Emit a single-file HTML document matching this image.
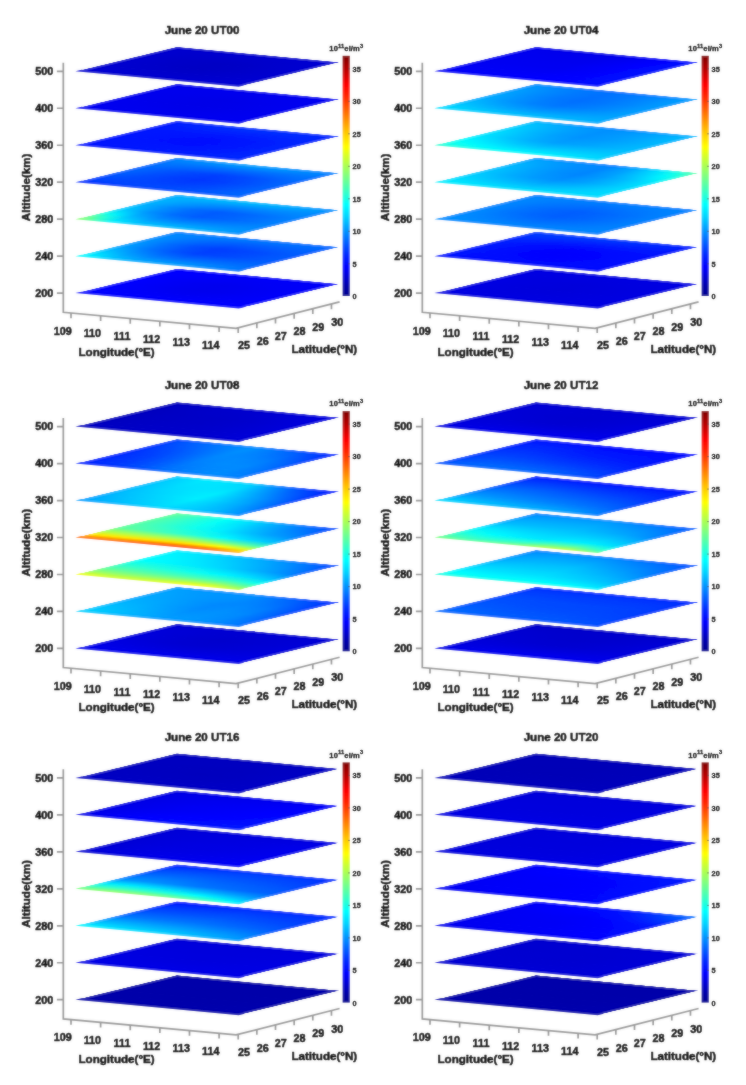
<!DOCTYPE html>
<html lang="en"><head><meta charset="utf-8"><title>June 20 electron density slices</title>
<style>html,body{margin:0;padding:0;background:#fff}body{width:746px;height:1085px;overflow:hidden}svg{display:block}text{stroke:#000;stroke-width:.5px;stroke-linejoin:round}text.s{stroke-width:.3px}#fig{width:746px;height:1085px}</style></head>
<body>
<div id="fig"><svg width="746" height="1085" viewBox="0 0 746 1085" font-family="'Liberation Sans', Arial, sans-serif" font-weight="bold"><defs><linearGradient id="mg1" x1="0" y1="0" x2="0" y2="1"><stop offset="0" stop-color="#000"/><stop offset="0.06" stop-color="#fff"/></linearGradient><mask id="m1" maskUnits="userSpaceOnUse" maskContentUnits="userSpaceOnUse" x="0" y="0" width="1" height="1"><rect width="1" height="1" fill="url(#mg1)"/></mask><linearGradient id="mg2" x1="0" y1="0" x2="0" y2="1"><stop offset="0.06" stop-color="#000"/><stop offset="0.14" stop-color="#fff"/></linearGradient><mask id="m2" maskUnits="userSpaceOnUse" maskContentUnits="userSpaceOnUse" x="0" y="0" width="1" height="1"><rect width="1" height="1" fill="url(#mg2)"/></mask><linearGradient id="mg3" x1="0" y1="0" x2="0" y2="1"><stop offset="0.14" stop-color="#000"/><stop offset="0.25" stop-color="#fff"/></linearGradient><mask id="m3" maskUnits="userSpaceOnUse" maskContentUnits="userSpaceOnUse" x="0" y="0" width="1" height="1"><rect width="1" height="1" fill="url(#mg3)"/></mask><linearGradient id="mg4" x1="0" y1="0" x2="0" y2="1"><stop offset="0.25" stop-color="#000"/><stop offset="0.4" stop-color="#fff"/></linearGradient><mask id="m4" maskUnits="userSpaceOnUse" maskContentUnits="userSpaceOnUse" x="0" y="0" width="1" height="1"><rect width="1" height="1" fill="url(#mg4)"/></mask><linearGradient id="mg5" x1="0" y1="0" x2="0" y2="1"><stop offset="0.4" stop-color="#000"/><stop offset="0.6" stop-color="#fff"/></linearGradient><mask id="m5" maskUnits="userSpaceOnUse" maskContentUnits="userSpaceOnUse" x="0" y="0" width="1" height="1"><rect width="1" height="1" fill="url(#mg5)"/></mask><linearGradient id="mg6" x1="0" y1="0" x2="0" y2="1"><stop offset="0.6" stop-color="#000"/><stop offset="0.8" stop-color="#fff"/></linearGradient><mask id="m6" maskUnits="userSpaceOnUse" maskContentUnits="userSpaceOnUse" x="0" y="0" width="1" height="1"><rect width="1" height="1" fill="url(#mg6)"/></mask><linearGradient id="mg7" x1="0" y1="0" x2="0" y2="1"><stop offset="0.8" stop-color="#000"/><stop offset="0.93" stop-color="#fff"/></linearGradient><mask id="m7" maskUnits="userSpaceOnUse" maskContentUnits="userSpaceOnUse" x="0" y="0" width="1" height="1"><rect width="1" height="1" fill="url(#mg7)"/></mask><linearGradient id="mg8" x1="0" y1="0" x2="0" y2="1"><stop offset="0.93" stop-color="#000"/><stop offset="1" stop-color="#fff"/></linearGradient><mask id="m8" maskUnits="userSpaceOnUse" maskContentUnits="userSpaceOnUse" x="0" y="0" width="1" height="1"><rect width="1" height="1" fill="url(#mg8)"/></mask><linearGradient id="cb" x1="0" y1="0" x2="0" y2="1"><stop offset="0" stop-color="#800000"/><stop offset="0.04" stop-color="#aa0000"/><stop offset="0.08" stop-color="#d50000"/><stop offset="0.12" stop-color="#ff0000"/><stop offset="0.17" stop-color="#ff2a00"/><stop offset="0.21" stop-color="#ff5500"/><stop offset="0.25" stop-color="#ff8000"/><stop offset="0.29" stop-color="#ffaa00"/><stop offset="0.33" stop-color="#ffd400"/><stop offset="0.38" stop-color="#ffff00"/><stop offset="0.42" stop-color="#d4ff2b"/><stop offset="0.46" stop-color="#aaff55"/><stop offset="0.5" stop-color="#80ff80"/><stop offset="0.54" stop-color="#55ffaa"/><stop offset="0.58" stop-color="#2affd5"/><stop offset="0.62" stop-color="#00ffff"/><stop offset="0.67" stop-color="#00d5ff"/><stop offset="0.71" stop-color="#00aaff"/><stop offset="0.75" stop-color="#0080ff"/><stop offset="0.79" stop-color="#0055ff"/><stop offset="0.83" stop-color="#002aff"/><stop offset="0.88" stop-color="#0000ff"/><stop offset="0.92" stop-color="#0000d5"/><stop offset="0.96" stop-color="#0000aa"/><stop offset="1" stop-color="#00008f"/></linearGradient><linearGradient id="g0_6_0"><stop offset="0" stop-color="#0002ff"/><stop offset="1" stop-color="#0002ff"/></linearGradient><linearGradient id="g0_6_1"><stop offset="0" stop-color="#0002ff"/><stop offset="0.04" stop-color="#0002ff"/><stop offset="0.1" stop-color="#0001ff"/><stop offset="0.2" stop-color="#0001ff"/><stop offset="0.35" stop-color="#0000ff"/><stop offset="0.5" stop-color="#0000fe"/><stop offset="0.65" stop-color="#0000fe"/><stop offset="0.8" stop-color="#0000ff"/><stop offset="0.9" stop-color="#0001ff"/><stop offset="1" stop-color="#0001ff"/></linearGradient><linearGradient id="g0_6_2"><stop offset="0" stop-color="#0002ff"/><stop offset="0.04" stop-color="#0001ff"/><stop offset="0.1" stop-color="#0000ff"/><stop offset="0.2" stop-color="#0000fd"/><stop offset="0.35" stop-color="#0000fb"/><stop offset="0.5" stop-color="#0000fa"/><stop offset="0.65" stop-color="#0000fb"/><stop offset="0.8" stop-color="#0000fc"/><stop offset="0.9" stop-color="#0000fe"/><stop offset="0.96" stop-color="#0000ff"/><stop offset="1" stop-color="#0000ff"/></linearGradient><linearGradient id="g0_6_3"><stop offset="0" stop-color="#0002ff"/><stop offset="0.04" stop-color="#0001ff"/><stop offset="0.1" stop-color="#0000fe"/><stop offset="0.2" stop-color="#0000fb"/><stop offset="0.35" stop-color="#0000f7"/><stop offset="0.5" stop-color="#0000f4"/><stop offset="0.65" stop-color="#0000f6"/><stop offset="0.8" stop-color="#0000f9"/><stop offset="0.9" stop-color="#0000fb"/><stop offset="0.96" stop-color="#0000fd"/><stop offset="1" stop-color="#0000fe"/></linearGradient><linearGradient id="g0_6_4"><stop offset="0" stop-color="#0002ff"/><stop offset="0.04" stop-color="#0000ff"/><stop offset="0.1" stop-color="#0000fc"/><stop offset="0.2" stop-color="#0000f8"/><stop offset="0.35" stop-color="#0000f2"/><stop offset="0.5" stop-color="#0000ef"/><stop offset="0.65" stop-color="#0000f1"/><stop offset="0.8" stop-color="#0000f6"/><stop offset="0.9" stop-color="#0000f9"/><stop offset="0.96" stop-color="#0000fb"/><stop offset="1" stop-color="#0000fd"/></linearGradient><linearGradient id="g0_6_5"><stop offset="0" stop-color="#0002ff"/><stop offset="0.04" stop-color="#0000ff"/><stop offset="0.1" stop-color="#0000fc"/><stop offset="0.2" stop-color="#0000f8"/><stop offset="0.35" stop-color="#0000f2"/><stop offset="0.5" stop-color="#0000ee"/><stop offset="0.65" stop-color="#0000f1"/><stop offset="0.8" stop-color="#0000f5"/><stop offset="0.9" stop-color="#0000f8"/><stop offset="0.96" stop-color="#0000fa"/><stop offset="1" stop-color="#0000fc"/></linearGradient><linearGradient id="g0_6_6"><stop offset="0" stop-color="#0002ff"/><stop offset="0.04" stop-color="#0001ff"/><stop offset="0.1" stop-color="#0000fe"/><stop offset="0.2" stop-color="#0000fb"/><stop offset="0.35" stop-color="#0000f7"/><stop offset="0.5" stop-color="#0000f4"/><stop offset="0.65" stop-color="#0000f5"/><stop offset="0.8" stop-color="#0000f7"/><stop offset="0.9" stop-color="#0000f8"/><stop offset="0.96" stop-color="#0000f9"/><stop offset="1" stop-color="#0000fa"/></linearGradient><linearGradient id="g0_6_7"><stop offset="0" stop-color="#0002ff"/><stop offset="0.04" stop-color="#0001ff"/><stop offset="0.1" stop-color="#0000ff"/><stop offset="0.2" stop-color="#0000fd"/><stop offset="0.35" stop-color="#0000fb"/><stop offset="0.5" stop-color="#0000f9"/><stop offset="0.8" stop-color="#0000f9"/><stop offset="0.9" stop-color="#0000f8"/><stop offset="1" stop-color="#0000f8"/></linearGradient><linearGradient id="g0_6_8"><stop offset="0" stop-color="#0002ff"/><stop offset="0.04" stop-color="#0002ff"/><stop offset="0.1" stop-color="#0001ff"/><stop offset="0.2" stop-color="#0000ff"/><stop offset="0.35" stop-color="#0000fd"/><stop offset="0.5" stop-color="#0000fc"/><stop offset="0.65" stop-color="#0000fb"/><stop offset="0.8" stop-color="#0000fa"/><stop offset="0.9" stop-color="#0000f8"/><stop offset="0.96" stop-color="#0000f8"/><stop offset="1" stop-color="#0000f7"/></linearGradient><linearGradient id="g0_5_0"><stop offset="0" stop-color="#03fffc"/><stop offset="0.04" stop-color="#00fdff"/><stop offset="0.1" stop-color="#00efff"/><stop offset="0.2" stop-color="#00d2ff"/><stop offset="0.35" stop-color="#00b7ff"/><stop offset="0.5" stop-color="#00b0ff"/><stop offset="0.65" stop-color="#00a6ff"/><stop offset="0.8" stop-color="#0095ff"/><stop offset="0.9" stop-color="#0087ff"/><stop offset="0.96" stop-color="#007fff"/><stop offset="1" stop-color="#0079ff"/></linearGradient><linearGradient id="g0_5_1"><stop offset="0" stop-color="#00faff"/><stop offset="0.04" stop-color="#00f3ff"/><stop offset="0.1" stop-color="#00e3ff"/><stop offset="0.2" stop-color="#00c3ff"/><stop offset="0.35" stop-color="#00a5ff"/><stop offset="0.5" stop-color="#009bff"/><stop offset="0.65" stop-color="#0094ff"/><stop offset="0.8" stop-color="#0088ff"/><stop offset="0.9" stop-color="#007fff"/><stop offset="0.96" stop-color="#0078ff"/><stop offset="1" stop-color="#0074ff"/></linearGradient><linearGradient id="g0_5_2"><stop offset="0" stop-color="#00e8ff"/><stop offset="0.04" stop-color="#00e0ff"/><stop offset="0.1" stop-color="#00cfff"/><stop offset="0.2" stop-color="#00aeff"/><stop offset="0.35" stop-color="#008eff"/><stop offset="0.5" stop-color="#0081ff"/><stop offset="0.65" stop-color="#007eff"/><stop offset="0.8" stop-color="#0078ff"/><stop offset="0.9" stop-color="#0074ff"/><stop offset="0.96" stop-color="#0071ff"/><stop offset="1" stop-color="#006fff"/></linearGradient><linearGradient id="g0_5_3"><stop offset="0" stop-color="#00cdff"/><stop offset="0.04" stop-color="#00c3ff"/><stop offset="0.1" stop-color="#00b1ff"/><stop offset="0.2" stop-color="#0093ff"/><stop offset="0.35" stop-color="#0072ff"/><stop offset="0.5" stop-color="#0063ff"/><stop offset="0.65" stop-color="#0064ff"/><stop offset="0.8" stop-color="#0066ff"/><stop offset="0.9" stop-color="#0067ff"/><stop offset="0.96" stop-color="#0068ff"/><stop offset="1" stop-color="#0069ff"/></linearGradient><linearGradient id="g0_5_4"><stop offset="0" stop-color="#00b0ff"/><stop offset="0.04" stop-color="#00a4ff"/><stop offset="0.1" stop-color="#0092ff"/><stop offset="0.2" stop-color="#0075ff"/><stop offset="0.35" stop-color="#0055ff"/><stop offset="0.5" stop-color="#0042ff"/><stop offset="0.65" stop-color="#0048ff"/><stop offset="0.8" stop-color="#0052ff"/><stop offset="0.9" stop-color="#0059ff"/><stop offset="0.96" stop-color="#005eff"/><stop offset="1" stop-color="#0062ff"/></linearGradient><linearGradient id="g0_5_5"><stop offset="0" stop-color="#00a0ff"/><stop offset="0.04" stop-color="#0095ff"/><stop offset="0.1" stop-color="#0085ff"/><stop offset="0.2" stop-color="#006dff"/><stop offset="0.35" stop-color="#0050ff"/><stop offset="0.5" stop-color="#003eff"/><stop offset="0.65" stop-color="#0044ff"/><stop offset="0.8" stop-color="#004fff"/><stop offset="0.9" stop-color="#0057ff"/><stop offset="0.96" stop-color="#005cff"/><stop offset="1" stop-color="#0060ff"/></linearGradient><linearGradient id="g0_5_6"><stop offset="0" stop-color="#0095ff"/><stop offset="0.04" stop-color="#008eff"/><stop offset="0.1" stop-color="#0085ff"/><stop offset="0.2" stop-color="#0077ff"/><stop offset="0.35" stop-color="#0067ff"/><stop offset="0.5" stop-color="#005dff"/><stop offset="0.65" stop-color="#005eff"/><stop offset="0.8" stop-color="#0061ff"/><stop offset="0.9" stop-color="#0063ff"/><stop offset="0.96" stop-color="#0064ff"/><stop offset="1" stop-color="#0065ff"/></linearGradient><linearGradient id="g0_5_7"><stop offset="0" stop-color="#008cff"/><stop offset="0.04" stop-color="#0089ff"/><stop offset="0.1" stop-color="#0086ff"/><stop offset="0.2" stop-color="#0081ff"/><stop offset="0.35" stop-color="#007aff"/><stop offset="0.5" stop-color="#0076ff"/><stop offset="0.65" stop-color="#0074ff"/><stop offset="0.8" stop-color="#0070ff"/><stop offset="0.9" stop-color="#006dff"/><stop offset="0.96" stop-color="#006bff"/><stop offset="1" stop-color="#0069ff"/></linearGradient><linearGradient id="g0_5_8"><stop offset="0" stop-color="#0086ff"/><stop offset="0.5" stop-color="#0086ff"/><stop offset="0.65" stop-color="#0081ff"/><stop offset="0.8" stop-color="#0079ff"/><stop offset="0.9" stop-color="#0073ff"/><stop offset="0.96" stop-color="#006fff"/><stop offset="1" stop-color="#006cff"/></linearGradient><linearGradient id="g0_4_0"><stop offset="0" stop-color="#8dff72"/><stop offset="0.04" stop-color="#80ff7f"/><stop offset="0.1" stop-color="#50ffaf"/><stop offset="0.2" stop-color="#00fbff"/><stop offset="0.35" stop-color="#00d2ff"/><stop offset="0.5" stop-color="#00cbff"/><stop offset="0.65" stop-color="#00c1ff"/><stop offset="0.8" stop-color="#00b0ff"/><stop offset="0.9" stop-color="#00a3ff"/><stop offset="0.96" stop-color="#009aff"/><stop offset="1" stop-color="#0094ff"/></linearGradient><linearGradient id="g0_4_1"><stop offset="0" stop-color="#80ff7f"/><stop offset="0.04" stop-color="#72ff8d"/><stop offset="0.1" stop-color="#41ffbe"/><stop offset="0.2" stop-color="#00ecff"/><stop offset="0.35" stop-color="#00c0ff"/><stop offset="0.5" stop-color="#00b7ff"/><stop offset="0.65" stop-color="#00b0ff"/><stop offset="0.8" stop-color="#00a5ff"/><stop offset="0.9" stop-color="#009cff"/><stop offset="0.96" stop-color="#0096ff"/><stop offset="1" stop-color="#0092ff"/></linearGradient><linearGradient id="g0_4_2"><stop offset="0" stop-color="#5effa1"/><stop offset="0.04" stop-color="#4fffb0"/><stop offset="0.1" stop-color="#23ffdc"/><stop offset="0.2" stop-color="#00d5ff"/><stop offset="0.35" stop-color="#00a9ff"/><stop offset="0.5" stop-color="#009dff"/><stop offset="0.65" stop-color="#009aff"/><stop offset="0.8" stop-color="#0096ff"/><stop offset="0.9" stop-color="#0093ff"/><stop offset="0.96" stop-color="#0091ff"/><stop offset="1" stop-color="#008fff"/></linearGradient><linearGradient id="g0_4_3"><stop offset="0" stop-color="#21ffde"/><stop offset="0.04" stop-color="#13ffec"/><stop offset="0.1" stop-color="#00efff"/><stop offset="0.2" stop-color="#00b5ff"/><stop offset="0.35" stop-color="#008cff"/><stop offset="0.5" stop-color="#007dff"/><stop offset="0.65" stop-color="#007fff"/><stop offset="0.8" stop-color="#0084ff"/><stop offset="0.9" stop-color="#0088ff"/><stop offset="0.96" stop-color="#008aff"/><stop offset="1" stop-color="#008cff"/></linearGradient><linearGradient id="g0_4_4"><stop offset="0" stop-color="#00deff"/><stop offset="0.04" stop-color="#00d1ff"/><stop offset="0.1" stop-color="#00b9ff"/><stop offset="0.2" stop-color="#0093ff"/><stop offset="0.35" stop-color="#006eff"/><stop offset="0.5" stop-color="#005cff"/><stop offset="0.65" stop-color="#0064ff"/><stop offset="0.8" stop-color="#0071ff"/><stop offset="0.9" stop-color="#007bff"/><stop offset="0.96" stop-color="#0083ff"/><stop offset="1" stop-color="#0088ff"/></linearGradient><linearGradient id="g0_4_5"><stop offset="0" stop-color="#00bfff"/><stop offset="0.04" stop-color="#00b4ff"/><stop offset="0.1" stop-color="#00a4ff"/><stop offset="0.2" stop-color="#008bff"/><stop offset="0.35" stop-color="#006dff"/><stop offset="0.5" stop-color="#005cff"/><stop offset="0.65" stop-color="#0064ff"/><stop offset="0.8" stop-color="#0071ff"/><stop offset="0.9" stop-color="#007bff"/><stop offset="0.96" stop-color="#0083ff"/><stop offset="1" stop-color="#0088ff"/></linearGradient><linearGradient id="g0_4_6"><stop offset="0" stop-color="#00b7ff"/><stop offset="0.04" stop-color="#00b2ff"/><stop offset="0.1" stop-color="#00abff"/><stop offset="0.2" stop-color="#00a0ff"/><stop offset="0.35" stop-color="#0093ff"/><stop offset="0.5" stop-color="#008bff"/><stop offset="0.65" stop-color="#008bff"/><stop offset="0.8" stop-color="#008cff"/><stop offset="0.9" stop-color="#008cff"/><stop offset="0.96" stop-color="#008dff"/><stop offset="1" stop-color="#008dff"/></linearGradient><linearGradient id="g0_4_7"><stop offset="0" stop-color="#00b2ff"/><stop offset="0.04" stop-color="#00b2ff"/><stop offset="0.1" stop-color="#00b3ff"/><stop offset="0.5" stop-color="#00b3ff"/><stop offset="0.65" stop-color="#00adff"/><stop offset="0.8" stop-color="#00a3ff"/><stop offset="0.9" stop-color="#009bff"/><stop offset="0.96" stop-color="#0095ff"/><stop offset="1" stop-color="#0092ff"/></linearGradient><linearGradient id="g0_4_8"><stop offset="0" stop-color="#00b0ff"/><stop offset="0.04" stop-color="#00b3ff"/><stop offset="0.1" stop-color="#00b7ff"/><stop offset="0.2" stop-color="#00beff"/><stop offset="0.35" stop-color="#00c6ff"/><stop offset="0.5" stop-color="#00cbff"/><stop offset="0.65" stop-color="#00c1ff"/><stop offset="0.8" stop-color="#00b0ff"/><stop offset="0.9" stop-color="#00a3ff"/><stop offset="0.96" stop-color="#009aff"/><stop offset="1" stop-color="#0094ff"/></linearGradient><linearGradient id="g0_3_0"><stop offset="0" stop-color="#002bff"/><stop offset="0.04" stop-color="#0030ff"/><stop offset="0.1" stop-color="#0036ff"/><stop offset="0.2" stop-color="#003fff"/><stop offset="0.35" stop-color="#004bff"/><stop offset="0.5" stop-color="#0052ff"/><stop offset="0.65" stop-color="#0057ff"/><stop offset="0.8" stop-color="#005fff"/><stop offset="0.9" stop-color="#0065ff"/><stop offset="0.96" stop-color="#0069ff"/><stop offset="1" stop-color="#006cff"/></linearGradient><linearGradient id="g0_3_1"><stop offset="0" stop-color="#0036ff"/><stop offset="0.04" stop-color="#0038ff"/><stop offset="0.1" stop-color="#003cff"/><stop offset="0.2" stop-color="#0042ff"/><stop offset="0.35" stop-color="#0049ff"/><stop offset="0.5" stop-color="#004dff"/><stop offset="0.65" stop-color="#0053ff"/><stop offset="0.8" stop-color="#005cff"/><stop offset="0.9" stop-color="#0063ff"/><stop offset="0.96" stop-color="#0068ff"/><stop offset="1" stop-color="#006cff"/></linearGradient><linearGradient id="g0_3_2"><stop offset="0" stop-color="#0043ff"/><stop offset="0.04" stop-color="#0044ff"/><stop offset="0.1" stop-color="#0044ff"/><stop offset="0.2" stop-color="#0045ff"/><stop offset="0.35" stop-color="#0046ff"/><stop offset="0.5" stop-color="#0047ff"/><stop offset="0.65" stop-color="#004eff"/><stop offset="0.8" stop-color="#0059ff"/><stop offset="0.9" stop-color="#0062ff"/><stop offset="0.96" stop-color="#0068ff"/><stop offset="1" stop-color="#006cff"/></linearGradient><linearGradient id="g0_3_3"><stop offset="0" stop-color="#0053ff"/><stop offset="0.04" stop-color="#0051ff"/><stop offset="0.1" stop-color="#004eff"/><stop offset="0.2" stop-color="#0049ff"/><stop offset="0.35" stop-color="#0043ff"/><stop offset="0.5" stop-color="#003fff"/><stop offset="0.65" stop-color="#0047ff"/><stop offset="0.8" stop-color="#0055ff"/><stop offset="0.9" stop-color="#0060ff"/><stop offset="0.96" stop-color="#0067ff"/><stop offset="1" stop-color="#006cff"/></linearGradient><linearGradient id="g0_3_4"><stop offset="0" stop-color="#0065ff"/><stop offset="0.04" stop-color="#0060ff"/><stop offset="0.1" stop-color="#0058ff"/><stop offset="0.2" stop-color="#004dff"/><stop offset="0.35" stop-color="#003fff"/><stop offset="0.5" stop-color="#0036ff"/><stop offset="0.65" stop-color="#0040ff"/><stop offset="0.8" stop-color="#0050ff"/><stop offset="0.9" stop-color="#005dff"/><stop offset="0.96" stop-color="#0066ff"/><stop offset="1" stop-color="#006cff"/></linearGradient><linearGradient id="g0_3_5"><stop offset="0" stop-color="#006eff"/><stop offset="0.04" stop-color="#0069ff"/><stop offset="0.1" stop-color="#0062ff"/><stop offset="0.2" stop-color="#0057ff"/><stop offset="0.35" stop-color="#0048ff"/><stop offset="0.5" stop-color="#0040ff"/><stop offset="0.65" stop-color="#0048ff"/><stop offset="0.8" stop-color="#0057ff"/><stop offset="0.9" stop-color="#0062ff"/><stop offset="0.96" stop-color="#0069ff"/><stop offset="1" stop-color="#006eff"/></linearGradient><linearGradient id="g0_3_6"><stop offset="0" stop-color="#0078ff"/><stop offset="0.04" stop-color="#0077ff"/><stop offset="0.1" stop-color="#0076ff"/><stop offset="0.2" stop-color="#0073ff"/><stop offset="0.35" stop-color="#0070ff"/><stop offset="0.5" stop-color="#006eff"/><stop offset="0.65" stop-color="#0070ff"/><stop offset="0.8" stop-color="#0073ff"/><stop offset="0.9" stop-color="#0076ff"/><stop offset="0.96" stop-color="#0077ff"/><stop offset="1" stop-color="#0078ff"/></linearGradient><linearGradient id="g0_3_7"><stop offset="0" stop-color="#0081ff"/><stop offset="0.04" stop-color="#0084ff"/><stop offset="0.1" stop-color="#0087ff"/><stop offset="0.2" stop-color="#008cff"/><stop offset="0.35" stop-color="#0093ff"/><stop offset="0.5" stop-color="#0097ff"/><stop offset="0.65" stop-color="#0093ff"/><stop offset="0.8" stop-color="#008cff"/><stop offset="0.9" stop-color="#0087ff"/><stop offset="0.96" stop-color="#0084ff"/><stop offset="1" stop-color="#0081ff"/></linearGradient><linearGradient id="g0_3_8"><stop offset="0" stop-color="#0086ff"/><stop offset="0.04" stop-color="#008bff"/><stop offset="0.1" stop-color="#0091ff"/><stop offset="0.2" stop-color="#009cff"/><stop offset="0.35" stop-color="#00a8ff"/><stop offset="0.5" stop-color="#00b0ff"/><stop offset="0.65" stop-color="#00a8ff"/><stop offset="0.8" stop-color="#009cff"/><stop offset="0.9" stop-color="#0091ff"/><stop offset="0.96" stop-color="#008bff"/><stop offset="1" stop-color="#0086ff"/></linearGradient><linearGradient id="g0_2_0"><stop offset="0" stop-color="#0012ff"/><stop offset="0.04" stop-color="#0013ff"/><stop offset="0.1" stop-color="#0015ff"/><stop offset="0.2" stop-color="#0018ff"/><stop offset="0.35" stop-color="#001cff"/><stop offset="0.5" stop-color="#001fff"/><stop offset="0.65" stop-color="#0021ff"/><stop offset="0.8" stop-color="#0025ff"/><stop offset="0.9" stop-color="#0028ff"/><stop offset="0.96" stop-color="#002aff"/><stop offset="1" stop-color="#002bff"/></linearGradient><linearGradient id="g0_2_1"><stop offset="0" stop-color="#0013ff"/><stop offset="0.04" stop-color="#0014ff"/><stop offset="0.1" stop-color="#0015ff"/><stop offset="0.2" stop-color="#0017ff"/><stop offset="0.35" stop-color="#001aff"/><stop offset="0.5" stop-color="#001cff"/><stop offset="0.65" stop-color="#001eff"/><stop offset="0.8" stop-color="#0023ff"/><stop offset="0.9" stop-color="#0027ff"/><stop offset="0.96" stop-color="#0029ff"/><stop offset="1" stop-color="#002bff"/></linearGradient><linearGradient id="g0_2_2"><stop offset="0" stop-color="#0014ff"/><stop offset="0.04" stop-color="#0014ff"/><stop offset="0.1" stop-color="#0015ff"/><stop offset="0.2" stop-color="#0016ff"/><stop offset="0.35" stop-color="#0017ff"/><stop offset="0.5" stop-color="#0018ff"/><stop offset="0.65" stop-color="#001bff"/><stop offset="0.8" stop-color="#0021ff"/><stop offset="0.9" stop-color="#0025ff"/><stop offset="0.96" stop-color="#0028ff"/><stop offset="1" stop-color="#002aff"/></linearGradient><linearGradient id="g0_2_3"><stop offset="0" stop-color="#0016ff"/><stop offset="0.04" stop-color="#0015ff"/><stop offset="0.2" stop-color="#0015ff"/><stop offset="0.35" stop-color="#0014ff"/><stop offset="0.5" stop-color="#0013ff"/><stop offset="0.65" stop-color="#0018ff"/><stop offset="0.8" stop-color="#001eff"/><stop offset="0.9" stop-color="#0024ff"/><stop offset="0.96" stop-color="#0027ff"/><stop offset="1" stop-color="#002aff"/></linearGradient><linearGradient id="g0_2_4"><stop offset="0" stop-color="#0017ff"/><stop offset="0.04" stop-color="#0016ff"/><stop offset="0.1" stop-color="#0015ff"/><stop offset="0.2" stop-color="#0013ff"/><stop offset="0.35" stop-color="#0010ff"/><stop offset="0.5" stop-color="#000eff"/><stop offset="0.65" stop-color="#0013ff"/><stop offset="0.8" stop-color="#001bff"/><stop offset="0.9" stop-color="#0022ff"/><stop offset="0.96" stop-color="#0026ff"/><stop offset="1" stop-color="#0029ff"/></linearGradient><linearGradient id="g0_2_5"><stop offset="0" stop-color="#0019ff"/><stop offset="0.04" stop-color="#0018ff"/><stop offset="0.1" stop-color="#0017ff"/><stop offset="0.2" stop-color="#0015ff"/><stop offset="0.35" stop-color="#0013ff"/><stop offset="0.5" stop-color="#0011ff"/><stop offset="0.65" stop-color="#0016ff"/><stop offset="0.8" stop-color="#001dff"/><stop offset="0.9" stop-color="#0022ff"/><stop offset="0.96" stop-color="#0026ff"/><stop offset="1" stop-color="#0029ff"/></linearGradient><linearGradient id="g0_2_6"><stop offset="0" stop-color="#001bff"/><stop offset="0.04" stop-color="#001cff"/><stop offset="0.1" stop-color="#001dff"/><stop offset="0.2" stop-color="#001fff"/><stop offset="0.35" stop-color="#0022ff"/><stop offset="0.5" stop-color="#0023ff"/><stop offset="0.65" stop-color="#0024ff"/><stop offset="0.8" stop-color="#0025ff"/><stop offset="0.9" stop-color="#0026ff"/><stop offset="0.96" stop-color="#0027ff"/><stop offset="1" stop-color="#0028ff"/></linearGradient><linearGradient id="g0_2_7"><stop offset="0" stop-color="#001dff"/><stop offset="0.04" stop-color="#0020ff"/><stop offset="0.1" stop-color="#0023ff"/><stop offset="0.2" stop-color="#0028ff"/><stop offset="0.35" stop-color="#002eff"/><stop offset="0.5" stop-color="#0032ff"/><stop offset="0.65" stop-color="#0030ff"/><stop offset="0.8" stop-color="#002dff"/><stop offset="0.9" stop-color="#002aff"/><stop offset="0.96" stop-color="#0028ff"/><stop offset="1" stop-color="#0027ff"/></linearGradient><linearGradient id="g0_2_8"><stop offset="0" stop-color="#001fff"/><stop offset="0.04" stop-color="#0022ff"/><stop offset="0.1" stop-color="#0026ff"/><stop offset="0.2" stop-color="#002dff"/><stop offset="0.35" stop-color="#0036ff"/><stop offset="0.5" stop-color="#003bff"/><stop offset="0.65" stop-color="#0037ff"/><stop offset="0.8" stop-color="#0031ff"/><stop offset="0.9" stop-color="#002cff"/><stop offset="0.96" stop-color="#0029ff"/><stop offset="1" stop-color="#0026ff"/></linearGradient><linearGradient id="g0_1_0"><stop offset="0" stop-color="#0000f2"/><stop offset="1" stop-color="#0000f2"/></linearGradient><linearGradient id="g0_1_1"><stop offset="0" stop-color="#0000f1"/><stop offset="0.2" stop-color="#0000f1"/><stop offset="0.35" stop-color="#0000f0"/><stop offset="0.65" stop-color="#0000f0"/><stop offset="0.8" stop-color="#0000f1"/><stop offset="0.9" stop-color="#0000f1"/><stop offset="0.96" stop-color="#0000f2"/><stop offset="1" stop-color="#0000f2"/></linearGradient><linearGradient id="g0_1_2"><stop offset="0" stop-color="#0000f1"/><stop offset="0.04" stop-color="#0000f1"/><stop offset="0.1" stop-color="#0000f0"/><stop offset="0.2" stop-color="#0000ef"/><stop offset="0.35" stop-color="#0000ef"/><stop offset="0.5" stop-color="#0000ee"/><stop offset="0.65" stop-color="#0000ef"/><stop offset="0.8" stop-color="#0000f0"/><stop offset="0.9" stop-color="#0000f1"/><stop offset="0.96" stop-color="#0000f1"/><stop offset="1" stop-color="#0000f2"/></linearGradient><linearGradient id="g0_1_3"><stop offset="0" stop-color="#0000f0"/><stop offset="0.04" stop-color="#0000f0"/><stop offset="0.1" stop-color="#0000ef"/><stop offset="0.2" stop-color="#0000ee"/><stop offset="0.35" stop-color="#0000ec"/><stop offset="0.5" stop-color="#0000eb"/><stop offset="0.65" stop-color="#0000ed"/><stop offset="0.8" stop-color="#0000ef"/><stop offset="0.9" stop-color="#0000f0"/><stop offset="0.96" stop-color="#0000f1"/><stop offset="1" stop-color="#0000f2"/></linearGradient><linearGradient id="g0_1_4"><stop offset="0" stop-color="#0000f0"/><stop offset="0.04" stop-color="#0000ef"/><stop offset="0.1" stop-color="#0000ee"/><stop offset="0.2" stop-color="#0000ec"/><stop offset="0.35" stop-color="#0000ea"/><stop offset="0.5" stop-color="#0000e9"/><stop offset="0.65" stop-color="#0000ea"/><stop offset="0.8" stop-color="#0000ed"/><stop offset="0.9" stop-color="#0000ef"/><stop offset="0.96" stop-color="#0000f1"/><stop offset="1" stop-color="#0000f2"/></linearGradient><linearGradient id="g0_1_5"><stop offset="0" stop-color="#0000ef"/><stop offset="0.04" stop-color="#0000ee"/><stop offset="0.1" stop-color="#0000ed"/><stop offset="0.2" stop-color="#0000ec"/><stop offset="0.35" stop-color="#0000ea"/><stop offset="0.5" stop-color="#0000e8"/><stop offset="0.65" stop-color="#0000ea"/><stop offset="0.8" stop-color="#0000ed"/><stop offset="0.9" stop-color="#0000ef"/><stop offset="0.96" stop-color="#0000f1"/><stop offset="1" stop-color="#0000f2"/></linearGradient><linearGradient id="g0_1_6"><stop offset="0" stop-color="#0000ee"/><stop offset="0.04" stop-color="#0000ee"/><stop offset="0.1" stop-color="#0000ed"/><stop offset="0.2" stop-color="#0000ed"/><stop offset="0.35" stop-color="#0000ec"/><stop offset="0.5" stop-color="#0000eb"/><stop offset="0.65" stop-color="#0000ed"/><stop offset="0.8" stop-color="#0000ee"/><stop offset="0.9" stop-color="#0000f0"/><stop offset="0.96" stop-color="#0000f1"/><stop offset="1" stop-color="#0000f2"/></linearGradient><linearGradient id="g0_1_7"><stop offset="0" stop-color="#0000ed"/><stop offset="0.2" stop-color="#0000ed"/><stop offset="0.35" stop-color="#0000ee"/><stop offset="0.5" stop-color="#0000ee"/><stop offset="0.65" stop-color="#0000ef"/><stop offset="0.8" stop-color="#0000f0"/><stop offset="0.9" stop-color="#0000f1"/><stop offset="0.96" stop-color="#0000f1"/><stop offset="1" stop-color="#0000f2"/></linearGradient><linearGradient id="g0_1_8"><stop offset="0" stop-color="#0000ed"/><stop offset="0.1" stop-color="#0000ed"/><stop offset="0.2" stop-color="#0000ee"/><stop offset="0.35" stop-color="#0000ef"/><stop offset="0.5" stop-color="#0000ef"/><stop offset="0.65" stop-color="#0000f0"/><stop offset="0.8" stop-color="#0000f0"/><stop offset="0.9" stop-color="#0000f1"/><stop offset="0.96" stop-color="#0000f2"/><stop offset="1" stop-color="#0000f2"/></linearGradient><linearGradient id="g0_0_0"><stop offset="0" stop-color="#0000d3"/><stop offset="1" stop-color="#0000d3"/></linearGradient><linearGradient id="g0_0_1"><stop offset="0" stop-color="#0000d3"/><stop offset="0.04" stop-color="#0000d2"/><stop offset="0.1" stop-color="#0000d2"/><stop offset="0.2" stop-color="#0000d1"/><stop offset="0.35" stop-color="#0000d1"/><stop offset="0.5" stop-color="#0000d0"/><stop offset="0.65" stop-color="#0000d1"/><stop offset="0.8" stop-color="#0000d2"/><stop offset="0.9" stop-color="#0000d2"/><stop offset="0.96" stop-color="#0000d3"/><stop offset="1" stop-color="#0000d3"/></linearGradient><linearGradient id="g0_0_2"><stop offset="0" stop-color="#0000d2"/><stop offset="0.04" stop-color="#0000d1"/><stop offset="0.1" stop-color="#0000d1"/><stop offset="0.2" stop-color="#0000d0"/><stop offset="0.35" stop-color="#0000ce"/><stop offset="0.5" stop-color="#0000cd"/><stop offset="0.65" stop-color="#0000ce"/><stop offset="0.8" stop-color="#0000d0"/><stop offset="0.9" stop-color="#0000d1"/><stop offset="0.96" stop-color="#0000d2"/><stop offset="1" stop-color="#0000d3"/></linearGradient><linearGradient id="g0_0_3"><stop offset="0" stop-color="#0000d1"/><stop offset="0.04" stop-color="#0000d0"/><stop offset="0.1" stop-color="#0000cf"/><stop offset="0.2" stop-color="#0000cd"/><stop offset="0.35" stop-color="#0000cb"/><stop offset="0.5" stop-color="#0000c9"/><stop offset="0.65" stop-color="#0000cb"/><stop offset="0.8" stop-color="#0000ce"/><stop offset="0.9" stop-color="#0000d0"/><stop offset="0.96" stop-color="#0000d2"/><stop offset="1" stop-color="#0000d3"/></linearGradient><linearGradient id="g0_0_4"><stop offset="0" stop-color="#0000d1"/><stop offset="0.04" stop-color="#0000cf"/><stop offset="0.1" stop-color="#0000ce"/><stop offset="0.2" stop-color="#0000cb"/><stop offset="0.35" stop-color="#0000c7"/><stop offset="0.5" stop-color="#0000c5"/><stop offset="0.65" stop-color="#0000c8"/><stop offset="0.8" stop-color="#0000cc"/><stop offset="0.9" stop-color="#0000cf"/><stop offset="0.96" stop-color="#0000d1"/><stop offset="1" stop-color="#0000d3"/></linearGradient><linearGradient id="g0_0_5"><stop offset="0" stop-color="#0000d0"/><stop offset="0.04" stop-color="#0000cf"/><stop offset="0.1" stop-color="#0000cd"/><stop offset="0.2" stop-color="#0000ca"/><stop offset="0.35" stop-color="#0000c7"/><stop offset="0.5" stop-color="#0000c5"/><stop offset="0.65" stop-color="#0000c7"/><stop offset="0.8" stop-color="#0000cc"/><stop offset="0.9" stop-color="#0000cf"/><stop offset="0.96" stop-color="#0000d1"/><stop offset="1" stop-color="#0000d3"/></linearGradient><linearGradient id="g0_0_6"><stop offset="0" stop-color="#0000cf"/><stop offset="0.04" stop-color="#0000cf"/><stop offset="0.1" stop-color="#0000ce"/><stop offset="0.2" stop-color="#0000cc"/><stop offset="0.35" stop-color="#0000cb"/><stop offset="0.5" stop-color="#0000ca"/><stop offset="0.65" stop-color="#0000cb"/><stop offset="0.8" stop-color="#0000ce"/><stop offset="0.9" stop-color="#0000d0"/><stop offset="0.96" stop-color="#0000d2"/><stop offset="1" stop-color="#0000d3"/></linearGradient><linearGradient id="g0_0_7"><stop offset="0" stop-color="#0000ce"/><stop offset="0.5" stop-color="#0000ce"/><stop offset="0.65" stop-color="#0000cf"/><stop offset="0.8" stop-color="#0000d0"/><stop offset="0.9" stop-color="#0000d2"/><stop offset="0.96" stop-color="#0000d2"/><stop offset="1" stop-color="#0000d3"/></linearGradient><linearGradient id="g0_0_8"><stop offset="0" stop-color="#0000ce"/><stop offset="0.1" stop-color="#0000ce"/><stop offset="0.2" stop-color="#0000cf"/><stop offset="0.35" stop-color="#0000d0"/><stop offset="0.5" stop-color="#0000d0"/><stop offset="0.65" stop-color="#0000d1"/><stop offset="0.8" stop-color="#0000d2"/><stop offset="0.9" stop-color="#0000d2"/><stop offset="0.96" stop-color="#0000d3"/><stop offset="1" stop-color="#0000d3"/></linearGradient><linearGradient id="g1_6_0"><stop offset="0" stop-color="#0000e2"/><stop offset="1" stop-color="#0000e2"/></linearGradient><linearGradient id="g1_6_1"><stop offset="0" stop-color="#0000e2"/><stop offset="0.2" stop-color="#0000e2"/><stop offset="0.35" stop-color="#0000e1"/><stop offset="0.65" stop-color="#0000e1"/><stop offset="0.8" stop-color="#0000e2"/><stop offset="1" stop-color="#0000e2"/></linearGradient><linearGradient id="g1_6_2"><stop offset="0" stop-color="#0000e2"/><stop offset="0.1" stop-color="#0000e2"/><stop offset="0.2" stop-color="#0000e1"/><stop offset="0.35" stop-color="#0000e0"/><stop offset="0.65" stop-color="#0000e0"/><stop offset="0.8" stop-color="#0000e1"/><stop offset="0.9" stop-color="#0000e2"/><stop offset="1" stop-color="#0000e2"/></linearGradient><linearGradient id="g1_6_3"><stop offset="0" stop-color="#0000e2"/><stop offset="0.04" stop-color="#0000e2"/><stop offset="0.1" stop-color="#0000e1"/><stop offset="0.2" stop-color="#0000e0"/><stop offset="0.35" stop-color="#0000de"/><stop offset="0.65" stop-color="#0000de"/><stop offset="0.8" stop-color="#0000e0"/><stop offset="0.9" stop-color="#0000e1"/><stop offset="0.96" stop-color="#0000e2"/><stop offset="1" stop-color="#0000e2"/></linearGradient><linearGradient id="g1_6_4"><stop offset="0" stop-color="#0000e2"/><stop offset="0.04" stop-color="#0000e2"/><stop offset="0.1" stop-color="#0000e1"/><stop offset="0.2" stop-color="#0000df"/><stop offset="0.35" stop-color="#0000dd"/><stop offset="0.5" stop-color="#0000db"/><stop offset="0.65" stop-color="#0000dd"/><stop offset="0.8" stop-color="#0000df"/><stop offset="0.9" stop-color="#0000e1"/><stop offset="0.96" stop-color="#0000e2"/><stop offset="1" stop-color="#0000e2"/></linearGradient><linearGradient id="g1_6_5"><stop offset="0" stop-color="#0000e2"/><stop offset="0.04" stop-color="#0000e2"/><stop offset="0.1" stop-color="#0000e1"/><stop offset="0.2" stop-color="#0000df"/><stop offset="0.35" stop-color="#0000dd"/><stop offset="0.5" stop-color="#0000db"/><stop offset="0.65" stop-color="#0000dd"/><stop offset="0.8" stop-color="#0000df"/><stop offset="0.9" stop-color="#0000e1"/><stop offset="0.96" stop-color="#0000e2"/><stop offset="1" stop-color="#0000e2"/></linearGradient><linearGradient id="g1_6_6"><stop offset="0" stop-color="#0000e2"/><stop offset="0.04" stop-color="#0000e2"/><stop offset="0.1" stop-color="#0000e1"/><stop offset="0.2" stop-color="#0000e0"/><stop offset="0.35" stop-color="#0000df"/><stop offset="0.5" stop-color="#0000de"/><stop offset="0.65" stop-color="#0000df"/><stop offset="0.8" stop-color="#0000e0"/><stop offset="0.9" stop-color="#0000e1"/><stop offset="0.96" stop-color="#0000e2"/><stop offset="1" stop-color="#0000e2"/></linearGradient><linearGradient id="g1_6_7"><stop offset="0" stop-color="#0000e2"/><stop offset="0.2" stop-color="#0000e2"/><stop offset="0.35" stop-color="#0000e1"/><stop offset="0.65" stop-color="#0000e1"/><stop offset="0.8" stop-color="#0000e2"/><stop offset="1" stop-color="#0000e2"/></linearGradient><linearGradient id="g1_6_8"><stop offset="0" stop-color="#0000e2"/><stop offset="1" stop-color="#0000e2"/></linearGradient><linearGradient id="g1_5_0"><stop offset="0" stop-color="#0012ff"/><stop offset="0.04" stop-color="#0011ff"/><stop offset="0.1" stop-color="#0010ff"/><stop offset="0.2" stop-color="#000fff"/><stop offset="0.35" stop-color="#000dff"/><stop offset="0.5" stop-color="#000dff"/><stop offset="0.65" stop-color="#000cff"/><stop offset="0.8" stop-color="#000aff"/><stop offset="0.9" stop-color="#0009ff"/><stop offset="0.96" stop-color="#0008ff"/><stop offset="1" stop-color="#0007ff"/></linearGradient><linearGradient id="g1_5_1"><stop offset="0" stop-color="#0014ff"/><stop offset="0.04" stop-color="#0013ff"/><stop offset="0.1" stop-color="#0011ff"/><stop offset="0.2" stop-color="#000fff"/><stop offset="0.35" stop-color="#000cff"/><stop offset="0.5" stop-color="#000aff"/><stop offset="0.8" stop-color="#000aff"/><stop offset="0.9" stop-color="#0009ff"/><stop offset="1" stop-color="#0009ff"/></linearGradient><linearGradient id="g1_5_2"><stop offset="0" stop-color="#0016ff"/><stop offset="0.04" stop-color="#0015ff"/><stop offset="0.1" stop-color="#0012ff"/><stop offset="0.2" stop-color="#000eff"/><stop offset="0.35" stop-color="#000aff"/><stop offset="0.5" stop-color="#0007ff"/><stop offset="0.65" stop-color="#0008ff"/><stop offset="0.8" stop-color="#0009ff"/><stop offset="0.9" stop-color="#000aff"/><stop offset="0.96" stop-color="#000bff"/><stop offset="1" stop-color="#000cff"/></linearGradient><linearGradient id="g1_5_3"><stop offset="0" stop-color="#001aff"/><stop offset="0.04" stop-color="#0017ff"/><stop offset="0.1" stop-color="#0014ff"/><stop offset="0.2" stop-color="#000eff"/><stop offset="0.35" stop-color="#0007ff"/><stop offset="0.5" stop-color="#0003ff"/><stop offset="0.65" stop-color="#0005ff"/><stop offset="0.8" stop-color="#0009ff"/><stop offset="0.9" stop-color="#000bff"/><stop offset="0.96" stop-color="#000dff"/><stop offset="1" stop-color="#000fff"/></linearGradient><linearGradient id="g1_5_4"><stop offset="0" stop-color="#001dff"/><stop offset="0.04" stop-color="#001aff"/><stop offset="0.1" stop-color="#0015ff"/><stop offset="0.2" stop-color="#000eff"/><stop offset="0.35" stop-color="#0004ff"/><stop offset="0.5" stop-color="#0000fe"/><stop offset="0.65" stop-color="#0002ff"/><stop offset="0.8" stop-color="#0008ff"/><stop offset="0.9" stop-color="#000dff"/><stop offset="0.96" stop-color="#0010ff"/><stop offset="1" stop-color="#0012ff"/></linearGradient><linearGradient id="g1_5_5"><stop offset="0" stop-color="#0023ff"/><stop offset="0.04" stop-color="#001fff"/><stop offset="0.1" stop-color="#001bff"/><stop offset="0.2" stop-color="#0013ff"/><stop offset="0.35" stop-color="#000aff"/><stop offset="0.5" stop-color="#0005ff"/><stop offset="0.65" stop-color="#0008ff"/><stop offset="0.8" stop-color="#000cff"/><stop offset="0.9" stop-color="#0010ff"/><stop offset="0.96" stop-color="#0012ff"/><stop offset="1" stop-color="#0014ff"/></linearGradient><linearGradient id="g1_5_6"><stop offset="0" stop-color="#0031ff"/><stop offset="0.04" stop-color="#0030ff"/><stop offset="0.1" stop-color="#002dff"/><stop offset="0.2" stop-color="#0029ff"/><stop offset="0.35" stop-color="#0024ff"/><stop offset="0.5" stop-color="#0020ff"/><stop offset="0.65" stop-color="#001fff"/><stop offset="0.8" stop-color="#001dff"/><stop offset="0.9" stop-color="#001bff"/><stop offset="0.96" stop-color="#0019ff"/><stop offset="1" stop-color="#0019ff"/></linearGradient><linearGradient id="g1_5_7"><stop offset="0" stop-color="#003eff"/><stop offset="0.04" stop-color="#003dff"/><stop offset="0.1" stop-color="#003cff"/><stop offset="0.2" stop-color="#003bff"/><stop offset="0.35" stop-color="#0039ff"/><stop offset="0.5" stop-color="#0037ff"/><stop offset="0.65" stop-color="#0032ff"/><stop offset="0.8" stop-color="#002aff"/><stop offset="0.9" stop-color="#0024ff"/><stop offset="0.96" stop-color="#001fff"/><stop offset="1" stop-color="#001cff"/></linearGradient><linearGradient id="g1_5_8"><stop offset="0" stop-color="#0045ff"/><stop offset="0.5" stop-color="#0045ff"/><stop offset="0.65" stop-color="#003eff"/><stop offset="0.8" stop-color="#0032ff"/><stop offset="0.9" stop-color="#0029ff"/><stop offset="0.96" stop-color="#0023ff"/><stop offset="1" stop-color="#001fff"/></linearGradient><linearGradient id="g1_4_0"><stop offset="0" stop-color="#0094ff"/><stop offset="0.04" stop-color="#0093ff"/><stop offset="0.1" stop-color="#0092ff"/><stop offset="0.2" stop-color="#0091ff"/><stop offset="0.35" stop-color="#008fff"/><stop offset="0.5" stop-color="#008dff"/><stop offset="0.65" stop-color="#008cff"/><stop offset="0.8" stop-color="#008aff"/><stop offset="0.9" stop-color="#0088ff"/><stop offset="0.96" stop-color="#0087ff"/><stop offset="1" stop-color="#0086ff"/></linearGradient><linearGradient id="g1_4_1"><stop offset="0" stop-color="#0093ff"/><stop offset="0.04" stop-color="#0091ff"/><stop offset="0.1" stop-color="#008fff"/><stop offset="0.2" stop-color="#008cff"/><stop offset="0.35" stop-color="#0087ff"/><stop offset="0.5" stop-color="#0084ff"/><stop offset="0.65" stop-color="#0085ff"/><stop offset="0.8" stop-color="#0085ff"/><stop offset="0.9" stop-color="#0086ff"/><stop offset="1" stop-color="#0086ff"/></linearGradient><linearGradient id="g1_4_2"><stop offset="0" stop-color="#0092ff"/><stop offset="0.04" stop-color="#008fff"/><stop offset="0.1" stop-color="#008bff"/><stop offset="0.2" stop-color="#0085ff"/><stop offset="0.35" stop-color="#007eff"/><stop offset="0.5" stop-color="#0079ff"/><stop offset="0.65" stop-color="#007cff"/><stop offset="0.8" stop-color="#0080ff"/><stop offset="0.9" stop-color="#0083ff"/><stop offset="0.96" stop-color="#0085ff"/><stop offset="1" stop-color="#0086ff"/></linearGradient><linearGradient id="g1_4_3"><stop offset="0" stop-color="#0090ff"/><stop offset="0.04" stop-color="#008cff"/><stop offset="0.1" stop-color="#0086ff"/><stop offset="0.2" stop-color="#007eff"/><stop offset="0.35" stop-color="#0073ff"/><stop offset="0.5" stop-color="#006dff"/><stop offset="0.65" stop-color="#0071ff"/><stop offset="0.8" stop-color="#0079ff"/><stop offset="0.9" stop-color="#007fff"/><stop offset="0.96" stop-color="#0083ff"/><stop offset="1" stop-color="#0086ff"/></linearGradient><linearGradient id="g1_4_4"><stop offset="0" stop-color="#008eff"/><stop offset="0.04" stop-color="#0089ff"/><stop offset="0.1" stop-color="#0081ff"/><stop offset="0.2" stop-color="#0075ff"/><stop offset="0.35" stop-color="#0067ff"/><stop offset="0.5" stop-color="#005fff"/><stop offset="0.65" stop-color="#0066ff"/><stop offset="0.8" stop-color="#0072ff"/><stop offset="0.9" stop-color="#007bff"/><stop offset="0.96" stop-color="#0082ff"/><stop offset="1" stop-color="#0086ff"/></linearGradient><linearGradient id="g1_4_5"><stop offset="0" stop-color="#008dff"/><stop offset="0.04" stop-color="#0087ff"/><stop offset="0.1" stop-color="#0080ff"/><stop offset="0.2" stop-color="#0074ff"/><stop offset="0.35" stop-color="#0067ff"/><stop offset="0.5" stop-color="#005eff"/><stop offset="0.65" stop-color="#0066ff"/><stop offset="0.8" stop-color="#0071ff"/><stop offset="0.9" stop-color="#007bff"/><stop offset="0.96" stop-color="#0082ff"/><stop offset="1" stop-color="#0086ff"/></linearGradient><linearGradient id="g1_4_6"><stop offset="0" stop-color="#008aff"/><stop offset="0.04" stop-color="#0087ff"/><stop offset="0.1" stop-color="#0083ff"/><stop offset="0.2" stop-color="#007cff"/><stop offset="0.35" stop-color="#0074ff"/><stop offset="0.5" stop-color="#006fff"/><stop offset="0.65" stop-color="#0073ff"/><stop offset="0.8" stop-color="#007aff"/><stop offset="0.9" stop-color="#0080ff"/><stop offset="0.96" stop-color="#0084ff"/><stop offset="1" stop-color="#0086ff"/></linearGradient><linearGradient id="g1_4_7"><stop offset="0" stop-color="#0088ff"/><stop offset="0.04" stop-color="#0087ff"/><stop offset="0.1" stop-color="#0085ff"/><stop offset="0.2" stop-color="#0082ff"/><stop offset="0.35" stop-color="#007fff"/><stop offset="0.5" stop-color="#007dff"/><stop offset="0.65" stop-color="#007fff"/><stop offset="0.8" stop-color="#0082ff"/><stop offset="0.9" stop-color="#0084ff"/><stop offset="0.96" stop-color="#0085ff"/><stop offset="1" stop-color="#0086ff"/></linearGradient><linearGradient id="g1_4_8"><stop offset="0" stop-color="#0086ff"/><stop offset="1" stop-color="#0086ff"/></linearGradient><linearGradient id="g1_3_0"><stop offset="0" stop-color="#00f5ff"/><stop offset="0.04" stop-color="#00f3ff"/><stop offset="0.1" stop-color="#00f1ff"/><stop offset="0.2" stop-color="#00eeff"/><stop offset="0.35" stop-color="#00e9ff"/><stop offset="0.5" stop-color="#00e7ff"/><stop offset="0.65" stop-color="#00e4ff"/><stop offset="0.8" stop-color="#00e0ff"/><stop offset="0.9" stop-color="#00ddff"/><stop offset="0.96" stop-color="#00dbff"/><stop offset="1" stop-color="#00d9ff"/></linearGradient><linearGradient id="g1_3_1"><stop offset="0" stop-color="#00eeff"/><stop offset="0.04" stop-color="#00ebff"/><stop offset="0.1" stop-color="#00e8ff"/><stop offset="0.2" stop-color="#00e2ff"/><stop offset="0.35" stop-color="#00dbff"/><stop offset="0.5" stop-color="#00d7ff"/><stop offset="0.65" stop-color="#00d8ff"/><stop offset="0.8" stop-color="#00d9ff"/><stop offset="0.9" stop-color="#00daff"/><stop offset="0.96" stop-color="#00dbff"/><stop offset="1" stop-color="#00dbff"/></linearGradient><linearGradient id="g1_3_2"><stop offset="0" stop-color="#00e5ff"/><stop offset="0.04" stop-color="#00e2ff"/><stop offset="0.1" stop-color="#00dcff"/><stop offset="0.2" stop-color="#00d4ff"/><stop offset="0.35" stop-color="#00caff"/><stop offset="0.5" stop-color="#00c3ff"/><stop offset="0.65" stop-color="#00c8ff"/><stop offset="0.8" stop-color="#00d0ff"/><stop offset="0.9" stop-color="#00d7ff"/><stop offset="0.96" stop-color="#00dbff"/><stop offset="1" stop-color="#00deff"/></linearGradient><linearGradient id="g1_3_3"><stop offset="0" stop-color="#00dbff"/><stop offset="0.04" stop-color="#00d6ff"/><stop offset="0.1" stop-color="#00ceff"/><stop offset="0.2" stop-color="#00c2ff"/><stop offset="0.35" stop-color="#00b4ff"/><stop offset="0.5" stop-color="#00abff"/><stop offset="0.65" stop-color="#00b5ff"/><stop offset="0.8" stop-color="#00c6ff"/><stop offset="0.9" stop-color="#00d3ff"/><stop offset="0.96" stop-color="#00dcff"/><stop offset="1" stop-color="#00e2ff"/></linearGradient><linearGradient id="g1_3_4"><stop offset="0" stop-color="#00d0ff"/><stop offset="0.04" stop-color="#00c9ff"/><stop offset="0.1" stop-color="#00bfff"/><stop offset="0.2" stop-color="#00afff"/><stop offset="0.35" stop-color="#009cff"/><stop offset="0.5" stop-color="#0091ff"/><stop offset="0.65" stop-color="#00a0ff"/><stop offset="0.8" stop-color="#00baff"/><stop offset="0.9" stop-color="#00cfff"/><stop offset="0.96" stop-color="#00dcff"/><stop offset="1" stop-color="#00e5ff"/></linearGradient><linearGradient id="g1_3_5"><stop offset="0" stop-color="#00c7ff"/><stop offset="0.04" stop-color="#00c0ff"/><stop offset="0.1" stop-color="#00b6ff"/><stop offset="0.2" stop-color="#00a6ff"/><stop offset="0.35" stop-color="#0092ff"/><stop offset="0.5" stop-color="#0086ff"/><stop offset="0.65" stop-color="#009bff"/><stop offset="0.8" stop-color="#00bcff"/><stop offset="0.9" stop-color="#00d7ff"/><stop offset="0.96" stop-color="#00e8ff"/><stop offset="1" stop-color="#00f4ff"/></linearGradient><linearGradient id="g1_3_6"><stop offset="0" stop-color="#00b7ff"/><stop offset="0.04" stop-color="#00b2ff"/><stop offset="0.1" stop-color="#00aaff"/><stop offset="0.2" stop-color="#009eff"/><stop offset="0.35" stop-color="#008fff"/><stop offset="0.5" stop-color="#0086ff"/><stop offset="0.65" stop-color="#00a4ff"/><stop offset="0.8" stop-color="#00d3ff"/><stop offset="0.9" stop-color="#00f9ff"/><stop offset="0.96" stop-color="#13ffec"/><stop offset="1" stop-color="#25ffda"/></linearGradient><linearGradient id="g1_3_7"><stop offset="0" stop-color="#00aaff"/><stop offset="0.04" stop-color="#00a6ff"/><stop offset="0.1" stop-color="#00a0ff"/><stop offset="0.2" stop-color="#0098ff"/><stop offset="0.35" stop-color="#008dff"/><stop offset="0.5" stop-color="#0086ff"/><stop offset="0.65" stop-color="#00abff"/><stop offset="0.8" stop-color="#00e7ff"/><stop offset="0.9" stop-color="#17ffe8"/><stop offset="0.96" stop-color="#37ffc8"/><stop offset="1" stop-color="#4cffb3"/></linearGradient><linearGradient id="g1_3_8"><stop offset="0" stop-color="#00a2ff"/><stop offset="0.04" stop-color="#009fff"/><stop offset="0.1" stop-color="#009bff"/><stop offset="0.2" stop-color="#0094ff"/><stop offset="0.35" stop-color="#008cff"/><stop offset="0.5" stop-color="#0086ff"/><stop offset="0.65" stop-color="#00afff"/><stop offset="0.8" stop-color="#00f2ff"/><stop offset="0.9" stop-color="#29ffd6"/><stop offset="0.96" stop-color="#4cffb3"/><stop offset="1" stop-color="#64ff9b"/></linearGradient><linearGradient id="g1_2_0"><stop offset="0" stop-color="#2dffd2"/><stop offset="0.04" stop-color="#28ffd7"/><stop offset="0.1" stop-color="#22ffdd"/><stop offset="0.2" stop-color="#18ffe7"/><stop offset="0.35" stop-color="#0bfff4"/><stop offset="0.5" stop-color="#03fffc"/><stop offset="0.65" stop-color="#00fbff"/><stop offset="0.8" stop-color="#00eeff"/><stop offset="0.9" stop-color="#00e4ff"/><stop offset="0.96" stop-color="#00deff"/><stop offset="1" stop-color="#00d9ff"/></linearGradient><linearGradient id="g1_2_1"><stop offset="0" stop-color="#22ffdd"/><stop offset="0.04" stop-color="#1cffe3"/><stop offset="0.1" stop-color="#15ffea"/><stop offset="0.2" stop-color="#09fff6"/><stop offset="0.35" stop-color="#00f9ff"/><stop offset="0.5" stop-color="#00f0ff"/><stop offset="0.65" stop-color="#00ebff"/><stop offset="0.8" stop-color="#00e3ff"/><stop offset="0.9" stop-color="#00dcff"/><stop offset="0.96" stop-color="#00d8ff"/><stop offset="1" stop-color="#00d5ff"/></linearGradient><linearGradient id="g1_2_2"><stop offset="0" stop-color="#13ffec"/><stop offset="0.04" stop-color="#0dfff2"/><stop offset="0.1" stop-color="#04fffb"/><stop offset="0.2" stop-color="#00f5ff"/><stop offset="0.35" stop-color="#00e4ff"/><stop offset="0.5" stop-color="#00daff"/><stop offset="0.65" stop-color="#00d8ff"/><stop offset="0.8" stop-color="#00d4ff"/><stop offset="0.9" stop-color="#00d2ff"/><stop offset="0.96" stop-color="#00d0ff"/><stop offset="1" stop-color="#00cfff"/></linearGradient><linearGradient id="g1_2_3"><stop offset="0" stop-color="#02fffd"/><stop offset="0.04" stop-color="#00faff"/><stop offset="0.1" stop-color="#00efff"/><stop offset="0.2" stop-color="#00dfff"/><stop offset="0.35" stop-color="#00caff"/><stop offset="0.5" stop-color="#00beff"/><stop offset="0.65" stop-color="#00c0ff"/><stop offset="0.8" stop-color="#00c3ff"/><stop offset="0.9" stop-color="#00c5ff"/><stop offset="0.96" stop-color="#00c7ff"/><stop offset="1" stop-color="#00c8ff"/></linearGradient><linearGradient id="g1_2_4"><stop offset="0" stop-color="#00eeff"/><stop offset="0.04" stop-color="#00e5ff"/><stop offset="0.1" stop-color="#00d9ff"/><stop offset="0.2" stop-color="#00c6ff"/><stop offset="0.35" stop-color="#00aeff"/><stop offset="0.5" stop-color="#00a0ff"/><stop offset="0.65" stop-color="#00a6ff"/><stop offset="0.8" stop-color="#00b0ff"/><stop offset="0.9" stop-color="#00b8ff"/><stop offset="0.96" stop-color="#00bdff"/><stop offset="1" stop-color="#00c0ff"/></linearGradient><linearGradient id="g1_2_5"><stop offset="0" stop-color="#00e3ff"/><stop offset="0.04" stop-color="#00daff"/><stop offset="0.1" stop-color="#00cdff"/><stop offset="0.2" stop-color="#00baff"/><stop offset="0.35" stop-color="#00a2ff"/><stop offset="0.5" stop-color="#0094ff"/><stop offset="0.65" stop-color="#009bff"/><stop offset="0.8" stop-color="#00a8ff"/><stop offset="0.9" stop-color="#00b2ff"/><stop offset="0.96" stop-color="#00b9ff"/><stop offset="1" stop-color="#00beff"/></linearGradient><linearGradient id="g1_2_6"><stop offset="0" stop-color="#00d3ff"/><stop offset="0.04" stop-color="#00cbff"/><stop offset="0.1" stop-color="#00c1ff"/><stop offset="0.2" stop-color="#00b1ff"/><stop offset="0.35" stop-color="#009eff"/><stop offset="0.5" stop-color="#0091ff"/><stop offset="0.65" stop-color="#009aff"/><stop offset="0.8" stop-color="#00a7ff"/><stop offset="0.9" stop-color="#00b2ff"/><stop offset="0.96" stop-color="#00b9ff"/><stop offset="1" stop-color="#00beff"/></linearGradient><linearGradient id="g1_2_7"><stop offset="0" stop-color="#00c5ff"/><stop offset="0.04" stop-color="#00bfff"/><stop offset="0.1" stop-color="#00b7ff"/><stop offset="0.2" stop-color="#00aaff"/><stop offset="0.35" stop-color="#009aff"/><stop offset="0.5" stop-color="#0090ff"/><stop offset="0.65" stop-color="#0098ff"/><stop offset="0.8" stop-color="#00a6ff"/><stop offset="0.9" stop-color="#00b1ff"/><stop offset="0.96" stop-color="#00b8ff"/><stop offset="1" stop-color="#00beff"/></linearGradient><linearGradient id="g1_2_8"><stop offset="0" stop-color="#00beff"/><stop offset="0.04" stop-color="#00b8ff"/><stop offset="0.1" stop-color="#00b1ff"/><stop offset="0.2" stop-color="#00a6ff"/><stop offset="0.35" stop-color="#0097ff"/><stop offset="0.5" stop-color="#008fff"/><stop offset="0.65" stop-color="#0097ff"/><stop offset="0.8" stop-color="#00a6ff"/><stop offset="0.9" stop-color="#00b1ff"/><stop offset="0.96" stop-color="#00b8ff"/><stop offset="1" stop-color="#00beff"/></linearGradient><linearGradient id="g1_1_0"><stop offset="0" stop-color="#00e7ff"/><stop offset="0.04" stop-color="#00e4ff"/><stop offset="0.1" stop-color="#00dfff"/><stop offset="0.2" stop-color="#00d9ff"/><stop offset="0.35" stop-color="#00d0ff"/><stop offset="0.5" stop-color="#00cbff"/><stop offset="0.65" stop-color="#00c6ff"/><stop offset="0.8" stop-color="#00beff"/><stop offset="0.9" stop-color="#00b7ff"/><stop offset="0.96" stop-color="#00b3ff"/><stop offset="1" stop-color="#00b0ff"/></linearGradient><linearGradient id="g1_1_1"><stop offset="0" stop-color="#00deff"/><stop offset="0.04" stop-color="#00daff"/><stop offset="0.1" stop-color="#00d5ff"/><stop offset="0.2" stop-color="#00cdff"/><stop offset="0.35" stop-color="#00c2ff"/><stop offset="0.5" stop-color="#00bcff"/><stop offset="0.65" stop-color="#00b9ff"/><stop offset="0.8" stop-color="#00b5ff"/><stop offset="0.9" stop-color="#00b1ff"/><stop offset="0.96" stop-color="#00afff"/><stop offset="1" stop-color="#00adff"/></linearGradient><linearGradient id="g1_1_2"><stop offset="0" stop-color="#00d3ff"/><stop offset="0.04" stop-color="#00ceff"/><stop offset="0.1" stop-color="#00c7ff"/><stop offset="0.2" stop-color="#00bdff"/><stop offset="0.35" stop-color="#00b1ff"/><stop offset="0.5" stop-color="#00a9ff"/><stop offset="0.65" stop-color="#00a9ff"/><stop offset="0.8" stop-color="#00aaff"/><stop offset="0.96" stop-color="#00aaff"/><stop offset="1" stop-color="#00abff"/></linearGradient><linearGradient id="g1_1_3"><stop offset="0" stop-color="#00c5ff"/><stop offset="0.04" stop-color="#00bfff"/><stop offset="0.1" stop-color="#00b7ff"/><stop offset="0.2" stop-color="#00aaff"/><stop offset="0.35" stop-color="#009bff"/><stop offset="0.5" stop-color="#0091ff"/><stop offset="0.65" stop-color="#0095ff"/><stop offset="0.8" stop-color="#009cff"/><stop offset="0.9" stop-color="#00a1ff"/><stop offset="0.96" stop-color="#00a5ff"/><stop offset="1" stop-color="#00a7ff"/></linearGradient><linearGradient id="g1_1_4"><stop offset="0" stop-color="#00b6ff"/><stop offset="0.04" stop-color="#00afff"/><stop offset="0.1" stop-color="#00a5ff"/><stop offset="0.2" stop-color="#0096ff"/><stop offset="0.35" stop-color="#0083ff"/><stop offset="0.5" stop-color="#0078ff"/><stop offset="0.65" stop-color="#0080ff"/><stop offset="0.8" stop-color="#008dff"/><stop offset="0.9" stop-color="#0098ff"/><stop offset="0.96" stop-color="#009fff"/><stop offset="1" stop-color="#00a3ff"/></linearGradient><linearGradient id="g1_1_5"><stop offset="0" stop-color="#00adff"/><stop offset="0.04" stop-color="#00a6ff"/><stop offset="0.1" stop-color="#009cff"/><stop offset="0.2" stop-color="#008dff"/><stop offset="0.35" stop-color="#007aff"/><stop offset="0.5" stop-color="#006fff"/><stop offset="0.65" stop-color="#0078ff"/><stop offset="0.8" stop-color="#0087ff"/><stop offset="0.9" stop-color="#0094ff"/><stop offset="0.96" stop-color="#009cff"/><stop offset="1" stop-color="#00a2ff"/></linearGradient><linearGradient id="g1_1_6"><stop offset="0" stop-color="#00a2ff"/><stop offset="0.04" stop-color="#009dff"/><stop offset="0.1" stop-color="#0095ff"/><stop offset="0.2" stop-color="#0089ff"/><stop offset="0.35" stop-color="#007aff"/><stop offset="0.5" stop-color="#0071ff"/><stop offset="0.65" stop-color="#0079ff"/><stop offset="0.8" stop-color="#0089ff"/><stop offset="0.9" stop-color="#0095ff"/><stop offset="0.96" stop-color="#009cff"/><stop offset="1" stop-color="#00a2ff"/></linearGradient><linearGradient id="g1_1_7"><stop offset="0" stop-color="#0099ff"/><stop offset="0.04" stop-color="#0095ff"/><stop offset="0.1" stop-color="#008fff"/><stop offset="0.2" stop-color="#0085ff"/><stop offset="0.35" stop-color="#0079ff"/><stop offset="0.5" stop-color="#0072ff"/><stop offset="0.65" stop-color="#007bff"/><stop offset="0.8" stop-color="#0089ff"/><stop offset="0.9" stop-color="#0095ff"/><stop offset="0.96" stop-color="#009dff"/><stop offset="1" stop-color="#00a2ff"/></linearGradient><linearGradient id="g1_1_8"><stop offset="0" stop-color="#0094ff"/><stop offset="0.04" stop-color="#0091ff"/><stop offset="0.1" stop-color="#008bff"/><stop offset="0.2" stop-color="#0083ff"/><stop offset="0.35" stop-color="#0079ff"/><stop offset="0.5" stop-color="#0073ff"/><stop offset="0.65" stop-color="#007cff"/><stop offset="0.8" stop-color="#008aff"/><stop offset="0.9" stop-color="#0095ff"/><stop offset="0.96" stop-color="#009dff"/><stop offset="1" stop-color="#00a2ff"/></linearGradient><linearGradient id="g1_0_0"><stop offset="0" stop-color="#0000f7"/><stop offset="0.04" stop-color="#0000f8"/><stop offset="0.1" stop-color="#0000fa"/><stop offset="0.2" stop-color="#0000fc"/><stop offset="0.35" stop-color="#0000ff"/><stop offset="0.5" stop-color="#0002ff"/><stop offset="0.65" stop-color="#0004ff"/><stop offset="0.8" stop-color="#0007ff"/><stop offset="0.9" stop-color="#000aff"/><stop offset="0.96" stop-color="#000bff"/><stop offset="1" stop-color="#000dff"/></linearGradient><linearGradient id="g1_0_1"><stop offset="0" stop-color="#0000f6"/><stop offset="0.04" stop-color="#0000f7"/><stop offset="0.1" stop-color="#0000f8"/><stop offset="0.2" stop-color="#0000fb"/><stop offset="0.35" stop-color="#0000fd"/><stop offset="0.5" stop-color="#0000ff"/><stop offset="0.65" stop-color="#0002ff"/><stop offset="0.8" stop-color="#0007ff"/><stop offset="0.9" stop-color="#000aff"/><stop offset="0.96" stop-color="#000dff"/><stop offset="1" stop-color="#000eff"/></linearGradient><linearGradient id="g1_0_2"><stop offset="0" stop-color="#0000f5"/><stop offset="0.04" stop-color="#0000f6"/><stop offset="0.1" stop-color="#0000f7"/><stop offset="0.2" stop-color="#0000f8"/><stop offset="0.35" stop-color="#0000fa"/><stop offset="0.5" stop-color="#0000fc"/><stop offset="0.65" stop-color="#0000ff"/><stop offset="0.8" stop-color="#0006ff"/><stop offset="0.9" stop-color="#000bff"/><stop offset="0.96" stop-color="#000eff"/><stop offset="1" stop-color="#0010ff"/></linearGradient><linearGradient id="g1_0_3"><stop offset="0" stop-color="#0000f4"/><stop offset="0.04" stop-color="#0000f4"/><stop offset="0.1" stop-color="#0000f5"/><stop offset="0.2" stop-color="#0000f6"/><stop offset="0.35" stop-color="#0000f7"/><stop offset="0.5" stop-color="#0000f8"/><stop offset="0.65" stop-color="#0000fd"/><stop offset="0.8" stop-color="#0006ff"/><stop offset="0.9" stop-color="#000cff"/><stop offset="0.96" stop-color="#0010ff"/><stop offset="1" stop-color="#0013ff"/></linearGradient><linearGradient id="g1_0_4"><stop offset="0" stop-color="#0000f2"/><stop offset="0.04" stop-color="#0000f2"/><stop offset="0.1" stop-color="#0000f3"/><stop offset="0.5" stop-color="#0000f3"/><stop offset="0.65" stop-color="#0000fa"/><stop offset="0.8" stop-color="#0005ff"/><stop offset="0.9" stop-color="#000dff"/><stop offset="0.96" stop-color="#0012ff"/><stop offset="1" stop-color="#0016ff"/></linearGradient><linearGradient id="g1_0_5"><stop offset="0" stop-color="#0000f1"/><stop offset="0.5" stop-color="#0000f1"/><stop offset="0.65" stop-color="#0000f8"/><stop offset="0.8" stop-color="#0004ff"/><stop offset="0.9" stop-color="#000cff"/><stop offset="0.96" stop-color="#0012ff"/><stop offset="1" stop-color="#0016ff"/></linearGradient><linearGradient id="g1_0_6"><stop offset="0" stop-color="#0000ef"/><stop offset="0.1" stop-color="#0000ef"/><stop offset="0.2" stop-color="#0000ee"/><stop offset="0.35" stop-color="#0000ed"/><stop offset="0.5" stop-color="#0000ed"/><stop offset="0.65" stop-color="#0000f4"/><stop offset="0.8" stop-color="#0001ff"/><stop offset="0.9" stop-color="#000aff"/><stop offset="0.96" stop-color="#0010ff"/><stop offset="1" stop-color="#0014ff"/></linearGradient><linearGradient id="g1_0_7"><stop offset="0" stop-color="#0000ee"/><stop offset="0.04" stop-color="#0000ed"/><stop offset="0.1" stop-color="#0000ed"/><stop offset="0.2" stop-color="#0000ec"/><stop offset="0.35" stop-color="#0000ea"/><stop offset="0.5" stop-color="#0000e9"/><stop offset="0.65" stop-color="#0000f1"/><stop offset="0.8" stop-color="#0000fd"/><stop offset="0.9" stop-color="#0008ff"/><stop offset="0.96" stop-color="#000eff"/><stop offset="1" stop-color="#0013ff"/></linearGradient><linearGradient id="g1_0_8"><stop offset="0" stop-color="#0000ed"/><stop offset="0.04" stop-color="#0000ec"/><stop offset="0.1" stop-color="#0000eb"/><stop offset="0.2" stop-color="#0000ea"/><stop offset="0.35" stop-color="#0000e8"/><stop offset="0.5" stop-color="#0000e8"/><stop offset="0.65" stop-color="#0000ef"/><stop offset="0.8" stop-color="#0000fc"/><stop offset="0.9" stop-color="#0007ff"/><stop offset="0.96" stop-color="#000dff"/><stop offset="1" stop-color="#0012ff"/></linearGradient><linearGradient id="g2_6_0"><stop offset="0" stop-color="#0000ed"/><stop offset="0.04" stop-color="#0000ed"/><stop offset="0.1" stop-color="#0000ee"/><stop offset="0.2" stop-color="#0000ef"/><stop offset="0.35" stop-color="#0000f1"/><stop offset="0.5" stop-color="#0000f2"/><stop offset="0.65" stop-color="#0000f0"/><stop offset="0.8" stop-color="#0000ed"/><stop offset="0.9" stop-color="#0000ea"/><stop offset="0.96" stop-color="#0000e9"/><stop offset="1" stop-color="#0000e8"/></linearGradient><linearGradient id="g2_6_1"><stop offset="0" stop-color="#0000eb"/><stop offset="0.2" stop-color="#0000eb"/><stop offset="0.35" stop-color="#0000ec"/><stop offset="0.5" stop-color="#0000ec"/><stop offset="0.65" stop-color="#0000eb"/><stop offset="0.8" stop-color="#0000e9"/><stop offset="0.9" stop-color="#0000e7"/><stop offset="0.96" stop-color="#0000e7"/><stop offset="1" stop-color="#0000e6"/></linearGradient><linearGradient id="g2_6_2"><stop offset="0" stop-color="#0000e8"/><stop offset="0.04" stop-color="#0000e8"/><stop offset="0.1" stop-color="#0000e7"/><stop offset="0.2" stop-color="#0000e6"/><stop offset="0.35" stop-color="#0000e5"/><stop offset="0.5" stop-color="#0000e5"/><stop offset="0.65" stop-color="#0000e4"/><stop offset="1" stop-color="#0000e4"/></linearGradient><linearGradient id="g2_6_3"><stop offset="0" stop-color="#0000e5"/><stop offset="0.04" stop-color="#0000e4"/><stop offset="0.1" stop-color="#0000e2"/><stop offset="0.2" stop-color="#0000e0"/><stop offset="0.35" stop-color="#0000dd"/><stop offset="0.5" stop-color="#0000db"/><stop offset="0.65" stop-color="#0000dc"/><stop offset="0.8" stop-color="#0000de"/><stop offset="0.9" stop-color="#0000e0"/><stop offset="0.96" stop-color="#0000e1"/><stop offset="1" stop-color="#0000e1"/></linearGradient><linearGradient id="g2_6_4"><stop offset="0" stop-color="#0000e1"/><stop offset="0.04" stop-color="#0000df"/><stop offset="0.1" stop-color="#0000dd"/><stop offset="0.2" stop-color="#0000d9"/><stop offset="0.35" stop-color="#0000d4"/><stop offset="0.5" stop-color="#0000d2"/><stop offset="0.65" stop-color="#0000d4"/><stop offset="0.8" stop-color="#0000d8"/><stop offset="0.9" stop-color="#0000db"/><stop offset="0.96" stop-color="#0000dd"/><stop offset="1" stop-color="#0000de"/></linearGradient><linearGradient id="g2_6_5"><stop offset="0" stop-color="#0000de"/><stop offset="0.04" stop-color="#0000dd"/><stop offset="0.1" stop-color="#0000da"/><stop offset="0.2" stop-color="#0000d6"/><stop offset="0.35" stop-color="#0000d1"/><stop offset="0.5" stop-color="#0000ce"/><stop offset="0.65" stop-color="#0000d1"/><stop offset="0.8" stop-color="#0000d5"/><stop offset="0.9" stop-color="#0000d8"/><stop offset="0.96" stop-color="#0000db"/><stop offset="1" stop-color="#0000dc"/></linearGradient><linearGradient id="g2_6_6"><stop offset="0" stop-color="#0000da"/><stop offset="0.04" stop-color="#0000d8"/><stop offset="0.1" stop-color="#0000d7"/><stop offset="0.2" stop-color="#0000d5"/><stop offset="0.35" stop-color="#0000d2"/><stop offset="0.5" stop-color="#0000d0"/><stop offset="0.65" stop-color="#0000d2"/><stop offset="0.8" stop-color="#0000d4"/><stop offset="0.9" stop-color="#0000d6"/><stop offset="0.96" stop-color="#0000d7"/><stop offset="1" stop-color="#0000d8"/></linearGradient><linearGradient id="g2_6_7"><stop offset="0" stop-color="#0000d5"/><stop offset="0.04" stop-color="#0000d5"/><stop offset="0.1" stop-color="#0000d4"/><stop offset="0.2" stop-color="#0000d4"/><stop offset="0.35" stop-color="#0000d3"/><stop offset="0.5" stop-color="#0000d2"/><stop offset="0.65" stop-color="#0000d3"/><stop offset="0.8" stop-color="#0000d3"/><stop offset="0.9" stop-color="#0000d4"/><stop offset="0.96" stop-color="#0000d5"/><stop offset="1" stop-color="#0000d5"/></linearGradient><linearGradient id="g2_6_8"><stop offset="0" stop-color="#0000d3"/><stop offset="1" stop-color="#0000d3"/></linearGradient><linearGradient id="g2_5_0"><stop offset="0" stop-color="#00d9ff"/><stop offset="0.04" stop-color="#00d5ff"/><stop offset="0.1" stop-color="#00ceff"/><stop offset="0.2" stop-color="#00c3ff"/><stop offset="0.35" stop-color="#00b2ff"/><stop offset="0.5" stop-color="#00a2ff"/><stop offset="0.65" stop-color="#009aff"/><stop offset="0.8" stop-color="#008fff"/><stop offset="0.9" stop-color="#0084ff"/><stop offset="0.96" stop-color="#007dff"/><stop offset="1" stop-color="#0079ff"/></linearGradient><linearGradient id="g2_5_1"><stop offset="0" stop-color="#00d4ff"/><stop offset="0.04" stop-color="#00d0ff"/><stop offset="0.1" stop-color="#00caff"/><stop offset="0.2" stop-color="#00bfff"/><stop offset="0.35" stop-color="#00afff"/><stop offset="0.5" stop-color="#009fff"/><stop offset="0.65" stop-color="#0098ff"/><stop offset="0.8" stop-color="#008eff"/><stop offset="0.9" stop-color="#0081ff"/><stop offset="0.96" stop-color="#0079ff"/><stop offset="1" stop-color="#0074ff"/></linearGradient><linearGradient id="g2_5_2"><stop offset="0" stop-color="#00ceff"/><stop offset="0.04" stop-color="#00caff"/><stop offset="0.1" stop-color="#00c4ff"/><stop offset="0.2" stop-color="#00bbff"/><stop offset="0.35" stop-color="#00abff"/><stop offset="0.5" stop-color="#009aff"/><stop offset="0.65" stop-color="#0097ff"/><stop offset="0.8" stop-color="#008cff"/><stop offset="0.9" stop-color="#007dff"/><stop offset="0.96" stop-color="#0074ff"/><stop offset="1" stop-color="#006eff"/></linearGradient><linearGradient id="g2_5_3"><stop offset="0" stop-color="#00c4ff"/><stop offset="0.04" stop-color="#00c1ff"/><stop offset="0.1" stop-color="#00bcff"/><stop offset="0.2" stop-color="#00b4ff"/><stop offset="0.35" stop-color="#00a5ff"/><stop offset="0.5" stop-color="#0094ff"/><stop offset="0.65" stop-color="#0094ff"/><stop offset="0.8" stop-color="#008bff"/><stop offset="0.9" stop-color="#0077ff"/><stop offset="0.96" stop-color="#006dff"/><stop offset="1" stop-color="#0065ff"/></linearGradient><linearGradient id="g2_5_4"><stop offset="0" stop-color="#00b8ff"/><stop offset="0.04" stop-color="#00b5ff"/><stop offset="0.1" stop-color="#00b1ff"/><stop offset="0.2" stop-color="#00abff"/><stop offset="0.35" stop-color="#009cff"/><stop offset="0.5" stop-color="#008cff"/><stop offset="0.65" stop-color="#0091ff"/><stop offset="0.8" stop-color="#0088ff"/><stop offset="0.9" stop-color="#0070ff"/><stop offset="0.96" stop-color="#0063ff"/><stop offset="1" stop-color="#005aff"/></linearGradient><linearGradient id="g2_5_5"><stop offset="0" stop-color="#00adff"/><stop offset="0.04" stop-color="#00abff"/><stop offset="0.1" stop-color="#00a7ff"/><stop offset="0.2" stop-color="#00a2ff"/><stop offset="0.35" stop-color="#0096ff"/><stop offset="0.5" stop-color="#0089ff"/><stop offset="0.65" stop-color="#0089ff"/><stop offset="0.8" stop-color="#007cff"/><stop offset="0.9" stop-color="#0063ff"/><stop offset="0.96" stop-color="#0054ff"/><stop offset="1" stop-color="#004aff"/></linearGradient><linearGradient id="g2_5_6"><stop offset="0" stop-color="#00a7ff"/><stop offset="0.04" stop-color="#00a5ff"/><stop offset="0.1" stop-color="#00a2ff"/><stop offset="0.2" stop-color="#009cff"/><stop offset="0.35" stop-color="#0095ff"/><stop offset="0.5" stop-color="#008fff"/><stop offset="0.65" stop-color="#007eff"/><stop offset="0.8" stop-color="#0068ff"/><stop offset="0.9" stop-color="#0051ff"/><stop offset="0.96" stop-color="#0044ff"/><stop offset="1" stop-color="#003bff"/></linearGradient><linearGradient id="g2_5_7"><stop offset="0" stop-color="#00a4ff"/><stop offset="0.04" stop-color="#00a2ff"/><stop offset="0.1" stop-color="#009eff"/><stop offset="0.2" stop-color="#0099ff"/><stop offset="0.35" stop-color="#0095ff"/><stop offset="0.5" stop-color="#0092ff"/><stop offset="0.65" stop-color="#0077ff"/><stop offset="0.8" stop-color="#005bff"/><stop offset="0.9" stop-color="#0046ff"/><stop offset="0.96" stop-color="#0039ff"/><stop offset="1" stop-color="#0031ff"/></linearGradient><linearGradient id="g2_5_8"><stop offset="0" stop-color="#00a2ff"/><stop offset="0.04" stop-color="#00a0ff"/><stop offset="0.1" stop-color="#009cff"/><stop offset="0.2" stop-color="#0097ff"/><stop offset="0.35" stop-color="#0094ff"/><stop offset="0.5" stop-color="#0094ff"/><stop offset="0.65" stop-color="#0073ff"/><stop offset="0.8" stop-color="#0055ff"/><stop offset="0.9" stop-color="#0040ff"/><stop offset="0.96" stop-color="#0034ff"/><stop offset="1" stop-color="#002bff"/></linearGradient><linearGradient id="g2_4_0"><stop offset="0" stop-color="#fcff03"/><stop offset="0.04" stop-color="#f5ff0a"/><stop offset="0.1" stop-color="#ebff14"/><stop offset="0.2" stop-color="#daff25"/><stop offset="0.35" stop-color="#d8ff27"/><stop offset="0.5" stop-color="#e0ff1f"/><stop offset="0.65" stop-color="#f9ff06"/><stop offset="0.8" stop-color="#f9ff06"/><stop offset="0.9" stop-color="#d8ff27"/><stop offset="0.96" stop-color="#c4ff3b"/><stop offset="1" stop-color="#b7ff48"/></linearGradient><linearGradient id="g2_4_1"><stop offset="0" stop-color="#d2ff2d"/><stop offset="0.04" stop-color="#ceff31"/><stop offset="0.1" stop-color="#c7ff38"/><stop offset="0.2" stop-color="#bcff43"/><stop offset="0.35" stop-color="#bcff43"/><stop offset="0.5" stop-color="#c4ff3b"/><stop offset="0.65" stop-color="#d5ff2a"/><stop offset="0.8" stop-color="#cfff30"/><stop offset="0.9" stop-color="#aeff51"/><stop offset="0.96" stop-color="#9bff64"/><stop offset="1" stop-color="#8dff72"/></linearGradient><linearGradient id="g2_4_2"><stop offset="0" stop-color="#9bff64"/><stop offset="0.04" stop-color="#98ff67"/><stop offset="0.1" stop-color="#94ff6b"/><stop offset="0.2" stop-color="#8eff71"/><stop offset="0.35" stop-color="#8cff73"/><stop offset="0.5" stop-color="#8dff72"/><stop offset="0.65" stop-color="#91ff6e"/><stop offset="0.8" stop-color="#84ff7b"/><stop offset="0.9" stop-color="#68ff97"/><stop offset="0.96" stop-color="#57ffa8"/><stop offset="1" stop-color="#4bffb4"/></linearGradient><linearGradient id="g2_4_3"><stop offset="0" stop-color="#67ff98"/><stop offset="0.04" stop-color="#64ff9b"/><stop offset="0.1" stop-color="#61ff9e"/><stop offset="0.2" stop-color="#5bffa4"/><stop offset="0.35" stop-color="#53ffac"/><stop offset="0.5" stop-color="#49ffb6"/><stop offset="0.65" stop-color="#40ffbf"/><stop offset="0.8" stop-color="#2fffd0"/><stop offset="0.9" stop-color="#1affe5"/><stop offset="0.96" stop-color="#0dfff2"/><stop offset="1" stop-color="#04fffb"/></linearGradient><linearGradient id="g2_4_4"><stop offset="0" stop-color="#35ffca"/><stop offset="0.04" stop-color="#32ffcd"/><stop offset="0.1" stop-color="#2fffd0"/><stop offset="0.2" stop-color="#2affd5"/><stop offset="0.35" stop-color="#1cffe3"/><stop offset="0.5" stop-color="#0bfff4"/><stop offset="0.65" stop-color="#00f7ff"/><stop offset="0.8" stop-color="#00e2ff"/><stop offset="0.9" stop-color="#00d0ff"/><stop offset="0.96" stop-color="#00c5ff"/><stop offset="1" stop-color="#00beff"/></linearGradient><linearGradient id="g2_4_5"><stop offset="0" stop-color="#03fffc"/><stop offset="0.04" stop-color="#01fffe"/><stop offset="0.1" stop-color="#00fdff"/><stop offset="0.2" stop-color="#00f7ff"/><stop offset="0.35" stop-color="#00eaff"/><stop offset="0.5" stop-color="#00d9ff"/><stop offset="0.65" stop-color="#00c0ff"/><stop offset="0.8" stop-color="#00a5ff"/><stop offset="0.9" stop-color="#008fff"/><stop offset="0.96" stop-color="#0081ff"/><stop offset="1" stop-color="#0079ff"/></linearGradient><linearGradient id="g2_4_6"><stop offset="0" stop-color="#00fcff"/><stop offset="0.04" stop-color="#00f8ff"/><stop offset="0.1" stop-color="#00f3ff"/><stop offset="0.2" stop-color="#00ebff"/><stop offset="0.35" stop-color="#00d9ff"/><stop offset="0.5" stop-color="#00c4ff"/><stop offset="0.65" stop-color="#00acff"/><stop offset="0.8" stop-color="#008fff"/><stop offset="0.9" stop-color="#0076ff"/><stop offset="0.96" stop-color="#0068ff"/><stop offset="1" stop-color="#005fff"/></linearGradient><linearGradient id="g2_4_7"><stop offset="0" stop-color="#00f7ff"/><stop offset="0.04" stop-color="#00f3ff"/><stop offset="0.1" stop-color="#00edff"/><stop offset="0.2" stop-color="#00e3ff"/><stop offset="0.35" stop-color="#00ceff"/><stop offset="0.5" stop-color="#00b7ff"/><stop offset="0.65" stop-color="#009eff"/><stop offset="0.8" stop-color="#0080ff"/><stop offset="0.9" stop-color="#0067ff"/><stop offset="0.96" stop-color="#0058ff"/><stop offset="1" stop-color="#004eff"/></linearGradient><linearGradient id="g2_4_8"><stop offset="0" stop-color="#00f5ff"/><stop offset="0.04" stop-color="#00f0ff"/><stop offset="0.1" stop-color="#00eaff"/><stop offset="0.2" stop-color="#00dfff"/><stop offset="0.35" stop-color="#00c9ff"/><stop offset="0.5" stop-color="#00b0ff"/><stop offset="0.65" stop-color="#0097ff"/><stop offset="0.8" stop-color="#0079ff"/><stop offset="0.9" stop-color="#005fff"/><stop offset="0.96" stop-color="#004fff"/><stop offset="1" stop-color="#0045ff"/></linearGradient><linearGradient id="g2_3_0"><stop offset="0" stop-color="#ff6b00"/><stop offset="0.2" stop-color="#ff6b00"/><stop offset="0.35" stop-color="#ff6000"/><stop offset="0.5" stop-color="#ff4f00"/><stop offset="0.65" stop-color="#ff4700"/><stop offset="0.8" stop-color="#ff5a00"/><stop offset="0.9" stop-color="#ff8c00"/><stop offset="0.96" stop-color="#ffaa00"/><stop offset="1" stop-color="#ffbe00"/></linearGradient><linearGradient id="g2_3_1"><stop offset="0" stop-color="#ff9200"/><stop offset="0.2" stop-color="#ff9200"/><stop offset="0.35" stop-color="#ff8800"/><stop offset="0.5" stop-color="#ff7900"/><stop offset="0.65" stop-color="#ff7a00"/><stop offset="0.8" stop-color="#ff8f00"/><stop offset="0.9" stop-color="#ffb900"/><stop offset="0.96" stop-color="#ffd200"/><stop offset="1" stop-color="#ffe300"/></linearGradient><linearGradient id="g2_3_2"><stop offset="0" stop-color="#ffec00"/><stop offset="0.2" stop-color="#ffec00"/><stop offset="0.35" stop-color="#ffe800"/><stop offset="0.5" stop-color="#ffe100"/><stop offset="0.65" stop-color="#ffed00"/><stop offset="0.8" stop-color="#fcff03"/><stop offset="0.9" stop-color="#e0ff1f"/><stop offset="0.96" stop-color="#cfff30"/><stop offset="1" stop-color="#c4ff3b"/></linearGradient><linearGradient id="g2_3_3"><stop offset="0" stop-color="#b4ff4b"/><stop offset="0.04" stop-color="#b4ff4b"/><stop offset="0.1" stop-color="#b3ff4c"/><stop offset="0.2" stop-color="#b1ff4e"/><stop offset="0.35" stop-color="#adff52"/><stop offset="0.5" stop-color="#a9ff56"/><stop offset="0.65" stop-color="#8fff70"/><stop offset="0.8" stop-color="#70ff8f"/><stop offset="0.9" stop-color="#57ffa8"/><stop offset="0.96" stop-color="#47ffb8"/><stop offset="1" stop-color="#3dffc2"/></linearGradient><linearGradient id="g2_3_4"><stop offset="0" stop-color="#64ff9b"/><stop offset="0.04" stop-color="#60ff9f"/><stop offset="0.1" stop-color="#59ffa6"/><stop offset="0.2" stop-color="#4effb1"/><stop offset="0.35" stop-color="#38ffc7"/><stop offset="0.5" stop-color="#1fffe0"/><stop offset="0.65" stop-color="#00fdff"/><stop offset="0.8" stop-color="#00dfff"/><stop offset="0.9" stop-color="#00ceff"/><stop offset="0.96" stop-color="#00c4ff"/><stop offset="1" stop-color="#00beff"/></linearGradient><linearGradient id="g2_3_5"><stop offset="0" stop-color="#59ffa6"/><stop offset="0.04" stop-color="#51ffae"/><stop offset="0.1" stop-color="#45ffba"/><stop offset="0.2" stop-color="#31ffce"/><stop offset="0.35" stop-color="#12ffed"/><stop offset="0.5" stop-color="#00f2ff"/><stop offset="0.65" stop-color="#00caff"/><stop offset="0.8" stop-color="#00a7ff"/><stop offset="0.9" stop-color="#0097ff"/><stop offset="0.96" stop-color="#008dff"/><stop offset="1" stop-color="#0086ff"/></linearGradient><linearGradient id="g2_3_6"><stop offset="0" stop-color="#5cffa3"/><stop offset="0.04" stop-color="#52ffad"/><stop offset="0.1" stop-color="#44ffbb"/><stop offset="0.2" stop-color="#2bffd4"/><stop offset="0.35" stop-color="#07fff8"/><stop offset="0.5" stop-color="#00e1ff"/><stop offset="0.65" stop-color="#00b4ff"/><stop offset="0.8" stop-color="#008cff"/><stop offset="0.9" stop-color="#0076ff"/><stop offset="0.96" stop-color="#006aff"/><stop offset="1" stop-color="#0063ff"/></linearGradient><linearGradient id="g2_3_7"><stop offset="0" stop-color="#61ff9e"/><stop offset="0.04" stop-color="#57ffa8"/><stop offset="0.1" stop-color="#47ffb8"/><stop offset="0.2" stop-color="#2cffd3"/><stop offset="0.35" stop-color="#05fffa"/><stop offset="0.5" stop-color="#00dcff"/><stop offset="0.65" stop-color="#00acff"/><stop offset="0.8" stop-color="#007fff"/><stop offset="0.9" stop-color="#0067ff"/><stop offset="0.96" stop-color="#0059ff"/><stop offset="1" stop-color="#004fff"/></linearGradient><linearGradient id="g2_3_8"><stop offset="0" stop-color="#64ff9b"/><stop offset="0.04" stop-color="#59ffa6"/><stop offset="0.1" stop-color="#48ffb7"/><stop offset="0.2" stop-color="#2dffd2"/><stop offset="0.35" stop-color="#03fffc"/><stop offset="0.5" stop-color="#00d9ff"/><stop offset="0.65" stop-color="#00a7ff"/><stop offset="0.8" stop-color="#0079ff"/><stop offset="0.9" stop-color="#005fff"/><stop offset="0.96" stop-color="#004fff"/><stop offset="1" stop-color="#0045ff"/></linearGradient><linearGradient id="g2_2_0"><stop offset="0" stop-color="#00a2ff"/><stop offset="0.04" stop-color="#00a6ff"/><stop offset="0.1" stop-color="#00adff"/><stop offset="0.2" stop-color="#00b8ff"/><stop offset="0.35" stop-color="#00c9ff"/><stop offset="0.5" stop-color="#00d9ff"/><stop offset="0.65" stop-color="#00d1ff"/><stop offset="0.8" stop-color="#00c0ff"/><stop offset="0.9" stop-color="#00aaff"/><stop offset="0.96" stop-color="#009dff"/><stop offset="1" stop-color="#0094ff"/></linearGradient><linearGradient id="g2_2_1"><stop offset="0" stop-color="#00a5ff"/><stop offset="0.04" stop-color="#00aaff"/><stop offset="0.1" stop-color="#00b0ff"/><stop offset="0.2" stop-color="#00bbff"/><stop offset="0.35" stop-color="#00ccff"/><stop offset="0.5" stop-color="#00dcff"/><stop offset="0.65" stop-color="#00d0ff"/><stop offset="0.8" stop-color="#00bcff"/><stop offset="0.9" stop-color="#00a4ff"/><stop offset="0.96" stop-color="#0096ff"/><stop offset="1" stop-color="#008cff"/></linearGradient><linearGradient id="g2_2_2"><stop offset="0" stop-color="#00aaff"/><stop offset="0.04" stop-color="#00aeff"/><stop offset="0.1" stop-color="#00b5ff"/><stop offset="0.2" stop-color="#00c0ff"/><stop offset="0.35" stop-color="#00d0ff"/><stop offset="0.5" stop-color="#00e1ff"/><stop offset="0.65" stop-color="#00cfff"/><stop offset="0.8" stop-color="#00b6ff"/><stop offset="0.9" stop-color="#009cff"/><stop offset="0.96" stop-color="#008cff"/><stop offset="1" stop-color="#0081ff"/></linearGradient><linearGradient id="g2_2_3"><stop offset="0" stop-color="#00b0ff"/><stop offset="0.04" stop-color="#00b4ff"/><stop offset="0.1" stop-color="#00bbff"/><stop offset="0.2" stop-color="#00c6ff"/><stop offset="0.35" stop-color="#00d6ff"/><stop offset="0.5" stop-color="#00e7ff"/><stop offset="0.65" stop-color="#00ceff"/><stop offset="0.8" stop-color="#00aeff"/><stop offset="0.9" stop-color="#0090ff"/><stop offset="0.96" stop-color="#007eff"/><stop offset="1" stop-color="#0072ff"/></linearGradient><linearGradient id="g2_2_4"><stop offset="0" stop-color="#00b8ff"/><stop offset="0.04" stop-color="#00bcff"/><stop offset="0.1" stop-color="#00c3ff"/><stop offset="0.2" stop-color="#00ceff"/><stop offset="0.35" stop-color="#00dfff"/><stop offset="0.5" stop-color="#00efff"/><stop offset="0.65" stop-color="#00ccff"/><stop offset="0.8" stop-color="#00a4ff"/><stop offset="0.9" stop-color="#0080ff"/><stop offset="0.96" stop-color="#006cff"/><stop offset="1" stop-color="#005fff"/></linearGradient><linearGradient id="g2_2_5"><stop offset="0" stop-color="#00c0ff"/><stop offset="0.04" stop-color="#00c5ff"/><stop offset="0.1" stop-color="#00ccff"/><stop offset="0.2" stop-color="#00d9ff"/><stop offset="0.35" stop-color="#00e4ff"/><stop offset="0.5" stop-color="#00ecff"/><stop offset="0.65" stop-color="#00bcff"/><stop offset="0.8" stop-color="#008aff"/><stop offset="0.9" stop-color="#0067ff"/><stop offset="0.96" stop-color="#0053ff"/><stop offset="1" stop-color="#0045ff"/></linearGradient><linearGradient id="g2_2_6"><stop offset="0" stop-color="#00c6ff"/><stop offset="0.04" stop-color="#00ccff"/><stop offset="0.1" stop-color="#00d4ff"/><stop offset="0.2" stop-color="#00e2ff"/><stop offset="0.35" stop-color="#00e4ff"/><stop offset="0.5" stop-color="#00dcff"/><stop offset="0.65" stop-color="#009fff"/><stop offset="0.8" stop-color="#0067ff"/><stop offset="0.9" stop-color="#0049ff"/><stop offset="0.96" stop-color="#0037ff"/><stop offset="1" stop-color="#002bff"/></linearGradient><linearGradient id="g2_2_7"><stop offset="0" stop-color="#00c9ff"/><stop offset="0.04" stop-color="#00d0ff"/><stop offset="0.1" stop-color="#00d9ff"/><stop offset="0.2" stop-color="#00e9ff"/><stop offset="0.35" stop-color="#00e4ff"/><stop offset="0.5" stop-color="#00d1ff"/><stop offset="0.65" stop-color="#008bff"/><stop offset="0.8" stop-color="#0051ff"/><stop offset="0.9" stop-color="#0036ff"/><stop offset="0.96" stop-color="#0026ff"/><stop offset="1" stop-color="#001bff"/></linearGradient><linearGradient id="g2_2_8"><stop offset="0" stop-color="#00cbff"/><stop offset="0.04" stop-color="#00d2ff"/><stop offset="0.1" stop-color="#00dcff"/><stop offset="0.2" stop-color="#00ecff"/><stop offset="0.35" stop-color="#00e4ff"/><stop offset="0.5" stop-color="#00cbff"/><stop offset="0.65" stop-color="#0081ff"/><stop offset="0.8" stop-color="#0045ff"/><stop offset="0.9" stop-color="#002bff"/><stop offset="0.96" stop-color="#001cff"/><stop offset="1" stop-color="#0012ff"/></linearGradient><linearGradient id="g2_1_0"><stop offset="0" stop-color="#0021ff"/><stop offset="0.04" stop-color="#0025ff"/><stop offset="0.1" stop-color="#002bff"/><stop offset="0.2" stop-color="#0036ff"/><stop offset="0.35" stop-color="#004eff"/><stop offset="0.5" stop-color="#006cff"/><stop offset="0.65" stop-color="#0080ff"/><stop offset="0.8" stop-color="#008dff"/><stop offset="0.9" stop-color="#008aff"/><stop offset="0.96" stop-color="#0088ff"/><stop offset="1" stop-color="#0086ff"/></linearGradient><linearGradient id="g2_1_1"><stop offset="0" stop-color="#0022ff"/><stop offset="0.04" stop-color="#0027ff"/><stop offset="0.1" stop-color="#002dff"/><stop offset="0.2" stop-color="#0037ff"/><stop offset="0.35" stop-color="#0051ff"/><stop offset="0.5" stop-color="#006fff"/><stop offset="0.65" stop-color="#0082ff"/><stop offset="0.8" stop-color="#008dff"/><stop offset="0.9" stop-color="#0087ff"/><stop offset="0.96" stop-color="#0084ff"/><stop offset="1" stop-color="#0081ff"/></linearGradient><linearGradient id="g2_1_2"><stop offset="0" stop-color="#0024ff"/><stop offset="0.04" stop-color="#0028ff"/><stop offset="0.1" stop-color="#002fff"/><stop offset="0.2" stop-color="#003aff"/><stop offset="0.35" stop-color="#0054ff"/><stop offset="0.5" stop-color="#0073ff"/><stop offset="0.65" stop-color="#0084ff"/><stop offset="0.8" stop-color="#008cff"/><stop offset="0.9" stop-color="#0083ff"/><stop offset="0.96" stop-color="#007eff"/><stop offset="1" stop-color="#007bff"/></linearGradient><linearGradient id="g2_1_3"><stop offset="0" stop-color="#0026ff"/><stop offset="0.04" stop-color="#002bff"/><stop offset="0.1" stop-color="#0032ff"/><stop offset="0.2" stop-color="#003dff"/><stop offset="0.35" stop-color="#0058ff"/><stop offset="0.5" stop-color="#0079ff"/><stop offset="0.65" stop-color="#0087ff"/><stop offset="0.8" stop-color="#008bff"/><stop offset="0.9" stop-color="#007eff"/><stop offset="0.96" stop-color="#0077ff"/><stop offset="1" stop-color="#0072ff"/></linearGradient><linearGradient id="g2_1_4"><stop offset="0" stop-color="#0029ff"/><stop offset="0.04" stop-color="#002eff"/><stop offset="0.1" stop-color="#0035ff"/><stop offset="0.2" stop-color="#0041ff"/><stop offset="0.35" stop-color="#005eff"/><stop offset="0.5" stop-color="#0081ff"/><stop offset="0.65" stop-color="#008cff"/><stop offset="0.8" stop-color="#008aff"/><stop offset="0.9" stop-color="#0078ff"/><stop offset="0.96" stop-color="#006dff"/><stop offset="1" stop-color="#0067ff"/></linearGradient><linearGradient id="g2_1_5"><stop offset="0" stop-color="#0032ff"/><stop offset="0.04" stop-color="#0037ff"/><stop offset="0.1" stop-color="#003fff"/><stop offset="0.2" stop-color="#004dff"/><stop offset="0.35" stop-color="#0069ff"/><stop offset="0.5" stop-color="#0089ff"/><stop offset="0.65" stop-color="#0089ff"/><stop offset="0.8" stop-color="#007eff"/><stop offset="0.9" stop-color="#0068ff"/><stop offset="0.96" stop-color="#005bff"/><stop offset="1" stop-color="#0052ff"/></linearGradient><linearGradient id="g2_1_6"><stop offset="0" stop-color="#003eff"/><stop offset="0.04" stop-color="#0044ff"/><stop offset="0.1" stop-color="#004eff"/><stop offset="0.2" stop-color="#005eff"/><stop offset="0.35" stop-color="#0076ff"/><stop offset="0.5" stop-color="#008fff"/><stop offset="0.65" stop-color="#007eff"/><stop offset="0.8" stop-color="#0068ff"/><stop offset="0.9" stop-color="#0050ff"/><stop offset="0.96" stop-color="#0042ff"/><stop offset="1" stop-color="#0038ff"/></linearGradient><linearGradient id="g2_1_7"><stop offset="0" stop-color="#0046ff"/><stop offset="0.04" stop-color="#004dff"/><stop offset="0.1" stop-color="#0058ff"/><stop offset="0.2" stop-color="#0069ff"/><stop offset="0.35" stop-color="#007fff"/><stop offset="0.5" stop-color="#0092ff"/><stop offset="0.65" stop-color="#0077ff"/><stop offset="0.8" stop-color="#005aff"/><stop offset="0.9" stop-color="#0041ff"/><stop offset="0.96" stop-color="#0032ff"/><stop offset="1" stop-color="#0028ff"/></linearGradient><linearGradient id="g2_1_8"><stop offset="0" stop-color="#004aff"/><stop offset="0.04" stop-color="#0052ff"/><stop offset="0.1" stop-color="#005dff"/><stop offset="0.2" stop-color="#006fff"/><stop offset="0.35" stop-color="#0084ff"/><stop offset="0.5" stop-color="#0094ff"/><stop offset="0.65" stop-color="#0073ff"/><stop offset="0.8" stop-color="#0052ff"/><stop offset="0.9" stop-color="#0038ff"/><stop offset="0.96" stop-color="#0029ff"/><stop offset="1" stop-color="#001fff"/></linearGradient><linearGradient id="g2_0_0"><stop offset="0" stop-color="#0000be"/><stop offset="0.04" stop-color="#0000c0"/><stop offset="0.1" stop-color="#0000c2"/><stop offset="0.2" stop-color="#0000c5"/><stop offset="0.35" stop-color="#0000c9"/><stop offset="0.5" stop-color="#0000cb"/><stop offset="0.65" stop-color="#0000ce"/><stop offset="0.8" stop-color="#0000d2"/><stop offset="0.9" stop-color="#0000d5"/><stop offset="0.96" stop-color="#0000d7"/><stop offset="1" stop-color="#0000d8"/></linearGradient><linearGradient id="g2_0_1"><stop offset="0" stop-color="#0000be"/><stop offset="0.04" stop-color="#0000c0"/><stop offset="0.1" stop-color="#0000c2"/><stop offset="0.2" stop-color="#0000c5"/><stop offset="0.35" stop-color="#0000c8"/><stop offset="0.5" stop-color="#0000cb"/><stop offset="0.65" stop-color="#0000cd"/><stop offset="0.8" stop-color="#0000d2"/><stop offset="0.9" stop-color="#0000d5"/><stop offset="0.96" stop-color="#0000d7"/><stop offset="1" stop-color="#0000d9"/></linearGradient><linearGradient id="g2_0_2"><stop offset="0" stop-color="#0000be"/><stop offset="0.04" stop-color="#0000c0"/><stop offset="0.1" stop-color="#0000c2"/><stop offset="0.2" stop-color="#0000c4"/><stop offset="0.35" stop-color="#0000c8"/><stop offset="0.5" stop-color="#0000ca"/><stop offset="0.65" stop-color="#0000cd"/><stop offset="0.8" stop-color="#0000d2"/><stop offset="0.9" stop-color="#0000d6"/><stop offset="0.96" stop-color="#0000d8"/><stop offset="1" stop-color="#0000da"/></linearGradient><linearGradient id="g2_0_3"><stop offset="0" stop-color="#0000be"/><stop offset="0.04" stop-color="#0000c0"/><stop offset="0.1" stop-color="#0000c1"/><stop offset="0.2" stop-color="#0000c4"/><stop offset="0.35" stop-color="#0000c8"/><stop offset="0.5" stop-color="#0000ca"/><stop offset="0.65" stop-color="#0000cd"/><stop offset="0.8" stop-color="#0000d2"/><stop offset="0.9" stop-color="#0000d7"/><stop offset="0.96" stop-color="#0000d9"/><stop offset="1" stop-color="#0000db"/></linearGradient><linearGradient id="g2_0_4"><stop offset="0" stop-color="#0000be"/><stop offset="0.04" stop-color="#0000c0"/><stop offset="0.1" stop-color="#0000c1"/><stop offset="0.2" stop-color="#0000c4"/><stop offset="0.35" stop-color="#0000c7"/><stop offset="0.5" stop-color="#0000c9"/><stop offset="0.65" stop-color="#0000cd"/><stop offset="0.8" stop-color="#0000d3"/><stop offset="0.9" stop-color="#0000d7"/><stop offset="0.96" stop-color="#0000db"/><stop offset="1" stop-color="#0000dd"/></linearGradient><linearGradient id="g2_0_5"><stop offset="0" stop-color="#0000be"/><stop offset="0.04" stop-color="#0000c0"/><stop offset="0.1" stop-color="#0000c1"/><stop offset="0.2" stop-color="#0000c4"/><stop offset="0.35" stop-color="#0000c7"/><stop offset="0.5" stop-color="#0000c9"/><stop offset="0.65" stop-color="#0000cd"/><stop offset="0.8" stop-color="#0000d3"/><stop offset="0.9" stop-color="#0000d8"/><stop offset="0.96" stop-color="#0000dc"/><stop offset="1" stop-color="#0000de"/></linearGradient><linearGradient id="g2_0_6"><stop offset="0" stop-color="#0000be"/><stop offset="0.04" stop-color="#0000c0"/><stop offset="0.1" stop-color="#0000c2"/><stop offset="0.2" stop-color="#0000c6"/><stop offset="0.35" stop-color="#0000ca"/><stop offset="0.5" stop-color="#0000cc"/><stop offset="0.65" stop-color="#0000d0"/><stop offset="0.8" stop-color="#0000d6"/><stop offset="0.9" stop-color="#0000db"/><stop offset="0.96" stop-color="#0000de"/><stop offset="1" stop-color="#0000e0"/></linearGradient><linearGradient id="g2_0_7"><stop offset="0" stop-color="#0000be"/><stop offset="0.04" stop-color="#0000c0"/><stop offset="0.1" stop-color="#0000c3"/><stop offset="0.2" stop-color="#0000c7"/><stop offset="0.35" stop-color="#0000cc"/><stop offset="0.5" stop-color="#0000cf"/><stop offset="0.65" stop-color="#0000d2"/><stop offset="0.8" stop-color="#0000d8"/><stop offset="0.9" stop-color="#0000dc"/><stop offset="0.96" stop-color="#0000df"/><stop offset="1" stop-color="#0000e1"/></linearGradient><linearGradient id="g2_0_8"><stop offset="0" stop-color="#0000be"/><stop offset="0.04" stop-color="#0000c0"/><stop offset="0.1" stop-color="#0000c3"/><stop offset="0.2" stop-color="#0000c8"/><stop offset="0.35" stop-color="#0000cd"/><stop offset="0.5" stop-color="#0000d0"/><stop offset="0.65" stop-color="#0000d4"/><stop offset="0.8" stop-color="#0000d9"/><stop offset="0.9" stop-color="#0000de"/><stop offset="0.96" stop-color="#0000e0"/><stop offset="1" stop-color="#0000e2"/></linearGradient><linearGradient id="g3_6_0"><stop offset="0" stop-color="#0000e8"/><stop offset="0.04" stop-color="#0000e9"/><stop offset="0.1" stop-color="#0000ec"/><stop offset="0.2" stop-color="#0000ef"/><stop offset="0.35" stop-color="#0000f4"/><stop offset="0.5" stop-color="#0000f7"/><stop offset="0.65" stop-color="#0000f5"/><stop offset="0.8" stop-color="#0000f2"/><stop offset="0.9" stop-color="#0000ef"/><stop offset="0.96" stop-color="#0000ee"/><stop offset="1" stop-color="#0000ed"/></linearGradient><linearGradient id="g3_6_1"><stop offset="0" stop-color="#0000e5"/><stop offset="0.04" stop-color="#0000e6"/><stop offset="0.1" stop-color="#0000e8"/><stop offset="0.2" stop-color="#0000eb"/><stop offset="0.35" stop-color="#0000ee"/><stop offset="0.5" stop-color="#0000f0"/><stop offset="0.65" stop-color="#0000ef"/><stop offset="0.8" stop-color="#0000ed"/><stop offset="0.9" stop-color="#0000ec"/><stop offset="0.96" stop-color="#0000eb"/><stop offset="1" stop-color="#0000ea"/></linearGradient><linearGradient id="g3_6_2"><stop offset="0" stop-color="#0000e2"/><stop offset="0.04" stop-color="#0000e2"/><stop offset="0.1" stop-color="#0000e3"/><stop offset="0.2" stop-color="#0000e5"/><stop offset="0.35" stop-color="#0000e7"/><stop offset="0.5" stop-color="#0000e8"/><stop offset="0.65" stop-color="#0000e8"/><stop offset="0.8" stop-color="#0000e7"/><stop offset="1" stop-color="#0000e7"/></linearGradient><linearGradient id="g3_6_3"><stop offset="0" stop-color="#0000de"/><stop offset="0.2" stop-color="#0000de"/><stop offset="0.35" stop-color="#0000dd"/><stop offset="0.5" stop-color="#0000dd"/><stop offset="0.65" stop-color="#0000de"/><stop offset="0.8" stop-color="#0000e0"/><stop offset="0.9" stop-color="#0000e2"/><stop offset="0.96" stop-color="#0000e2"/><stop offset="1" stop-color="#0000e3"/></linearGradient><linearGradient id="g3_6_4"><stop offset="0" stop-color="#0000da"/><stop offset="0.04" stop-color="#0000d9"/><stop offset="0.1" stop-color="#0000d8"/><stop offset="0.2" stop-color="#0000d6"/><stop offset="0.35" stop-color="#0000d4"/><stop offset="0.5" stop-color="#0000d2"/><stop offset="0.65" stop-color="#0000d4"/><stop offset="0.8" stop-color="#0000d8"/><stop offset="0.9" stop-color="#0000db"/><stop offset="0.96" stop-color="#0000dd"/><stop offset="1" stop-color="#0000df"/></linearGradient><linearGradient id="g3_6_5"><stop offset="0" stop-color="#0000d6"/><stop offset="0.04" stop-color="#0000d5"/><stop offset="0.1" stop-color="#0000d4"/><stop offset="0.2" stop-color="#0000d2"/><stop offset="0.35" stop-color="#0000cf"/><stop offset="0.5" stop-color="#0000ce"/><stop offset="0.65" stop-color="#0000d0"/><stop offset="0.8" stop-color="#0000d4"/><stop offset="0.9" stop-color="#0000d8"/><stop offset="0.96" stop-color="#0000da"/><stop offset="1" stop-color="#0000dc"/></linearGradient><linearGradient id="g3_6_6"><stop offset="0" stop-color="#0000d1"/><stop offset="0.04" stop-color="#0000d0"/><stop offset="0.1" stop-color="#0000cf"/><stop offset="0.2" stop-color="#0000ce"/><stop offset="0.35" stop-color="#0000cd"/><stop offset="0.5" stop-color="#0000cd"/><stop offset="0.65" stop-color="#0000ce"/><stop offset="0.8" stop-color="#0000d1"/><stop offset="0.9" stop-color="#0000d3"/><stop offset="0.96" stop-color="#0000d5"/><stop offset="1" stop-color="#0000d6"/></linearGradient><linearGradient id="g3_6_7"><stop offset="0" stop-color="#0000cc"/><stop offset="0.5" stop-color="#0000cc"/><stop offset="0.65" stop-color="#0000cd"/><stop offset="0.8" stop-color="#0000ce"/><stop offset="0.9" stop-color="#0000cf"/><stop offset="0.96" stop-color="#0000d0"/><stop offset="1" stop-color="#0000d1"/></linearGradient><linearGradient id="g3_6_8"><stop offset="0" stop-color="#0000c9"/><stop offset="0.1" stop-color="#0000c9"/><stop offset="0.2" stop-color="#0000ca"/><stop offset="0.35" stop-color="#0000cb"/><stop offset="0.5" stop-color="#0000cb"/><stop offset="0.65" stop-color="#0000cc"/><stop offset="0.8" stop-color="#0000cc"/><stop offset="0.9" stop-color="#0000cd"/><stop offset="0.96" stop-color="#0000ce"/><stop offset="1" stop-color="#0000ce"/></linearGradient><linearGradient id="g3_5_0"><stop offset="0" stop-color="#0073ff"/><stop offset="0.04" stop-color="#0071ff"/><stop offset="0.1" stop-color="#006eff"/><stop offset="0.2" stop-color="#0069ff"/><stop offset="0.35" stop-color="#0063ff"/><stop offset="0.5" stop-color="#005fff"/><stop offset="0.65" stop-color="#005cff"/><stop offset="0.8" stop-color="#0057ff"/><stop offset="0.9" stop-color="#0054ff"/><stop offset="0.96" stop-color="#0051ff"/><stop offset="1" stop-color="#004fff"/></linearGradient><linearGradient id="g3_5_1"><stop offset="0" stop-color="#006eff"/><stop offset="0.04" stop-color="#006cff"/><stop offset="0.1" stop-color="#0069ff"/><stop offset="0.2" stop-color="#0065ff"/><stop offset="0.35" stop-color="#005fff"/><stop offset="0.5" stop-color="#005cff"/><stop offset="0.65" stop-color="#0059ff"/><stop offset="0.8" stop-color="#0054ff"/><stop offset="0.9" stop-color="#0051ff"/><stop offset="0.96" stop-color="#004eff"/><stop offset="1" stop-color="#004cff"/></linearGradient><linearGradient id="g3_5_2"><stop offset="0" stop-color="#0067ff"/><stop offset="0.04" stop-color="#0065ff"/><stop offset="0.1" stop-color="#0063ff"/><stop offset="0.2" stop-color="#005fff"/><stop offset="0.35" stop-color="#005aff"/><stop offset="0.5" stop-color="#0057ff"/><stop offset="0.65" stop-color="#0055ff"/><stop offset="0.8" stop-color="#0050ff"/><stop offset="0.9" stop-color="#004dff"/><stop offset="0.96" stop-color="#004aff"/><stop offset="1" stop-color="#0049ff"/></linearGradient><linearGradient id="g3_5_3"><stop offset="0" stop-color="#005fff"/><stop offset="0.04" stop-color="#005dff"/><stop offset="0.1" stop-color="#005bff"/><stop offset="0.2" stop-color="#0058ff"/><stop offset="0.35" stop-color="#0054ff"/><stop offset="0.5" stop-color="#0052ff"/><stop offset="0.65" stop-color="#0050ff"/><stop offset="0.8" stop-color="#004bff"/><stop offset="0.9" stop-color="#0048ff"/><stop offset="0.96" stop-color="#0046ff"/><stop offset="1" stop-color="#0044ff"/></linearGradient><linearGradient id="g3_5_4"><stop offset="0" stop-color="#0056ff"/><stop offset="0.04" stop-color="#0055ff"/><stop offset="0.1" stop-color="#0053ff"/><stop offset="0.2" stop-color="#0051ff"/><stop offset="0.35" stop-color="#004eff"/><stop offset="0.5" stop-color="#004cff"/><stop offset="0.65" stop-color="#004aff"/><stop offset="0.8" stop-color="#0046ff"/><stop offset="0.9" stop-color="#0043ff"/><stop offset="0.96" stop-color="#0041ff"/><stop offset="1" stop-color="#003fff"/></linearGradient><linearGradient id="g3_5_5"><stop offset="0" stop-color="#004eff"/><stop offset="0.04" stop-color="#004eff"/><stop offset="0.1" stop-color="#004dff"/><stop offset="0.2" stop-color="#004bff"/><stop offset="0.35" stop-color="#0049ff"/><stop offset="0.5" stop-color="#0047ff"/><stop offset="0.65" stop-color="#0045ff"/><stop offset="0.8" stop-color="#0042ff"/><stop offset="0.9" stop-color="#003fff"/><stop offset="0.96" stop-color="#003dff"/><stop offset="1" stop-color="#003cff"/></linearGradient><linearGradient id="g3_5_6"><stop offset="0" stop-color="#0042ff"/><stop offset="0.04" stop-color="#0041ff"/><stop offset="0.1" stop-color="#0040ff"/><stop offset="0.2" stop-color="#003fff"/><stop offset="0.35" stop-color="#003dff"/><stop offset="0.5" stop-color="#003cff"/><stop offset="0.65" stop-color="#003bff"/><stop offset="0.8" stop-color="#0039ff"/><stop offset="0.9" stop-color="#0037ff"/><stop offset="0.96" stop-color="#0035ff"/><stop offset="1" stop-color="#0035ff"/></linearGradient><linearGradient id="g3_5_7"><stop offset="0" stop-color="#0037ff"/><stop offset="0.04" stop-color="#0037ff"/><stop offset="0.1" stop-color="#0036ff"/><stop offset="0.2" stop-color="#0035ff"/><stop offset="0.35" stop-color="#0034ff"/><stop offset="0.5" stop-color="#0033ff"/><stop offset="0.65" stop-color="#0033ff"/><stop offset="0.8" stop-color="#0031ff"/><stop offset="0.9" stop-color="#0030ff"/><stop offset="0.96" stop-color="#002fff"/><stop offset="1" stop-color="#002fff"/></linearGradient><linearGradient id="g3_5_8"><stop offset="0" stop-color="#0031ff"/><stop offset="0.04" stop-color="#0030ff"/><stop offset="0.1" stop-color="#0030ff"/><stop offset="0.2" stop-color="#002fff"/><stop offset="0.35" stop-color="#002eff"/><stop offset="0.65" stop-color="#002eff"/><stop offset="0.8" stop-color="#002dff"/><stop offset="0.9" stop-color="#002cff"/><stop offset="0.96" stop-color="#002cff"/><stop offset="1" stop-color="#002bff"/></linearGradient><linearGradient id="g3_4_0"><stop offset="0" stop-color="#1fffe0"/><stop offset="0.04" stop-color="#1dffe2"/><stop offset="0.1" stop-color="#1affe5"/><stop offset="0.2" stop-color="#14ffeb"/><stop offset="0.35" stop-color="#11ffee"/><stop offset="0.65" stop-color="#11ffee"/><stop offset="0.8" stop-color="#0cfff3"/><stop offset="0.9" stop-color="#01fffe"/><stop offset="0.96" stop-color="#00f9ff"/><stop offset="1" stop-color="#00f5ff"/></linearGradient><linearGradient id="g3_4_1"><stop offset="0" stop-color="#13ffec"/><stop offset="0.04" stop-color="#10ffef"/><stop offset="0.1" stop-color="#0dfff2"/><stop offset="0.2" stop-color="#08fff7"/><stop offset="0.35" stop-color="#05fffa"/><stop offset="0.5" stop-color="#05fffa"/><stop offset="0.65" stop-color="#02fffd"/><stop offset="0.8" stop-color="#00faff"/><stop offset="0.9" stop-color="#00efff"/><stop offset="0.96" stop-color="#00e9ff"/><stop offset="1" stop-color="#00e4ff"/></linearGradient><linearGradient id="g3_4_2"><stop offset="0" stop-color="#02fffd"/><stop offset="0.04" stop-color="#00ffff"/><stop offset="0.1" stop-color="#00fcff"/><stop offset="0.2" stop-color="#00f6ff"/><stop offset="0.35" stop-color="#00f3ff"/><stop offset="0.5" stop-color="#00f3ff"/><stop offset="0.65" stop-color="#00edff"/><stop offset="0.8" stop-color="#00e4ff"/><stop offset="0.9" stop-color="#00d9ff"/><stop offset="0.96" stop-color="#00d2ff"/><stop offset="1" stop-color="#00ceff"/></linearGradient><linearGradient id="g3_4_3"><stop offset="0" stop-color="#00ecff"/><stop offset="0.04" stop-color="#00eaff"/><stop offset="0.1" stop-color="#00e8ff"/><stop offset="0.2" stop-color="#00e4ff"/><stop offset="0.35" stop-color="#00e2ff"/><stop offset="0.5" stop-color="#00e2ff"/><stop offset="0.65" stop-color="#00d8ff"/><stop offset="0.8" stop-color="#00ccff"/><stop offset="0.9" stop-color="#00c1ff"/><stop offset="0.96" stop-color="#00baff"/><stop offset="1" stop-color="#00b5ff"/></linearGradient><linearGradient id="g3_4_4"><stop offset="0" stop-color="#00d2ff"/><stop offset="0.5" stop-color="#00d2ff"/><stop offset="0.65" stop-color="#00c6ff"/><stop offset="0.8" stop-color="#00b7ff"/><stop offset="0.9" stop-color="#00a9ff"/><stop offset="0.96" stop-color="#00a1ff"/><stop offset="1" stop-color="#009bff"/></linearGradient><linearGradient id="g3_4_5"><stop offset="0" stop-color="#00b0ff"/><stop offset="0.04" stop-color="#00b2ff"/><stop offset="0.1" stop-color="#00b5ff"/><stop offset="0.2" stop-color="#00bbff"/><stop offset="0.35" stop-color="#00beff"/><stop offset="0.5" stop-color="#00beff"/><stop offset="0.65" stop-color="#00adff"/><stop offset="0.8" stop-color="#009aff"/><stop offset="0.9" stop-color="#0089ff"/><stop offset="0.96" stop-color="#007fff"/><stop offset="1" stop-color="#0079ff"/></linearGradient><linearGradient id="g3_4_6"><stop offset="0" stop-color="#009bff"/><stop offset="0.04" stop-color="#009dff"/><stop offset="0.1" stop-color="#00a1ff"/><stop offset="0.2" stop-color="#00a6ff"/><stop offset="0.35" stop-color="#00a6ff"/><stop offset="0.5" stop-color="#00a2ff"/><stop offset="0.65" stop-color="#0091ff"/><stop offset="0.8" stop-color="#0080ff"/><stop offset="0.9" stop-color="#0072ff"/><stop offset="0.96" stop-color="#006aff"/><stop offset="1" stop-color="#0065ff"/></linearGradient><linearGradient id="g3_4_7"><stop offset="0" stop-color="#008eff"/><stop offset="0.04" stop-color="#0090ff"/><stop offset="0.1" stop-color="#0093ff"/><stop offset="0.2" stop-color="#0099ff"/><stop offset="0.35" stop-color="#0097ff"/><stop offset="0.5" stop-color="#0090ff"/><stop offset="0.65" stop-color="#0080ff"/><stop offset="0.8" stop-color="#006fff"/><stop offset="0.9" stop-color="#0064ff"/><stop offset="0.96" stop-color="#005dff"/><stop offset="1" stop-color="#0059ff"/></linearGradient><linearGradient id="g3_4_8"><stop offset="0" stop-color="#0086ff"/><stop offset="0.04" stop-color="#0089ff"/><stop offset="0.1" stop-color="#008cff"/><stop offset="0.2" stop-color="#0091ff"/><stop offset="0.35" stop-color="#008fff"/><stop offset="0.5" stop-color="#0086ff"/><stop offset="0.65" stop-color="#0076ff"/><stop offset="0.8" stop-color="#0067ff"/><stop offset="0.9" stop-color="#005cff"/><stop offset="0.96" stop-color="#0056ff"/><stop offset="1" stop-color="#0052ff"/></linearGradient><linearGradient id="g3_3_0"><stop offset="0" stop-color="#80ff80"/><stop offset="0.04" stop-color="#79ff86"/><stop offset="0.1" stop-color="#6fff90"/><stop offset="0.2" stop-color="#5effa1"/><stop offset="0.35" stop-color="#67ff98"/><stop offset="0.5" stop-color="#80ff80"/><stop offset="0.65" stop-color="#b9ff46"/><stop offset="0.8" stop-color="#c7ff38"/><stop offset="0.9" stop-color="#96ff69"/><stop offset="0.96" stop-color="#78ff87"/><stop offset="1" stop-color="#64ff9b"/></linearGradient><linearGradient id="g3_3_1"><stop offset="0" stop-color="#60ff9f"/><stop offset="0.04" stop-color="#5affa5"/><stop offset="0.1" stop-color="#50ffaf"/><stop offset="0.2" stop-color="#3fffc0"/><stop offset="0.35" stop-color="#44ffbb"/><stop offset="0.5" stop-color="#56ffa9"/><stop offset="0.65" stop-color="#84ff7b"/><stop offset="0.8" stop-color="#8dff72"/><stop offset="0.9" stop-color="#64ff9b"/><stop offset="0.96" stop-color="#4bffb4"/><stop offset="1" stop-color="#3bffc4"/></linearGradient><linearGradient id="g3_3_2"><stop offset="0" stop-color="#43ffbc"/><stop offset="0.04" stop-color="#3cffc3"/><stop offset="0.1" stop-color="#32ffcd"/><stop offset="0.2" stop-color="#22ffdd"/><stop offset="0.35" stop-color="#1fffe0"/><stop offset="0.5" stop-color="#26ffd9"/><stop offset="0.65" stop-color="#44ffbb"/><stop offset="0.8" stop-color="#49ffb6"/><stop offset="0.9" stop-color="#2cffd3"/><stop offset="0.96" stop-color="#1bffe4"/><stop offset="1" stop-color="#10ffef"/></linearGradient><linearGradient id="g3_3_3"><stop offset="0" stop-color="#1fffe0"/><stop offset="0.04" stop-color="#18ffe7"/><stop offset="0.1" stop-color="#0efff1"/><stop offset="0.2" stop-color="#00fdff"/><stop offset="0.35" stop-color="#00efff"/><stop offset="0.5" stop-color="#00e7ff"/><stop offset="0.65" stop-color="#00efff"/><stop offset="0.8" stop-color="#00efff"/><stop offset="0.9" stop-color="#00e4ff"/><stop offset="0.96" stop-color="#00deff"/><stop offset="1" stop-color="#00d9ff"/></linearGradient><linearGradient id="g3_3_4"><stop offset="0" stop-color="#00f5ff"/><stop offset="0.04" stop-color="#00f1ff"/><stop offset="0.1" stop-color="#00ebff"/><stop offset="0.2" stop-color="#00e2ff"/><stop offset="0.35" stop-color="#00daff"/><stop offset="0.5" stop-color="#00d5ff"/><stop offset="0.65" stop-color="#00d6ff"/><stop offset="0.8" stop-color="#00d0ff"/><stop offset="0.9" stop-color="#00c3ff"/><stop offset="0.96" stop-color="#00bbff"/><stop offset="1" stop-color="#00b6ff"/></linearGradient><linearGradient id="g3_3_5"><stop offset="0" stop-color="#00beff"/><stop offset="0.5" stop-color="#00beff"/><stop offset="0.65" stop-color="#00b5ff"/><stop offset="0.8" stop-color="#00a7ff"/><stop offset="0.9" stop-color="#0097ff"/><stop offset="0.96" stop-color="#008dff"/><stop offset="1" stop-color="#0086ff"/></linearGradient><linearGradient id="g3_3_6"><stop offset="0" stop-color="#00a2ff"/><stop offset="0.04" stop-color="#00a3ff"/><stop offset="0.1" stop-color="#00a5ff"/><stop offset="0.2" stop-color="#00a7ff"/><stop offset="0.35" stop-color="#00a9ff"/><stop offset="0.5" stop-color="#00a9ff"/><stop offset="0.65" stop-color="#009cff"/><stop offset="0.8" stop-color="#008dff"/><stop offset="0.9" stop-color="#0080ff"/><stop offset="0.96" stop-color="#0077ff"/><stop offset="1" stop-color="#0072ff"/></linearGradient><linearGradient id="g3_3_7"><stop offset="0" stop-color="#0090ff"/><stop offset="0.04" stop-color="#0092ff"/><stop offset="0.1" stop-color="#0095ff"/><stop offset="0.2" stop-color="#0099ff"/><stop offset="0.35" stop-color="#009bff"/><stop offset="0.5" stop-color="#009bff"/><stop offset="0.65" stop-color="#008cff"/><stop offset="0.8" stop-color="#007cff"/><stop offset="0.9" stop-color="#0071ff"/><stop offset="0.96" stop-color="#006aff"/><stop offset="1" stop-color="#0066ff"/></linearGradient><linearGradient id="g3_3_8"><stop offset="0" stop-color="#0086ff"/><stop offset="0.04" stop-color="#0089ff"/><stop offset="0.1" stop-color="#008cff"/><stop offset="0.2" stop-color="#0091ff"/><stop offset="0.35" stop-color="#0094ff"/><stop offset="0.5" stop-color="#0094ff"/><stop offset="0.65" stop-color="#0084ff"/><stop offset="0.8" stop-color="#0073ff"/><stop offset="0.9" stop-color="#0069ff"/><stop offset="0.96" stop-color="#0063ff"/><stop offset="1" stop-color="#005fff"/></linearGradient><linearGradient id="g3_2_0"><stop offset="0" stop-color="#00e7ff"/><stop offset="0.04" stop-color="#00e2ff"/><stop offset="0.1" stop-color="#00dcff"/><stop offset="0.2" stop-color="#00d1ff"/><stop offset="0.35" stop-color="#00c6ff"/><stop offset="0.5" stop-color="#00beff"/><stop offset="0.65" stop-color="#00b5ff"/><stop offset="0.8" stop-color="#00a7ff"/><stop offset="0.9" stop-color="#0097ff"/><stop offset="0.96" stop-color="#008dff"/><stop offset="1" stop-color="#0086ff"/></linearGradient><linearGradient id="g3_2_1"><stop offset="0" stop-color="#00d6ff"/><stop offset="0.04" stop-color="#00d2ff"/><stop offset="0.1" stop-color="#00cdff"/><stop offset="0.2" stop-color="#00c3ff"/><stop offset="0.35" stop-color="#00b9ff"/><stop offset="0.5" stop-color="#00b0ff"/><stop offset="0.65" stop-color="#00a8ff"/><stop offset="0.8" stop-color="#009bff"/><stop offset="0.9" stop-color="#008cff"/><stop offset="0.96" stop-color="#0083ff"/><stop offset="1" stop-color="#007cff"/></linearGradient><linearGradient id="g3_2_2"><stop offset="0" stop-color="#00c0ff"/><stop offset="0.04" stop-color="#00bdff"/><stop offset="0.1" stop-color="#00b8ff"/><stop offset="0.2" stop-color="#00b0ff"/><stop offset="0.35" stop-color="#00a7ff"/><stop offset="0.5" stop-color="#009fff"/><stop offset="0.65" stop-color="#0096ff"/><stop offset="0.8" stop-color="#008aff"/><stop offset="0.9" stop-color="#007dff"/><stop offset="0.96" stop-color="#0075ff"/><stop offset="1" stop-color="#0070ff"/></linearGradient><linearGradient id="g3_2_3"><stop offset="0" stop-color="#00a2ff"/><stop offset="0.04" stop-color="#00a0ff"/><stop offset="0.1" stop-color="#009cff"/><stop offset="0.2" stop-color="#0097ff"/><stop offset="0.35" stop-color="#008fff"/><stop offset="0.5" stop-color="#0086ff"/><stop offset="0.65" stop-color="#007eff"/><stop offset="0.8" stop-color="#0073ff"/><stop offset="0.9" stop-color="#0069ff"/><stop offset="0.96" stop-color="#0063ff"/><stop offset="1" stop-color="#005fff"/></linearGradient><linearGradient id="g3_2_4"><stop offset="0" stop-color="#0084ff"/><stop offset="0.04" stop-color="#0083ff"/><stop offset="0.1" stop-color="#0081ff"/><stop offset="0.2" stop-color="#007eff"/><stop offset="0.35" stop-color="#0077ff"/><stop offset="0.5" stop-color="#006fff"/><stop offset="0.65" stop-color="#0068ff"/><stop offset="0.8" stop-color="#005eff"/><stop offset="0.9" stop-color="#0055ff"/><stop offset="0.96" stop-color="#0050ff"/><stop offset="1" stop-color="#004cff"/></linearGradient><linearGradient id="g3_2_5"><stop offset="0" stop-color="#005fff"/><stop offset="0.2" stop-color="#005fff"/><stop offset="0.35" stop-color="#005aff"/><stop offset="0.5" stop-color="#0052ff"/><stop offset="0.65" stop-color="#004aff"/><stop offset="0.8" stop-color="#0042ff"/><stop offset="0.9" stop-color="#003aff"/><stop offset="0.96" stop-color="#0036ff"/><stop offset="1" stop-color="#0033ff"/></linearGradient><linearGradient id="g3_2_6"><stop offset="0" stop-color="#003fff"/><stop offset="0.04" stop-color="#003eff"/><stop offset="0.1" stop-color="#003dff"/><stop offset="0.2" stop-color="#003cff"/><stop offset="0.35" stop-color="#0037ff"/><stop offset="0.5" stop-color="#0032ff"/><stop offset="0.65" stop-color="#002eff"/><stop offset="0.8" stop-color="#002aff"/><stop offset="0.9" stop-color="#0026ff"/><stop offset="0.96" stop-color="#0024ff"/><stop offset="1" stop-color="#0022ff"/></linearGradient><linearGradient id="g3_2_7"><stop offset="0" stop-color="#002aff"/><stop offset="0.04" stop-color="#0029ff"/><stop offset="0.1" stop-color="#0027ff"/><stop offset="0.2" stop-color="#0025ff"/><stop offset="0.35" stop-color="#0021ff"/><stop offset="0.5" stop-color="#001dff"/><stop offset="0.65" stop-color="#001cff"/><stop offset="0.8" stop-color="#001aff"/><stop offset="0.9" stop-color="#0019ff"/><stop offset="0.96" stop-color="#0018ff"/><stop offset="1" stop-color="#0018ff"/></linearGradient><linearGradient id="g3_2_8"><stop offset="0" stop-color="#001fff"/><stop offset="0.04" stop-color="#001dff"/><stop offset="0.1" stop-color="#001bff"/><stop offset="0.2" stop-color="#0018ff"/><stop offset="0.35" stop-color="#0015ff"/><stop offset="0.5" stop-color="#0012ff"/><stop offset="1" stop-color="#0012ff"/></linearGradient><linearGradient id="g3_1_0"><stop offset="0" stop-color="#005aff"/><stop offset="0.04" stop-color="#005eff"/><stop offset="0.1" stop-color="#0064ff"/><stop offset="0.2" stop-color="#006eff"/><stop offset="0.35" stop-color="#0073ff"/><stop offset="0.5" stop-color="#0073ff"/><stop offset="0.65" stop-color="#006aff"/><stop offset="0.8" stop-color="#005eff"/><stop offset="0.9" stop-color="#0051ff"/><stop offset="0.96" stop-color="#004aff"/><stop offset="1" stop-color="#0045ff"/></linearGradient><linearGradient id="g3_1_1"><stop offset="0" stop-color="#0056ff"/><stop offset="0.04" stop-color="#005aff"/><stop offset="0.1" stop-color="#005fff"/><stop offset="0.2" stop-color="#0068ff"/><stop offset="0.35" stop-color="#006cff"/><stop offset="0.5" stop-color="#006bff"/><stop offset="0.65" stop-color="#0062ff"/><stop offset="0.8" stop-color="#0056ff"/><stop offset="0.9" stop-color="#004bff"/><stop offset="0.96" stop-color="#0044ff"/><stop offset="1" stop-color="#0040ff"/></linearGradient><linearGradient id="g3_1_2"><stop offset="0" stop-color="#0051ff"/><stop offset="0.04" stop-color="#0054ff"/><stop offset="0.1" stop-color="#0058ff"/><stop offset="0.2" stop-color="#0060ff"/><stop offset="0.35" stop-color="#0062ff"/><stop offset="0.5" stop-color="#005fff"/><stop offset="0.65" stop-color="#0057ff"/><stop offset="0.8" stop-color="#004cff"/><stop offset="0.9" stop-color="#0042ff"/><stop offset="0.96" stop-color="#003cff"/><stop offset="1" stop-color="#0038ff"/></linearGradient><linearGradient id="g3_1_3"><stop offset="0" stop-color="#004aff"/><stop offset="0.04" stop-color="#004cff"/><stop offset="0.1" stop-color="#004fff"/><stop offset="0.2" stop-color="#0055ff"/><stop offset="0.35" stop-color="#0054ff"/><stop offset="0.5" stop-color="#004fff"/><stop offset="0.65" stop-color="#0048ff"/><stop offset="0.8" stop-color="#003eff"/><stop offset="0.9" stop-color="#0036ff"/><stop offset="0.96" stop-color="#0031ff"/><stop offset="1" stop-color="#002eff"/></linearGradient><linearGradient id="g3_1_4"><stop offset="0" stop-color="#0041ff"/><stop offset="0.04" stop-color="#0042ff"/><stop offset="0.1" stop-color="#0043ff"/><stop offset="0.2" stop-color="#0045ff"/><stop offset="0.35" stop-color="#0041ff"/><stop offset="0.5" stop-color="#003aff"/><stop offset="0.65" stop-color="#0033ff"/><stop offset="0.8" stop-color="#002cff"/><stop offset="0.9" stop-color="#0026ff"/><stop offset="0.96" stop-color="#0022ff"/><stop offset="1" stop-color="#0020ff"/></linearGradient><linearGradient id="g3_1_5"><stop offset="0" stop-color="#0034ff"/><stop offset="0.04" stop-color="#0033ff"/><stop offset="0.2" stop-color="#0033ff"/><stop offset="0.35" stop-color="#002dff"/><stop offset="0.5" stop-color="#0024ff"/><stop offset="0.65" stop-color="#001fff"/><stop offset="0.8" stop-color="#001aff"/><stop offset="0.9" stop-color="#0017ff"/><stop offset="0.96" stop-color="#0015ff"/><stop offset="1" stop-color="#0014ff"/></linearGradient><linearGradient id="g3_1_6"><stop offset="0" stop-color="#0025ff"/><stop offset="0.04" stop-color="#0025ff"/><stop offset="0.1" stop-color="#0024ff"/><stop offset="0.2" stop-color="#0023ff"/><stop offset="0.35" stop-color="#001dff"/><stop offset="0.5" stop-color="#0016ff"/><stop offset="0.65" stop-color="#0013ff"/><stop offset="0.8" stop-color="#0011ff"/><stop offset="0.9" stop-color="#000fff"/><stop offset="0.96" stop-color="#000eff"/><stop offset="1" stop-color="#000eff"/></linearGradient><linearGradient id="g3_1_7"><stop offset="0" stop-color="#001cff"/><stop offset="0.04" stop-color="#001bff"/><stop offset="0.1" stop-color="#001aff"/><stop offset="0.2" stop-color="#0018ff"/><stop offset="0.35" stop-color="#0013ff"/><stop offset="0.5" stop-color="#000cff"/><stop offset="0.65" stop-color="#000cff"/><stop offset="0.8" stop-color="#000bff"/><stop offset="0.9" stop-color="#000aff"/><stop offset="1" stop-color="#000aff"/></linearGradient><linearGradient id="g3_1_8"><stop offset="0" stop-color="#0017ff"/><stop offset="0.04" stop-color="#0016ff"/><stop offset="0.1" stop-color="#0015ff"/><stop offset="0.2" stop-color="#0013ff"/><stop offset="0.35" stop-color="#000eff"/><stop offset="0.5" stop-color="#0007ff"/><stop offset="1" stop-color="#0007ff"/></linearGradient><linearGradient id="g3_0_0"><stop offset="0" stop-color="#0000e2"/><stop offset="0.04" stop-color="#0000e4"/><stop offset="0.1" stop-color="#0000e7"/><stop offset="0.2" stop-color="#0000ea"/><stop offset="0.35" stop-color="#0000ef"/><stop offset="0.5" stop-color="#0000f2"/><stop offset="0.65" stop-color="#0000f1"/><stop offset="0.8" stop-color="#0000ef"/><stop offset="0.9" stop-color="#0000ee"/><stop offset="0.96" stop-color="#0000ed"/><stop offset="1" stop-color="#0000ed"/></linearGradient><linearGradient id="g3_0_1"><stop offset="0" stop-color="#0000e1"/><stop offset="0.04" stop-color="#0000e2"/><stop offset="0.1" stop-color="#0000e4"/><stop offset="0.2" stop-color="#0000e7"/><stop offset="0.35" stop-color="#0000ea"/><stop offset="0.5" stop-color="#0000ec"/><stop offset="0.65" stop-color="#0000ec"/><stop offset="0.8" stop-color="#0000eb"/><stop offset="1" stop-color="#0000eb"/></linearGradient><linearGradient id="g3_0_2"><stop offset="0" stop-color="#0000e0"/><stop offset="0.04" stop-color="#0000e0"/><stop offset="0.1" stop-color="#0000e1"/><stop offset="0.2" stop-color="#0000e3"/><stop offset="0.35" stop-color="#0000e4"/><stop offset="0.5" stop-color="#0000e5"/><stop offset="0.65" stop-color="#0000e6"/><stop offset="0.8" stop-color="#0000e7"/><stop offset="0.9" stop-color="#0000e7"/><stop offset="0.96" stop-color="#0000e8"/><stop offset="1" stop-color="#0000e8"/></linearGradient><linearGradient id="g3_0_3"><stop offset="0" stop-color="#0000de"/><stop offset="0.04" stop-color="#0000de"/><stop offset="0.1" stop-color="#0000dd"/><stop offset="0.5" stop-color="#0000dd"/><stop offset="0.65" stop-color="#0000de"/><stop offset="0.8" stop-color="#0000e1"/><stop offset="0.9" stop-color="#0000e3"/><stop offset="0.96" stop-color="#0000e4"/><stop offset="1" stop-color="#0000e5"/></linearGradient><linearGradient id="g3_0_4"><stop offset="0" stop-color="#0000db"/><stop offset="0.04" stop-color="#0000db"/><stop offset="0.1" stop-color="#0000d9"/><stop offset="0.2" stop-color="#0000d8"/><stop offset="0.35" stop-color="#0000d5"/><stop offset="0.5" stop-color="#0000d4"/><stop offset="0.65" stop-color="#0000d6"/><stop offset="0.8" stop-color="#0000da"/><stop offset="0.9" stop-color="#0000de"/><stop offset="0.96" stop-color="#0000e0"/><stop offset="1" stop-color="#0000e1"/></linearGradient><linearGradient id="g3_0_5"><stop offset="0" stop-color="#0000da"/><stop offset="0.04" stop-color="#0000d9"/><stop offset="0.1" stop-color="#0000d7"/><stop offset="0.2" stop-color="#0000d5"/><stop offset="0.35" stop-color="#0000d2"/><stop offset="0.5" stop-color="#0000d1"/><stop offset="0.65" stop-color="#0000d3"/><stop offset="0.8" stop-color="#0000d7"/><stop offset="0.9" stop-color="#0000db"/><stop offset="0.96" stop-color="#0000dd"/><stop offset="1" stop-color="#0000de"/></linearGradient><linearGradient id="g3_0_6"><stop offset="0" stop-color="#0000d7"/><stop offset="0.04" stop-color="#0000d6"/><stop offset="0.1" stop-color="#0000d5"/><stop offset="0.2" stop-color="#0000d4"/><stop offset="0.35" stop-color="#0000d3"/><stop offset="0.5" stop-color="#0000d2"/><stop offset="0.65" stop-color="#0000d3"/><stop offset="0.8" stop-color="#0000d5"/><stop offset="0.9" stop-color="#0000d7"/><stop offset="0.96" stop-color="#0000d9"/><stop offset="1" stop-color="#0000da"/></linearGradient><linearGradient id="g3_0_7"><stop offset="0" stop-color="#0000d4"/><stop offset="0.1" stop-color="#0000d4"/><stop offset="0.2" stop-color="#0000d3"/><stop offset="0.35" stop-color="#0000d3"/><stop offset="0.5" stop-color="#0000d2"/><stop offset="0.65" stop-color="#0000d3"/><stop offset="0.8" stop-color="#0000d4"/><stop offset="0.9" stop-color="#0000d5"/><stop offset="1" stop-color="#0000d5"/></linearGradient><linearGradient id="g3_0_8"><stop offset="0" stop-color="#0000d3"/><stop offset="1" stop-color="#0000d3"/></linearGradient><linearGradient id="g4_6_0"><stop offset="0" stop-color="#0000aa"/><stop offset="0.1" stop-color="#0000aa"/><stop offset="0.2" stop-color="#0000ab"/><stop offset="0.35" stop-color="#0000ac"/><stop offset="0.5" stop-color="#0000ac"/><stop offset="0.65" stop-color="#0000ad"/><stop offset="0.8" stop-color="#0000ae"/><stop offset="0.9" stop-color="#0000ae"/><stop offset="0.96" stop-color="#0000af"/><stop offset="1" stop-color="#0000af"/></linearGradient><linearGradient id="g4_6_1"><stop offset="0" stop-color="#0000aa"/><stop offset="0.1" stop-color="#0000aa"/><stop offset="0.2" stop-color="#0000ab"/><stop offset="0.35" stop-color="#0000ac"/><stop offset="0.65" stop-color="#0000ac"/><stop offset="0.8" stop-color="#0000ad"/><stop offset="0.9" stop-color="#0000ae"/><stop offset="1" stop-color="#0000ae"/></linearGradient><linearGradient id="g4_6_2"><stop offset="0" stop-color="#0000aa"/><stop offset="0.1" stop-color="#0000aa"/><stop offset="0.2" stop-color="#0000ab"/><stop offset="0.5" stop-color="#0000ab"/><stop offset="0.65" stop-color="#0000ac"/><stop offset="0.8" stop-color="#0000ad"/><stop offset="0.9" stop-color="#0000ad"/><stop offset="0.96" stop-color="#0000ae"/><stop offset="1" stop-color="#0000ae"/></linearGradient><linearGradient id="g4_6_3"><stop offset="0" stop-color="#0000aa"/><stop offset="0.2" stop-color="#0000aa"/><stop offset="0.35" stop-color="#0000ab"/><stop offset="0.65" stop-color="#0000ab"/><stop offset="0.8" stop-color="#0000ac"/><stop offset="0.9" stop-color="#0000ad"/><stop offset="1" stop-color="#0000ad"/></linearGradient><linearGradient id="g4_6_4"><stop offset="0" stop-color="#0000aa"/><stop offset="0.5" stop-color="#0000aa"/><stop offset="0.65" stop-color="#0000ab"/><stop offset="0.8" stop-color="#0000ab"/><stop offset="0.9" stop-color="#0000ac"/><stop offset="0.96" stop-color="#0000ac"/><stop offset="1" stop-color="#0000ad"/></linearGradient><linearGradient id="g4_6_5"><stop offset="0" stop-color="#0000aa"/><stop offset="0.65" stop-color="#0000aa"/><stop offset="0.8" stop-color="#0000ab"/><stop offset="0.9" stop-color="#0000ab"/><stop offset="0.96" stop-color="#0000ac"/><stop offset="1" stop-color="#0000ac"/></linearGradient><linearGradient id="g4_6_6"><stop offset="0" stop-color="#0000aa"/><stop offset="0.8" stop-color="#0000aa"/><stop offset="0.9" stop-color="#0000ab"/><stop offset="1" stop-color="#0000ab"/></linearGradient><linearGradient id="g4_6_7"><stop offset="0" stop-color="#0000aa"/><stop offset="1" stop-color="#0000aa"/></linearGradient><linearGradient id="g4_6_8"><stop offset="0" stop-color="#0000aa"/><stop offset="1" stop-color="#0000aa"/></linearGradient><linearGradient id="g4_5_0"><stop offset="0" stop-color="#0000e8"/><stop offset="1" stop-color="#0000e8"/></linearGradient><linearGradient id="g4_5_1"><stop offset="0" stop-color="#0000e6"/><stop offset="0.9" stop-color="#0000e6"/><stop offset="0.96" stop-color="#0000e7"/><stop offset="1" stop-color="#0000e7"/></linearGradient><linearGradient id="g4_5_2"><stop offset="0" stop-color="#0000e5"/><stop offset="0.04" stop-color="#0000e5"/><stop offset="0.1" stop-color="#0000e4"/><stop offset="0.65" stop-color="#0000e4"/><stop offset="0.8" stop-color="#0000e5"/><stop offset="0.96" stop-color="#0000e5"/><stop offset="1" stop-color="#0000e6"/></linearGradient><linearGradient id="g4_5_3"><stop offset="0" stop-color="#0000e3"/><stop offset="0.04" stop-color="#0000e3"/><stop offset="0.1" stop-color="#0000e2"/><stop offset="0.2" stop-color="#0000e2"/><stop offset="0.35" stop-color="#0000e1"/><stop offset="0.5" stop-color="#0000e1"/><stop offset="0.65" stop-color="#0000e2"/><stop offset="0.8" stop-color="#0000e3"/><stop offset="0.9" stop-color="#0000e3"/><stop offset="0.96" stop-color="#0000e4"/><stop offset="1" stop-color="#0000e4"/></linearGradient><linearGradient id="g4_5_4"><stop offset="0" stop-color="#0000e1"/><stop offset="0.04" stop-color="#0000e0"/><stop offset="0.1" stop-color="#0000e0"/><stop offset="0.2" stop-color="#0000df"/><stop offset="0.35" stop-color="#0000df"/><stop offset="0.5" stop-color="#0000de"/><stop offset="0.65" stop-color="#0000df"/><stop offset="0.8" stop-color="#0000e1"/><stop offset="0.9" stop-color="#0000e2"/><stop offset="0.96" stop-color="#0000e2"/><stop offset="1" stop-color="#0000e3"/></linearGradient><linearGradient id="g4_5_5"><stop offset="0" stop-color="#0000df"/><stop offset="0.04" stop-color="#0000df"/><stop offset="0.1" stop-color="#0000de"/><stop offset="0.2" stop-color="#0000de"/><stop offset="0.35" stop-color="#0000dd"/><stop offset="0.5" stop-color="#0000dd"/><stop offset="0.65" stop-color="#0000de"/><stop offset="0.8" stop-color="#0000df"/><stop offset="0.9" stop-color="#0000e1"/><stop offset="0.96" stop-color="#0000e1"/><stop offset="1" stop-color="#0000e2"/></linearGradient><linearGradient id="g4_5_6"><stop offset="0" stop-color="#0000dc"/><stop offset="0.5" stop-color="#0000dc"/><stop offset="0.65" stop-color="#0000dd"/><stop offset="0.8" stop-color="#0000de"/><stop offset="0.9" stop-color="#0000df"/><stop offset="0.96" stop-color="#0000df"/><stop offset="1" stop-color="#0000e0"/></linearGradient><linearGradient id="g4_5_7"><stop offset="0" stop-color="#0000da"/><stop offset="0.2" stop-color="#0000da"/><stop offset="0.35" stop-color="#0000db"/><stop offset="0.5" stop-color="#0000db"/><stop offset="0.65" stop-color="#0000dc"/><stop offset="0.8" stop-color="#0000dd"/><stop offset="0.9" stop-color="#0000dd"/><stop offset="0.96" stop-color="#0000de"/><stop offset="1" stop-color="#0000de"/></linearGradient><linearGradient id="g4_5_8"><stop offset="0" stop-color="#0000d8"/><stop offset="0.04" stop-color="#0000d8"/><stop offset="0.1" stop-color="#0000d9"/><stop offset="0.2" stop-color="#0000d9"/><stop offset="0.35" stop-color="#0000da"/><stop offset="0.5" stop-color="#0000db"/><stop offset="0.65" stop-color="#0000db"/><stop offset="0.8" stop-color="#0000dc"/><stop offset="0.9" stop-color="#0000dd"/><stop offset="1" stop-color="#0000dd"/></linearGradient><linearGradient id="g4_4_0"><stop offset="0" stop-color="#03fffc"/><stop offset="0.04" stop-color="#00ffff"/><stop offset="0.1" stop-color="#00faff"/><stop offset="0.2" stop-color="#00f1ff"/><stop offset="0.35" stop-color="#00e7ff"/><stop offset="0.5" stop-color="#00dfff"/><stop offset="0.65" stop-color="#00cbff"/><stop offset="0.8" stop-color="#00b8ff"/><stop offset="0.9" stop-color="#00adff"/><stop offset="0.96" stop-color="#00a6ff"/><stop offset="1" stop-color="#00a2ff"/></linearGradient><linearGradient id="g4_4_1"><stop offset="0" stop-color="#00ecff"/><stop offset="0.04" stop-color="#00e9ff"/><stop offset="0.1" stop-color="#00e5ff"/><stop offset="0.2" stop-color="#00ddff"/><stop offset="0.35" stop-color="#00d4ff"/><stop offset="0.5" stop-color="#00ccff"/><stop offset="0.65" stop-color="#00bdff"/><stop offset="0.8" stop-color="#00adff"/><stop offset="0.9" stop-color="#00a2ff"/><stop offset="0.96" stop-color="#009bff"/><stop offset="1" stop-color="#0097ff"/></linearGradient><linearGradient id="g4_4_2"><stop offset="0" stop-color="#00cfff"/><stop offset="0.04" stop-color="#00cdff"/><stop offset="0.1" stop-color="#00c9ff"/><stop offset="0.2" stop-color="#00c4ff"/><stop offset="0.35" stop-color="#00bbff"/><stop offset="0.5" stop-color="#00b3ff"/><stop offset="0.65" stop-color="#00aaff"/><stop offset="0.8" stop-color="#009eff"/><stop offset="0.9" stop-color="#0093ff"/><stop offset="0.96" stop-color="#008dff"/><stop offset="1" stop-color="#0088ff"/></linearGradient><linearGradient id="g4_4_3"><stop offset="0" stop-color="#00abff"/><stop offset="0.04" stop-color="#00aaff"/><stop offset="0.1" stop-color="#00a7ff"/><stop offset="0.2" stop-color="#00a4ff"/><stop offset="0.35" stop-color="#009eff"/><stop offset="0.5" stop-color="#0099ff"/><stop offset="0.65" stop-color="#0090ff"/><stop offset="0.8" stop-color="#0086ff"/><stop offset="0.9" stop-color="#007dff"/><stop offset="0.96" stop-color="#0078ff"/><stop offset="1" stop-color="#0074ff"/></linearGradient><linearGradient id="g4_4_4"><stop offset="0" stop-color="#007bff"/><stop offset="0.04" stop-color="#007bff"/><stop offset="0.1" stop-color="#007aff"/><stop offset="0.2" stop-color="#0079ff"/><stop offset="0.35" stop-color="#0078ff"/><stop offset="0.5" stop-color="#0076ff"/><stop offset="0.65" stop-color="#006fff"/><stop offset="0.8" stop-color="#0067ff"/><stop offset="0.9" stop-color="#0061ff"/><stop offset="0.96" stop-color="#005dff"/><stop offset="1" stop-color="#005bff"/></linearGradient><linearGradient id="g4_4_5"><stop offset="0" stop-color="#0053ff"/><stop offset="0.04" stop-color="#0054ff"/><stop offset="0.1" stop-color="#0055ff"/><stop offset="0.2" stop-color="#0056ff"/><stop offset="0.35" stop-color="#0058ff"/><stop offset="0.5" stop-color="#005aff"/><stop offset="0.65" stop-color="#0055ff"/><stop offset="0.8" stop-color="#004fff"/><stop offset="0.9" stop-color="#004bff"/><stop offset="0.96" stop-color="#0049ff"/><stop offset="1" stop-color="#0047ff"/></linearGradient><linearGradient id="g4_4_6"><stop offset="0" stop-color="#0032ff"/><stop offset="0.04" stop-color="#0034ff"/><stop offset="0.1" stop-color="#0036ff"/><stop offset="0.2" stop-color="#0039ff"/><stop offset="0.35" stop-color="#003eff"/><stop offset="0.5" stop-color="#0043ff"/><stop offset="0.65" stop-color="#0040ff"/><stop offset="0.8" stop-color="#003dff"/><stop offset="0.9" stop-color="#003bff"/><stop offset="0.96" stop-color="#003aff"/><stop offset="1" stop-color="#0039ff"/></linearGradient><linearGradient id="g4_4_7"><stop offset="0" stop-color="#001dff"/><stop offset="0.04" stop-color="#001fff"/><stop offset="0.1" stop-color="#0022ff"/><stop offset="0.2" stop-color="#0026ff"/><stop offset="0.35" stop-color="#002dff"/><stop offset="0.5" stop-color="#0034ff"/><stop offset="0.65" stop-color="#0033ff"/><stop offset="0.8" stop-color="#0032ff"/><stop offset="0.9" stop-color="#0031ff"/><stop offset="0.96" stop-color="#0031ff"/><stop offset="1" stop-color="#0030ff"/></linearGradient><linearGradient id="g4_4_8"><stop offset="0" stop-color="#0012ff"/><stop offset="0.04" stop-color="#0014ff"/><stop offset="0.1" stop-color="#0017ff"/><stop offset="0.2" stop-color="#001cff"/><stop offset="0.35" stop-color="#0024ff"/><stop offset="0.5" stop-color="#002bff"/><stop offset="1" stop-color="#002bff"/></linearGradient><linearGradient id="g4_3_0"><stop offset="0" stop-color="#80ff80"/><stop offset="0.04" stop-color="#84ff7b"/><stop offset="0.1" stop-color="#8bff74"/><stop offset="0.2" stop-color="#96ff69"/><stop offset="0.35" stop-color="#90ff6f"/><stop offset="0.5" stop-color="#80ff80"/><stop offset="0.65" stop-color="#5effa1"/><stop offset="0.8" stop-color="#35ffca"/><stop offset="0.9" stop-color="#0efff1"/><stop offset="0.96" stop-color="#00f6ff"/><stop offset="1" stop-color="#00e7ff"/></linearGradient><linearGradient id="g4_3_1"><stop offset="0" stop-color="#68ff97"/><stop offset="0.04" stop-color="#6aff95"/><stop offset="0.1" stop-color="#6eff91"/><stop offset="0.2" stop-color="#74ff8b"/><stop offset="0.35" stop-color="#6dff92"/><stop offset="0.5" stop-color="#5cffa3"/><stop offset="0.65" stop-color="#42ffbd"/><stop offset="0.8" stop-color="#20ffdf"/><stop offset="0.9" stop-color="#00fdff"/><stop offset="0.96" stop-color="#00e9ff"/><stop offset="1" stop-color="#00dbff"/></linearGradient><linearGradient id="g4_3_2"><stop offset="0" stop-color="#2fffd0"/><stop offset="0.04" stop-color="#30ffcf"/><stop offset="0.1" stop-color="#31ffce"/><stop offset="0.2" stop-color="#33ffcc"/><stop offset="0.35" stop-color="#29ffd6"/><stop offset="0.5" stop-color="#19ffe6"/><stop offset="0.65" stop-color="#00ffff"/><stop offset="0.8" stop-color="#00e3ff"/><stop offset="0.9" stop-color="#00cdff"/><stop offset="0.96" stop-color="#00bfff"/><stop offset="1" stop-color="#00b6ff"/></linearGradient><linearGradient id="g4_3_3"><stop offset="0" stop-color="#00e9ff"/><stop offset="0.2" stop-color="#00e9ff"/><stop offset="0.35" stop-color="#00deff"/><stop offset="0.5" stop-color="#00cdff"/><stop offset="0.65" stop-color="#00baff"/><stop offset="0.8" stop-color="#00a6ff"/><stop offset="0.9" stop-color="#0099ff"/><stop offset="0.96" stop-color="#0091ff"/><stop offset="1" stop-color="#008cff"/></linearGradient><linearGradient id="g4_3_4"><stop offset="0" stop-color="#0094ff"/><stop offset="0.2" stop-color="#0094ff"/><stop offset="0.35" stop-color="#0089ff"/><stop offset="0.5" stop-color="#0079ff"/><stop offset="0.65" stop-color="#0071ff"/><stop offset="0.8" stop-color="#0069ff"/><stop offset="0.9" stop-color="#0064ff"/><stop offset="0.96" stop-color="#0061ff"/><stop offset="1" stop-color="#005fff"/></linearGradient><linearGradient id="g4_3_5"><stop offset="0" stop-color="#006cff"/><stop offset="0.04" stop-color="#006cff"/><stop offset="0.1" stop-color="#006dff"/><stop offset="0.2" stop-color="#006fff"/><stop offset="0.35" stop-color="#006bff"/><stop offset="0.5" stop-color="#0063ff"/><stop offset="0.65" stop-color="#005eff"/><stop offset="0.8" stop-color="#0058ff"/><stop offset="0.9" stop-color="#0053ff"/><stop offset="0.96" stop-color="#0050ff"/><stop offset="1" stop-color="#004eff"/></linearGradient><linearGradient id="g4_3_6"><stop offset="0" stop-color="#0045ff"/><stop offset="0.04" stop-color="#0047ff"/><stop offset="0.1" stop-color="#0049ff"/><stop offset="0.2" stop-color="#004cff"/><stop offset="0.35" stop-color="#004eff"/><stop offset="0.5" stop-color="#004eff"/><stop offset="0.65" stop-color="#004bff"/><stop offset="0.8" stop-color="#0047ff"/><stop offset="0.9" stop-color="#0042ff"/><stop offset="0.96" stop-color="#003fff"/><stop offset="1" stop-color="#003dff"/></linearGradient><linearGradient id="g4_3_7"><stop offset="0" stop-color="#002cff"/><stop offset="0.04" stop-color="#002eff"/><stop offset="0.1" stop-color="#0031ff"/><stop offset="0.2" stop-color="#0035ff"/><stop offset="0.35" stop-color="#003bff"/><stop offset="0.5" stop-color="#0040ff"/><stop offset="0.65" stop-color="#003fff"/><stop offset="0.8" stop-color="#003cff"/><stop offset="0.9" stop-color="#0037ff"/><stop offset="0.96" stop-color="#0033ff"/><stop offset="1" stop-color="#0031ff"/></linearGradient><linearGradient id="g4_3_8"><stop offset="0" stop-color="#001fff"/><stop offset="0.04" stop-color="#0021ff"/><stop offset="0.1" stop-color="#0024ff"/><stop offset="0.2" stop-color="#0029ff"/><stop offset="0.35" stop-color="#0031ff"/><stop offset="0.5" stop-color="#0038ff"/><stop offset="0.65" stop-color="#0038ff"/><stop offset="0.8" stop-color="#0036ff"/><stop offset="0.9" stop-color="#0031ff"/><stop offset="0.96" stop-color="#002dff"/><stop offset="1" stop-color="#002bff"/></linearGradient><linearGradient id="g4_2_0"><stop offset="0" stop-color="#0000d3"/><stop offset="0.04" stop-color="#0000d6"/><stop offset="0.1" stop-color="#0000da"/><stop offset="0.2" stop-color="#0000e0"/><stop offset="0.35" stop-color="#0000e8"/><stop offset="0.5" stop-color="#0000ed"/><stop offset="0.65" stop-color="#0000f0"/><stop offset="0.8" stop-color="#0000f4"/><stop offset="0.9" stop-color="#0000f8"/><stop offset="0.96" stop-color="#0000fa"/><stop offset="1" stop-color="#0000fc"/></linearGradient><linearGradient id="g4_2_1"><stop offset="0" stop-color="#0000d3"/><stop offset="0.04" stop-color="#0000d6"/><stop offset="0.1" stop-color="#0000da"/><stop offset="0.2" stop-color="#0000df"/><stop offset="0.35" stop-color="#0000e7"/><stop offset="0.5" stop-color="#0000eb"/><stop offset="0.65" stop-color="#0000ee"/><stop offset="0.8" stop-color="#0000f2"/><stop offset="0.9" stop-color="#0000f6"/><stop offset="0.96" stop-color="#0000f8"/><stop offset="1" stop-color="#0000fa"/></linearGradient><linearGradient id="g4_2_2"><stop offset="0" stop-color="#0000d4"/><stop offset="0.04" stop-color="#0000d6"/><stop offset="0.1" stop-color="#0000da"/><stop offset="0.2" stop-color="#0000df"/><stop offset="0.35" stop-color="#0000e5"/><stop offset="0.5" stop-color="#0000e9"/><stop offset="0.65" stop-color="#0000ec"/><stop offset="0.8" stop-color="#0000f0"/><stop offset="0.9" stop-color="#0000f3"/><stop offset="0.96" stop-color="#0000f6"/><stop offset="1" stop-color="#0000f7"/></linearGradient><linearGradient id="g4_2_3"><stop offset="0" stop-color="#0000d5"/><stop offset="0.04" stop-color="#0000d6"/><stop offset="0.1" stop-color="#0000d9"/><stop offset="0.2" stop-color="#0000de"/><stop offset="0.35" stop-color="#0000e3"/><stop offset="0.5" stop-color="#0000e6"/><stop offset="0.65" stop-color="#0000e9"/><stop offset="0.8" stop-color="#0000ed"/><stop offset="0.9" stop-color="#0000f0"/><stop offset="0.96" stop-color="#0000f3"/><stop offset="1" stop-color="#0000f4"/></linearGradient><linearGradient id="g4_2_4"><stop offset="0" stop-color="#0000d5"/><stop offset="0.04" stop-color="#0000d7"/><stop offset="0.1" stop-color="#0000d9"/><stop offset="0.2" stop-color="#0000dd"/><stop offset="0.35" stop-color="#0000e1"/><stop offset="0.5" stop-color="#0000e3"/><stop offset="0.65" stop-color="#0000e6"/><stop offset="0.8" stop-color="#0000ea"/><stop offset="0.9" stop-color="#0000ed"/><stop offset="0.96" stop-color="#0000ef"/><stop offset="1" stop-color="#0000f1"/></linearGradient><linearGradient id="g4_2_5"><stop offset="0" stop-color="#0000d6"/><stop offset="0.04" stop-color="#0000d7"/><stop offset="0.1" stop-color="#0000d9"/><stop offset="0.2" stop-color="#0000dc"/><stop offset="0.35" stop-color="#0000e0"/><stop offset="0.5" stop-color="#0000e2"/><stop offset="0.65" stop-color="#0000e4"/><stop offset="0.8" stop-color="#0000e8"/><stop offset="0.9" stop-color="#0000eb"/><stop offset="0.96" stop-color="#0000ed"/><stop offset="1" stop-color="#0000ee"/></linearGradient><linearGradient id="g4_2_6"><stop offset="0" stop-color="#0000d7"/><stop offset="0.04" stop-color="#0000d8"/><stop offset="0.1" stop-color="#0000d9"/><stop offset="0.2" stop-color="#0000db"/><stop offset="0.35" stop-color="#0000de"/><stop offset="0.5" stop-color="#0000e0"/><stop offset="0.65" stop-color="#0000e2"/><stop offset="0.8" stop-color="#0000e4"/><stop offset="0.9" stop-color="#0000e7"/><stop offset="0.96" stop-color="#0000e8"/><stop offset="1" stop-color="#0000e9"/></linearGradient><linearGradient id="g4_2_7"><stop offset="0" stop-color="#0000d8"/><stop offset="0.04" stop-color="#0000d8"/><stop offset="0.1" stop-color="#0000d9"/><stop offset="0.2" stop-color="#0000db"/><stop offset="0.35" stop-color="#0000dd"/><stop offset="0.5" stop-color="#0000de"/><stop offset="0.65" stop-color="#0000df"/><stop offset="0.8" stop-color="#0000e1"/><stop offset="0.9" stop-color="#0000e3"/><stop offset="0.96" stop-color="#0000e4"/><stop offset="1" stop-color="#0000e5"/></linearGradient><linearGradient id="g4_2_8"><stop offset="0" stop-color="#0000d8"/><stop offset="0.04" stop-color="#0000d9"/><stop offset="0.1" stop-color="#0000d9"/><stop offset="0.2" stop-color="#0000db"/><stop offset="0.35" stop-color="#0000dc"/><stop offset="0.5" stop-color="#0000dd"/><stop offset="0.65" stop-color="#0000de"/><stop offset="0.8" stop-color="#0000e0"/><stop offset="0.9" stop-color="#0000e1"/><stop offset="0.96" stop-color="#0000e2"/><stop offset="1" stop-color="#0000e2"/></linearGradient><linearGradient id="g4_1_0"><stop offset="0" stop-color="#0000e8"/><stop offset="0.04" stop-color="#0000eb"/><stop offset="0.1" stop-color="#0000f1"/><stop offset="0.2" stop-color="#0000fa"/><stop offset="0.35" stop-color="#0006ff"/><stop offset="0.5" stop-color="#000dff"/><stop offset="0.65" stop-color="#0010ff"/><stop offset="0.8" stop-color="#0015ff"/><stop offset="0.9" stop-color="#001aff"/><stop offset="0.96" stop-color="#001dff"/><stop offset="1" stop-color="#001fff"/></linearGradient><linearGradient id="g4_1_1"><stop offset="0" stop-color="#0000e7"/><stop offset="0.04" stop-color="#0000eb"/><stop offset="0.1" stop-color="#0000f0"/><stop offset="0.2" stop-color="#0000f8"/><stop offset="0.35" stop-color="#0003ff"/><stop offset="0.5" stop-color="#0009ff"/><stop offset="0.65" stop-color="#000dff"/><stop offset="0.8" stop-color="#0012ff"/><stop offset="0.9" stop-color="#0017ff"/><stop offset="0.96" stop-color="#0019ff"/><stop offset="1" stop-color="#001bff"/></linearGradient><linearGradient id="g4_1_2"><stop offset="0" stop-color="#0000e7"/><stop offset="0.04" stop-color="#0000ea"/><stop offset="0.1" stop-color="#0000ee"/><stop offset="0.2" stop-color="#0000f6"/><stop offset="0.35" stop-color="#0000ff"/><stop offset="0.5" stop-color="#0005ff"/><stop offset="0.65" stop-color="#0008ff"/><stop offset="0.8" stop-color="#000eff"/><stop offset="0.9" stop-color="#0012ff"/><stop offset="0.96" stop-color="#0015ff"/><stop offset="1" stop-color="#0017ff"/></linearGradient><linearGradient id="g4_1_3"><stop offset="0" stop-color="#0000e6"/><stop offset="0.04" stop-color="#0000e9"/><stop offset="0.1" stop-color="#0000ed"/><stop offset="0.2" stop-color="#0000f3"/><stop offset="0.35" stop-color="#0000fa"/><stop offset="0.5" stop-color="#0000ff"/><stop offset="0.65" stop-color="#0003ff"/><stop offset="0.8" stop-color="#0009ff"/><stop offset="0.9" stop-color="#000eff"/><stop offset="0.96" stop-color="#0010ff"/><stop offset="1" stop-color="#0013ff"/></linearGradient><linearGradient id="g4_1_4"><stop offset="0" stop-color="#0000e5"/><stop offset="0.04" stop-color="#0000e7"/><stop offset="0.1" stop-color="#0000eb"/><stop offset="0.2" stop-color="#0000ef"/><stop offset="0.35" stop-color="#0000f5"/><stop offset="0.5" stop-color="#0000f9"/><stop offset="0.65" stop-color="#0000fd"/><stop offset="0.8" stop-color="#0003ff"/><stop offset="0.9" stop-color="#0008ff"/><stop offset="0.96" stop-color="#000bff"/><stop offset="1" stop-color="#000dff"/></linearGradient><linearGradient id="g4_1_5"><stop offset="0" stop-color="#0000e5"/><stop offset="0.04" stop-color="#0000e7"/><stop offset="0.1" stop-color="#0000e9"/><stop offset="0.2" stop-color="#0000ed"/><stop offset="0.35" stop-color="#0000f3"/><stop offset="0.5" stop-color="#0000f6"/><stop offset="0.65" stop-color="#0000f9"/><stop offset="0.8" stop-color="#0000ff"/><stop offset="0.9" stop-color="#0004ff"/><stop offset="0.96" stop-color="#0007ff"/><stop offset="1" stop-color="#0009ff"/></linearGradient><linearGradient id="g4_1_6"><stop offset="0" stop-color="#0000e4"/><stop offset="0.04" stop-color="#0000e5"/><stop offset="0.1" stop-color="#0000e8"/><stop offset="0.2" stop-color="#0000eb"/><stop offset="0.35" stop-color="#0000ef"/><stop offset="0.5" stop-color="#0000f2"/><stop offset="0.65" stop-color="#0000f5"/><stop offset="0.8" stop-color="#0000f9"/><stop offset="0.9" stop-color="#0000fd"/><stop offset="0.96" stop-color="#0000ff"/><stop offset="1" stop-color="#0002ff"/></linearGradient><linearGradient id="g4_1_7"><stop offset="0" stop-color="#0000e3"/><stop offset="0.04" stop-color="#0000e4"/><stop offset="0.1" stop-color="#0000e6"/><stop offset="0.2" stop-color="#0000e9"/><stop offset="0.35" stop-color="#0000ec"/><stop offset="0.5" stop-color="#0000ef"/><stop offset="0.65" stop-color="#0000f1"/><stop offset="0.8" stop-color="#0000f4"/><stop offset="0.9" stop-color="#0000f7"/><stop offset="0.96" stop-color="#0000f9"/><stop offset="1" stop-color="#0000fb"/></linearGradient><linearGradient id="g4_1_8"><stop offset="0" stop-color="#0000e2"/><stop offset="0.04" stop-color="#0000e4"/><stop offset="0.1" stop-color="#0000e5"/><stop offset="0.2" stop-color="#0000e8"/><stop offset="0.35" stop-color="#0000eb"/><stop offset="0.5" stop-color="#0000ed"/><stop offset="0.65" stop-color="#0000ef"/><stop offset="0.8" stop-color="#0000f2"/><stop offset="0.9" stop-color="#0000f4"/><stop offset="0.96" stop-color="#0000f6"/><stop offset="1" stop-color="#0000f7"/></linearGradient><linearGradient id="g4_0_0"><stop offset="0" stop-color="#0000c3"/><stop offset="0.04" stop-color="#0000c4"/><stop offset="0.1" stop-color="#0000c4"/><stop offset="0.2" stop-color="#0000c5"/><stop offset="0.35" stop-color="#0000c6"/><stop offset="0.5" stop-color="#0000c6"/><stop offset="0.65" stop-color="#0000c7"/><stop offset="0.8" stop-color="#0000c7"/><stop offset="0.9" stop-color="#0000c8"/><stop offset="0.96" stop-color="#0000c8"/><stop offset="1" stop-color="#0000c9"/></linearGradient><linearGradient id="g4_0_1"><stop offset="0" stop-color="#0000c3"/><stop offset="0.04" stop-color="#0000c3"/><stop offset="0.1" stop-color="#0000c4"/><stop offset="0.35" stop-color="#0000c4"/><stop offset="0.5" stop-color="#0000c5"/><stop offset="0.65" stop-color="#0000c5"/><stop offset="0.8" stop-color="#0000c6"/><stop offset="0.9" stop-color="#0000c7"/><stop offset="0.96" stop-color="#0000c8"/><stop offset="1" stop-color="#0000c8"/></linearGradient><linearGradient id="g4_0_2"><stop offset="0" stop-color="#0000c3"/><stop offset="0.5" stop-color="#0000c3"/><stop offset="0.65" stop-color="#0000c4"/><stop offset="0.8" stop-color="#0000c5"/><stop offset="0.9" stop-color="#0000c6"/><stop offset="0.96" stop-color="#0000c7"/><stop offset="1" stop-color="#0000c8"/></linearGradient><linearGradient id="g4_0_3"><stop offset="0" stop-color="#0000c2"/><stop offset="0.2" stop-color="#0000c2"/><stop offset="0.35" stop-color="#0000c1"/><stop offset="0.5" stop-color="#0000c1"/><stop offset="0.65" stop-color="#0000c2"/><stop offset="0.8" stop-color="#0000c4"/><stop offset="0.9" stop-color="#0000c6"/><stop offset="0.96" stop-color="#0000c6"/><stop offset="1" stop-color="#0000c7"/></linearGradient><linearGradient id="g4_0_4"><stop offset="0" stop-color="#0000c1"/><stop offset="0.1" stop-color="#0000c1"/><stop offset="0.2" stop-color="#0000c0"/><stop offset="0.35" stop-color="#0000c0"/><stop offset="0.5" stop-color="#0000bf"/><stop offset="0.65" stop-color="#0000c0"/><stop offset="0.8" stop-color="#0000c3"/><stop offset="0.9" stop-color="#0000c4"/><stop offset="0.96" stop-color="#0000c6"/><stop offset="1" stop-color="#0000c6"/></linearGradient><linearGradient id="g4_0_5"><stop offset="0" stop-color="#0000c1"/><stop offset="0.04" stop-color="#0000c0"/><stop offset="0.2" stop-color="#0000c0"/><stop offset="0.35" stop-color="#0000bf"/><stop offset="0.5" stop-color="#0000bf"/><stop offset="0.65" stop-color="#0000c0"/><stop offset="0.8" stop-color="#0000c2"/><stop offset="0.9" stop-color="#0000c4"/><stop offset="0.96" stop-color="#0000c5"/><stop offset="1" stop-color="#0000c6"/></linearGradient><linearGradient id="g4_0_6"><stop offset="0" stop-color="#0000c0"/><stop offset="0.5" stop-color="#0000c0"/><stop offset="0.65" stop-color="#0000c1"/><stop offset="0.8" stop-color="#0000c2"/><stop offset="0.9" stop-color="#0000c3"/><stop offset="0.96" stop-color="#0000c4"/><stop offset="1" stop-color="#0000c5"/></linearGradient><linearGradient id="g4_0_7"><stop offset="0" stop-color="#0000bf"/><stop offset="0.1" stop-color="#0000bf"/><stop offset="0.2" stop-color="#0000c0"/><stop offset="0.5" stop-color="#0000c0"/><stop offset="0.65" stop-color="#0000c1"/><stop offset="0.8" stop-color="#0000c2"/><stop offset="0.9" stop-color="#0000c3"/><stop offset="0.96" stop-color="#0000c4"/><stop offset="1" stop-color="#0000c4"/></linearGradient><linearGradient id="g4_0_8"><stop offset="0" stop-color="#0000be"/><stop offset="0.04" stop-color="#0000bf"/><stop offset="0.1" stop-color="#0000bf"/><stop offset="0.2" stop-color="#0000c0"/><stop offset="0.35" stop-color="#0000c0"/><stop offset="0.5" stop-color="#0000c1"/><stop offset="0.65" stop-color="#0000c1"/><stop offset="0.8" stop-color="#0000c2"/><stop offset="0.9" stop-color="#0000c3"/><stop offset="1" stop-color="#0000c3"/></linearGradient><linearGradient id="g5_6_0"><stop offset="0" stop-color="#0000aa"/><stop offset="0.1" stop-color="#0000aa"/><stop offset="0.2" stop-color="#0000ab"/><stop offset="0.35" stop-color="#0000ac"/><stop offset="0.5" stop-color="#0000ac"/><stop offset="0.65" stop-color="#0000ad"/><stop offset="0.8" stop-color="#0000ae"/><stop offset="0.9" stop-color="#0000ae"/><stop offset="0.96" stop-color="#0000af"/><stop offset="1" stop-color="#0000af"/></linearGradient><linearGradient id="g5_6_1"><stop offset="0" stop-color="#0000aa"/><stop offset="0.1" stop-color="#0000aa"/><stop offset="0.2" stop-color="#0000ab"/><stop offset="0.35" stop-color="#0000ac"/><stop offset="0.65" stop-color="#0000ac"/><stop offset="0.8" stop-color="#0000ad"/><stop offset="0.9" stop-color="#0000ae"/><stop offset="1" stop-color="#0000ae"/></linearGradient><linearGradient id="g5_6_2"><stop offset="0" stop-color="#0000aa"/><stop offset="0.1" stop-color="#0000aa"/><stop offset="0.2" stop-color="#0000ab"/><stop offset="0.5" stop-color="#0000ab"/><stop offset="0.65" stop-color="#0000ac"/><stop offset="0.8" stop-color="#0000ad"/><stop offset="0.9" stop-color="#0000ad"/><stop offset="0.96" stop-color="#0000ae"/><stop offset="1" stop-color="#0000ae"/></linearGradient><linearGradient id="g5_6_3"><stop offset="0" stop-color="#0000aa"/><stop offset="0.2" stop-color="#0000aa"/><stop offset="0.35" stop-color="#0000ab"/><stop offset="0.65" stop-color="#0000ab"/><stop offset="0.8" stop-color="#0000ac"/><stop offset="0.9" stop-color="#0000ad"/><stop offset="1" stop-color="#0000ad"/></linearGradient><linearGradient id="g5_6_4"><stop offset="0" stop-color="#0000aa"/><stop offset="0.5" stop-color="#0000aa"/><stop offset="0.65" stop-color="#0000ab"/><stop offset="0.8" stop-color="#0000ab"/><stop offset="0.9" stop-color="#0000ac"/><stop offset="0.96" stop-color="#0000ac"/><stop offset="1" stop-color="#0000ad"/></linearGradient><linearGradient id="g5_6_5"><stop offset="0" stop-color="#0000aa"/><stop offset="0.65" stop-color="#0000aa"/><stop offset="0.8" stop-color="#0000ab"/><stop offset="0.9" stop-color="#0000ab"/><stop offset="0.96" stop-color="#0000ac"/><stop offset="1" stop-color="#0000ac"/></linearGradient><linearGradient id="g5_6_6"><stop offset="0" stop-color="#0000aa"/><stop offset="0.8" stop-color="#0000aa"/><stop offset="0.9" stop-color="#0000ab"/><stop offset="1" stop-color="#0000ab"/></linearGradient><linearGradient id="g5_6_7"><stop offset="0" stop-color="#0000aa"/><stop offset="1" stop-color="#0000aa"/></linearGradient><linearGradient id="g5_6_8"><stop offset="0" stop-color="#0000aa"/><stop offset="1" stop-color="#0000aa"/></linearGradient><linearGradient id="g5_5_0"><stop offset="0" stop-color="#0000d3"/><stop offset="0.04" stop-color="#0000d3"/><stop offset="0.1" stop-color="#0000d4"/><stop offset="0.2" stop-color="#0000d4"/><stop offset="0.35" stop-color="#0000d5"/><stop offset="0.5" stop-color="#0000d6"/><stop offset="0.65" stop-color="#0000d6"/><stop offset="0.8" stop-color="#0000d7"/><stop offset="0.9" stop-color="#0000d7"/><stop offset="0.96" stop-color="#0000d8"/><stop offset="1" stop-color="#0000d8"/></linearGradient><linearGradient id="g5_5_1"><stop offset="0" stop-color="#0000d3"/><stop offset="0.1" stop-color="#0000d3"/><stop offset="0.2" stop-color="#0000d4"/><stop offset="0.35" stop-color="#0000d4"/><stop offset="0.5" stop-color="#0000d5"/><stop offset="0.65" stop-color="#0000d5"/><stop offset="0.8" stop-color="#0000d6"/><stop offset="0.9" stop-color="#0000d7"/><stop offset="0.96" stop-color="#0000d8"/><stop offset="1" stop-color="#0000d8"/></linearGradient><linearGradient id="g5_5_2"><stop offset="0" stop-color="#0000d2"/><stop offset="0.1" stop-color="#0000d2"/><stop offset="0.2" stop-color="#0000d3"/><stop offset="0.35" stop-color="#0000d3"/><stop offset="0.5" stop-color="#0000d4"/><stop offset="0.65" stop-color="#0000d4"/><stop offset="0.8" stop-color="#0000d6"/><stop offset="0.9" stop-color="#0000d7"/><stop offset="0.96" stop-color="#0000d8"/><stop offset="1" stop-color="#0000d8"/></linearGradient><linearGradient id="g5_5_3"><stop offset="0" stop-color="#0000d1"/><stop offset="0.04" stop-color="#0000d1"/><stop offset="0.1" stop-color="#0000d2"/><stop offset="0.5" stop-color="#0000d2"/><stop offset="0.65" stop-color="#0000d3"/><stop offset="0.8" stop-color="#0000d5"/><stop offset="0.9" stop-color="#0000d7"/><stop offset="0.96" stop-color="#0000d7"/><stop offset="1" stop-color="#0000d8"/></linearGradient><linearGradient id="g5_5_4"><stop offset="0" stop-color="#0000d1"/><stop offset="0.5" stop-color="#0000d1"/><stop offset="0.65" stop-color="#0000d2"/><stop offset="0.8" stop-color="#0000d4"/><stop offset="0.9" stop-color="#0000d6"/><stop offset="0.96" stop-color="#0000d7"/><stop offset="1" stop-color="#0000d8"/></linearGradient><linearGradient id="g5_5_5"><stop offset="0" stop-color="#0000d0"/><stop offset="0.2" stop-color="#0000d0"/><stop offset="0.35" stop-color="#0000d1"/><stop offset="0.5" stop-color="#0000d1"/><stop offset="0.65" stop-color="#0000d2"/><stop offset="0.8" stop-color="#0000d4"/><stop offset="0.9" stop-color="#0000d6"/><stop offset="0.96" stop-color="#0000d7"/><stop offset="1" stop-color="#0000d8"/></linearGradient><linearGradient id="g5_5_6"><stop offset="0" stop-color="#0000cf"/><stop offset="0.04" stop-color="#0000cf"/><stop offset="0.1" stop-color="#0000d0"/><stop offset="0.2" stop-color="#0000d0"/><stop offset="0.35" stop-color="#0000d1"/><stop offset="0.5" stop-color="#0000d2"/><stop offset="0.65" stop-color="#0000d3"/><stop offset="0.8" stop-color="#0000d5"/><stop offset="0.9" stop-color="#0000d6"/><stop offset="0.96" stop-color="#0000d7"/><stop offset="1" stop-color="#0000d8"/></linearGradient><linearGradient id="g5_5_7"><stop offset="0" stop-color="#0000ce"/><stop offset="0.04" stop-color="#0000cf"/><stop offset="0.1" stop-color="#0000cf"/><stop offset="0.2" stop-color="#0000d0"/><stop offset="0.35" stop-color="#0000d2"/><stop offset="0.5" stop-color="#0000d2"/><stop offset="0.65" stop-color="#0000d3"/><stop offset="0.8" stop-color="#0000d5"/><stop offset="0.9" stop-color="#0000d7"/><stop offset="0.96" stop-color="#0000d7"/><stop offset="1" stop-color="#0000d8"/></linearGradient><linearGradient id="g5_5_8"><stop offset="0" stop-color="#0000ce"/><stop offset="0.04" stop-color="#0000ce"/><stop offset="0.1" stop-color="#0000cf"/><stop offset="0.2" stop-color="#0000d0"/><stop offset="0.35" stop-color="#0000d2"/><stop offset="0.5" stop-color="#0000d3"/><stop offset="0.65" stop-color="#0000d4"/><stop offset="0.8" stop-color="#0000d5"/><stop offset="0.9" stop-color="#0000d7"/><stop offset="0.96" stop-color="#0000d8"/><stop offset="1" stop-color="#0000d8"/></linearGradient><linearGradient id="g5_4_0"><stop offset="0" stop-color="#0000ed"/><stop offset="0.04" stop-color="#0000ee"/><stop offset="0.1" stop-color="#0000ef"/><stop offset="0.2" stop-color="#0000f2"/><stop offset="0.35" stop-color="#0000f5"/><stop offset="0.5" stop-color="#0000f7"/><stop offset="0.65" stop-color="#0000f9"/><stop offset="0.8" stop-color="#0000fc"/><stop offset="0.9" stop-color="#0000fe"/><stop offset="0.96" stop-color="#0001ff"/><stop offset="1" stop-color="#0002ff"/></linearGradient><linearGradient id="g5_4_1"><stop offset="0" stop-color="#0000ee"/><stop offset="0.04" stop-color="#0000ef"/><stop offset="0.1" stop-color="#0000f0"/><stop offset="0.2" stop-color="#0000f2"/><stop offset="0.35" stop-color="#0000f5"/><stop offset="0.5" stop-color="#0000f7"/><stop offset="0.65" stop-color="#0000f9"/><stop offset="0.8" stop-color="#0000fd"/><stop offset="0.9" stop-color="#0001ff"/><stop offset="0.96" stop-color="#0003ff"/><stop offset="1" stop-color="#0005ff"/></linearGradient><linearGradient id="g5_4_2"><stop offset="0" stop-color="#0000ef"/><stop offset="0.04" stop-color="#0000ef"/><stop offset="0.1" stop-color="#0000f1"/><stop offset="0.2" stop-color="#0000f3"/><stop offset="0.35" stop-color="#0000f5"/><stop offset="0.5" stop-color="#0000f7"/><stop offset="0.65" stop-color="#0000fa"/><stop offset="0.8" stop-color="#0000ff"/><stop offset="0.9" stop-color="#0004ff"/><stop offset="0.96" stop-color="#0006ff"/><stop offset="1" stop-color="#0008ff"/></linearGradient><linearGradient id="g5_4_3"><stop offset="0" stop-color="#0000f0"/><stop offset="0.04" stop-color="#0000f1"/><stop offset="0.1" stop-color="#0000f2"/><stop offset="0.2" stop-color="#0000f3"/><stop offset="0.35" stop-color="#0000f6"/><stop offset="0.5" stop-color="#0000f7"/><stop offset="0.65" stop-color="#0000fb"/><stop offset="0.8" stop-color="#0002ff"/><stop offset="0.9" stop-color="#0007ff"/><stop offset="0.96" stop-color="#000aff"/><stop offset="1" stop-color="#000cff"/></linearGradient><linearGradient id="g5_4_4"><stop offset="0" stop-color="#0000f1"/><stop offset="0.04" stop-color="#0000f2"/><stop offset="0.1" stop-color="#0000f3"/><stop offset="0.2" stop-color="#0000f4"/><stop offset="0.35" stop-color="#0000f6"/><stop offset="0.5" stop-color="#0000f7"/><stop offset="0.65" stop-color="#0000fb"/><stop offset="0.8" stop-color="#0004ff"/><stop offset="0.9" stop-color="#000aff"/><stop offset="0.96" stop-color="#000dff"/><stop offset="1" stop-color="#0010ff"/></linearGradient><linearGradient id="g5_4_5"><stop offset="0" stop-color="#0000f2"/><stop offset="0.04" stop-color="#0000f3"/><stop offset="0.1" stop-color="#0000f4"/><stop offset="0.2" stop-color="#0000f6"/><stop offset="0.35" stop-color="#0000f8"/><stop offset="0.5" stop-color="#0000fa"/><stop offset="0.65" stop-color="#0001ff"/><stop offset="0.8" stop-color="#000cff"/><stop offset="0.9" stop-color="#0014ff"/><stop offset="0.96" stop-color="#001aff"/><stop offset="1" stop-color="#001eff"/></linearGradient><linearGradient id="g5_4_6"><stop offset="0" stop-color="#0000f4"/><stop offset="0.04" stop-color="#0000f6"/><stop offset="0.1" stop-color="#0000f8"/><stop offset="0.2" stop-color="#0000fc"/><stop offset="0.35" stop-color="#0002ff"/><stop offset="0.5" stop-color="#0005ff"/><stop offset="0.65" stop-color="#0011ff"/><stop offset="0.8" stop-color="#0027ff"/><stop offset="0.9" stop-color="#0038ff"/><stop offset="0.96" stop-color="#0043ff"/><stop offset="1" stop-color="#004aff"/></linearGradient><linearGradient id="g5_4_7"><stop offset="0" stop-color="#0000f6"/><stop offset="0.04" stop-color="#0000f8"/><stop offset="0.1" stop-color="#0000fc"/><stop offset="0.2" stop-color="#0002ff"/><stop offset="0.35" stop-color="#0009ff"/><stop offset="0.5" stop-color="#000dff"/><stop offset="0.65" stop-color="#001fff"/><stop offset="0.8" stop-color="#003dff"/><stop offset="0.9" stop-color="#0055ff"/><stop offset="0.96" stop-color="#0065ff"/><stop offset="1" stop-color="#006fff"/></linearGradient><linearGradient id="g5_4_8"><stop offset="0" stop-color="#0000f7"/><stop offset="0.04" stop-color="#0000fa"/><stop offset="0.1" stop-color="#0000fe"/><stop offset="0.2" stop-color="#0005ff"/><stop offset="0.35" stop-color="#000dff"/><stop offset="0.5" stop-color="#0012ff"/><stop offset="0.65" stop-color="#0027ff"/><stop offset="0.8" stop-color="#004aff"/><stop offset="0.9" stop-color="#0066ff"/><stop offset="0.96" stop-color="#0079ff"/><stop offset="1" stop-color="#0086ff"/></linearGradient><linearGradient id="g5_3_0"><stop offset="0" stop-color="#0000f2"/><stop offset="0.04" stop-color="#0000f3"/><stop offset="0.1" stop-color="#0000f5"/><stop offset="0.2" stop-color="#0000f7"/><stop offset="0.35" stop-color="#0000fa"/><stop offset="0.5" stop-color="#0000fc"/><stop offset="0.65" stop-color="#0000fe"/><stop offset="0.8" stop-color="#0002ff"/><stop offset="0.9" stop-color="#0005ff"/><stop offset="0.96" stop-color="#0006ff"/><stop offset="1" stop-color="#0007ff"/></linearGradient><linearGradient id="g5_3_1"><stop offset="0" stop-color="#0000f3"/><stop offset="0.04" stop-color="#0000f4"/><stop offset="0.1" stop-color="#0000f5"/><stop offset="0.2" stop-color="#0000f7"/><stop offset="0.35" stop-color="#0000fa"/><stop offset="0.5" stop-color="#0000fc"/><stop offset="0.65" stop-color="#0000fe"/><stop offset="0.8" stop-color="#0003ff"/><stop offset="0.9" stop-color="#0006ff"/><stop offset="0.96" stop-color="#0008ff"/><stop offset="1" stop-color="#0009ff"/></linearGradient><linearGradient id="g5_3_2"><stop offset="0" stop-color="#0000f4"/><stop offset="0.04" stop-color="#0000f5"/><stop offset="0.1" stop-color="#0000f6"/><stop offset="0.2" stop-color="#0000f8"/><stop offset="0.35" stop-color="#0000fb"/><stop offset="0.5" stop-color="#0000fc"/><stop offset="0.65" stop-color="#0000ff"/><stop offset="0.8" stop-color="#0004ff"/><stop offset="0.9" stop-color="#0007ff"/><stop offset="0.96" stop-color="#000aff"/><stop offset="1" stop-color="#000bff"/></linearGradient><linearGradient id="g5_3_3"><stop offset="0" stop-color="#0000f5"/><stop offset="0.04" stop-color="#0000f6"/><stop offset="0.1" stop-color="#0000f7"/><stop offset="0.2" stop-color="#0000f9"/><stop offset="0.35" stop-color="#0000fb"/><stop offset="0.5" stop-color="#0000fc"/><stop offset="0.65" stop-color="#0000ff"/><stop offset="0.8" stop-color="#0005ff"/><stop offset="0.9" stop-color="#0009ff"/><stop offset="0.96" stop-color="#000cff"/><stop offset="1" stop-color="#000eff"/></linearGradient><linearGradient id="g5_3_4"><stop offset="0" stop-color="#0000f6"/><stop offset="0.04" stop-color="#0000f7"/><stop offset="0.1" stop-color="#0000f8"/><stop offset="0.2" stop-color="#0000f9"/><stop offset="0.35" stop-color="#0000fb"/><stop offset="0.5" stop-color="#0000fc"/><stop offset="0.65" stop-color="#0001ff"/><stop offset="0.8" stop-color="#0007ff"/><stop offset="0.9" stop-color="#000bff"/><stop offset="0.96" stop-color="#000eff"/><stop offset="1" stop-color="#0011ff"/></linearGradient><linearGradient id="g5_3_5"><stop offset="0" stop-color="#0000f8"/><stop offset="0.04" stop-color="#0000f8"/><stop offset="0.1" stop-color="#0000f9"/><stop offset="0.2" stop-color="#0000fb"/><stop offset="0.35" stop-color="#0000fd"/><stop offset="0.5" stop-color="#0000fe"/><stop offset="0.65" stop-color="#0003ff"/><stop offset="0.8" stop-color="#0009ff"/><stop offset="0.9" stop-color="#000eff"/><stop offset="0.96" stop-color="#0011ff"/><stop offset="1" stop-color="#0013ff"/></linearGradient><linearGradient id="g5_3_6"><stop offset="0" stop-color="#0000f9"/><stop offset="0.04" stop-color="#0000fb"/><stop offset="0.1" stop-color="#0000fc"/><stop offset="0.2" stop-color="#0000ff"/><stop offset="0.35" stop-color="#0003ff"/><stop offset="0.5" stop-color="#0005ff"/><stop offset="0.65" stop-color="#0009ff"/><stop offset="0.8" stop-color="#000eff"/><stop offset="0.9" stop-color="#0013ff"/><stop offset="0.96" stop-color="#0016ff"/><stop offset="1" stop-color="#0018ff"/></linearGradient><linearGradient id="g5_3_7"><stop offset="0" stop-color="#0000fb"/><stop offset="0.04" stop-color="#0000fd"/><stop offset="0.1" stop-color="#0000ff"/><stop offset="0.2" stop-color="#0004ff"/><stop offset="0.35" stop-color="#0008ff"/><stop offset="0.5" stop-color="#000bff"/><stop offset="0.65" stop-color="#000eff"/><stop offset="0.8" stop-color="#0013ff"/><stop offset="0.9" stop-color="#0017ff"/><stop offset="0.96" stop-color="#001aff"/><stop offset="1" stop-color="#001cff"/></linearGradient><linearGradient id="g5_3_8"><stop offset="0" stop-color="#0000fc"/><stop offset="0.04" stop-color="#0000fe"/><stop offset="0.1" stop-color="#0002ff"/><stop offset="0.2" stop-color="#0006ff"/><stop offset="0.35" stop-color="#000bff"/><stop offset="0.5" stop-color="#000eff"/><stop offset="0.65" stop-color="#0011ff"/><stop offset="0.8" stop-color="#0016ff"/><stop offset="0.9" stop-color="#001aff"/><stop offset="0.96" stop-color="#001dff"/><stop offset="1" stop-color="#001fff"/></linearGradient><linearGradient id="g5_2_0"><stop offset="0" stop-color="#0000dd"/><stop offset="0.04" stop-color="#0000de"/><stop offset="0.1" stop-color="#0000df"/><stop offset="0.2" stop-color="#0000e0"/><stop offset="0.35" stop-color="#0000e1"/><stop offset="0.5" stop-color="#0000e2"/><stop offset="0.65" stop-color="#0000e3"/><stop offset="0.8" stop-color="#0000e5"/><stop offset="0.9" stop-color="#0000e6"/><stop offset="0.96" stop-color="#0000e7"/><stop offset="1" stop-color="#0000e8"/></linearGradient><linearGradient id="g5_2_1"><stop offset="0" stop-color="#0000dd"/><stop offset="0.04" stop-color="#0000dd"/><stop offset="0.1" stop-color="#0000de"/><stop offset="0.2" stop-color="#0000df"/><stop offset="0.35" stop-color="#0000e1"/><stop offset="0.5" stop-color="#0000e2"/><stop offset="0.65" stop-color="#0000e3"/><stop offset="0.8" stop-color="#0000e4"/><stop offset="0.9" stop-color="#0000e6"/><stop offset="0.96" stop-color="#0000e6"/><stop offset="1" stop-color="#0000e7"/></linearGradient><linearGradient id="g5_2_2"><stop offset="0" stop-color="#0000dc"/><stop offset="0.04" stop-color="#0000dd"/><stop offset="0.1" stop-color="#0000dd"/><stop offset="0.2" stop-color="#0000de"/><stop offset="0.35" stop-color="#0000e0"/><stop offset="0.5" stop-color="#0000e0"/><stop offset="0.65" stop-color="#0000e2"/><stop offset="0.8" stop-color="#0000e3"/><stop offset="0.9" stop-color="#0000e5"/><stop offset="0.96" stop-color="#0000e6"/><stop offset="1" stop-color="#0000e7"/></linearGradient><linearGradient id="g5_2_3"><stop offset="0" stop-color="#0000dc"/><stop offset="0.04" stop-color="#0000dc"/><stop offset="0.1" stop-color="#0000dd"/><stop offset="0.2" stop-color="#0000dd"/><stop offset="0.35" stop-color="#0000df"/><stop offset="0.5" stop-color="#0000df"/><stop offset="0.65" stop-color="#0000e0"/><stop offset="0.8" stop-color="#0000e2"/><stop offset="0.9" stop-color="#0000e4"/><stop offset="0.96" stop-color="#0000e5"/><stop offset="1" stop-color="#0000e6"/></linearGradient><linearGradient id="g5_2_4"><stop offset="0" stop-color="#0000db"/><stop offset="0.04" stop-color="#0000db"/><stop offset="0.1" stop-color="#0000dc"/><stop offset="0.2" stop-color="#0000dc"/><stop offset="0.35" stop-color="#0000dd"/><stop offset="0.5" stop-color="#0000de"/><stop offset="0.65" stop-color="#0000df"/><stop offset="0.8" stop-color="#0000e1"/><stop offset="0.9" stop-color="#0000e3"/><stop offset="0.96" stop-color="#0000e4"/><stop offset="1" stop-color="#0000e5"/></linearGradient><linearGradient id="g5_2_5"><stop offset="0" stop-color="#0000da"/><stop offset="0.04" stop-color="#0000db"/><stop offset="0.1" stop-color="#0000db"/><stop offset="0.2" stop-color="#0000dc"/><stop offset="0.35" stop-color="#0000dd"/><stop offset="0.5" stop-color="#0000dd"/><stop offset="0.65" stop-color="#0000df"/><stop offset="0.8" stop-color="#0000e1"/><stop offset="0.9" stop-color="#0000e3"/><stop offset="0.96" stop-color="#0000e4"/><stop offset="1" stop-color="#0000e5"/></linearGradient><linearGradient id="g5_2_6"><stop offset="0" stop-color="#0000d9"/><stop offset="0.04" stop-color="#0000da"/><stop offset="0.1" stop-color="#0000da"/><stop offset="0.2" stop-color="#0000db"/><stop offset="0.35" stop-color="#0000dd"/><stop offset="0.5" stop-color="#0000dd"/><stop offset="0.65" stop-color="#0000de"/><stop offset="0.8" stop-color="#0000e0"/><stop offset="0.9" stop-color="#0000e2"/><stop offset="0.96" stop-color="#0000e3"/><stop offset="1" stop-color="#0000e4"/></linearGradient><linearGradient id="g5_2_7"><stop offset="0" stop-color="#0000d9"/><stop offset="0.04" stop-color="#0000d9"/><stop offset="0.1" stop-color="#0000da"/><stop offset="0.2" stop-color="#0000db"/><stop offset="0.35" stop-color="#0000dc"/><stop offset="0.5" stop-color="#0000dd"/><stop offset="0.65" stop-color="#0000de"/><stop offset="0.8" stop-color="#0000e0"/><stop offset="0.9" stop-color="#0000e1"/><stop offset="0.96" stop-color="#0000e2"/><stop offset="1" stop-color="#0000e3"/></linearGradient><linearGradient id="g5_2_8"><stop offset="0" stop-color="#0000d8"/><stop offset="0.04" stop-color="#0000d9"/><stop offset="0.1" stop-color="#0000d9"/><stop offset="0.2" stop-color="#0000db"/><stop offset="0.35" stop-color="#0000dc"/><stop offset="0.5" stop-color="#0000dd"/><stop offset="0.65" stop-color="#0000de"/><stop offset="0.8" stop-color="#0000e0"/><stop offset="0.9" stop-color="#0000e1"/><stop offset="0.96" stop-color="#0000e2"/><stop offset="1" stop-color="#0000e2"/></linearGradient><linearGradient id="g5_1_0"><stop offset="0" stop-color="#0000e2"/><stop offset="0.04" stop-color="#0000e3"/><stop offset="0.1" stop-color="#0000e3"/><stop offset="0.2" stop-color="#0000e4"/><stop offset="0.35" stop-color="#0000e4"/><stop offset="0.5" stop-color="#0000e5"/><stop offset="0.65" stop-color="#0000e5"/><stop offset="0.8" stop-color="#0000e6"/><stop offset="0.9" stop-color="#0000e7"/><stop offset="0.96" stop-color="#0000e7"/><stop offset="1" stop-color="#0000e8"/></linearGradient><linearGradient id="g5_1_1"><stop offset="0" stop-color="#0000e2"/><stop offset="0.1" stop-color="#0000e2"/><stop offset="0.2" stop-color="#0000e3"/><stop offset="0.35" stop-color="#0000e3"/><stop offset="0.5" stop-color="#0000e4"/><stop offset="0.65" stop-color="#0000e4"/><stop offset="0.8" stop-color="#0000e5"/><stop offset="0.9" stop-color="#0000e6"/><stop offset="0.96" stop-color="#0000e6"/><stop offset="1" stop-color="#0000e7"/></linearGradient><linearGradient id="g5_1_2"><stop offset="0" stop-color="#0000e0"/><stop offset="0.04" stop-color="#0000e1"/><stop offset="0.2" stop-color="#0000e1"/><stop offset="0.35" stop-color="#0000e2"/><stop offset="0.5" stop-color="#0000e2"/><stop offset="0.65" stop-color="#0000e3"/><stop offset="0.8" stop-color="#0000e4"/><stop offset="0.9" stop-color="#0000e5"/><stop offset="0.96" stop-color="#0000e5"/><stop offset="1" stop-color="#0000e6"/></linearGradient><linearGradient id="g5_1_3"><stop offset="0" stop-color="#0000df"/><stop offset="0.1" stop-color="#0000df"/><stop offset="0.2" stop-color="#0000e0"/><stop offset="0.5" stop-color="#0000e0"/><stop offset="0.65" stop-color="#0000e1"/><stop offset="0.8" stop-color="#0000e2"/><stop offset="0.9" stop-color="#0000e3"/><stop offset="0.96" stop-color="#0000e4"/><stop offset="1" stop-color="#0000e4"/></linearGradient><linearGradient id="g5_1_4"><stop offset="0" stop-color="#0000de"/><stop offset="0.5" stop-color="#0000de"/><stop offset="0.65" stop-color="#0000df"/><stop offset="0.8" stop-color="#0000e0"/><stop offset="0.9" stop-color="#0000e2"/><stop offset="0.96" stop-color="#0000e2"/><stop offset="1" stop-color="#0000e3"/></linearGradient><linearGradient id="g5_1_5"><stop offset="0" stop-color="#0000dd"/><stop offset="0.5" stop-color="#0000dd"/><stop offset="0.65" stop-color="#0000de"/><stop offset="0.8" stop-color="#0000df"/><stop offset="0.9" stop-color="#0000e1"/><stop offset="0.96" stop-color="#0000e1"/><stop offset="1" stop-color="#0000e2"/></linearGradient><linearGradient id="g5_1_6"><stop offset="0" stop-color="#0000db"/><stop offset="0.2" stop-color="#0000db"/><stop offset="0.35" stop-color="#0000dc"/><stop offset="0.5" stop-color="#0000dc"/><stop offset="0.65" stop-color="#0000dd"/><stop offset="0.8" stop-color="#0000de"/><stop offset="0.9" stop-color="#0000df"/><stop offset="0.96" stop-color="#0000df"/><stop offset="1" stop-color="#0000e0"/></linearGradient><linearGradient id="g5_1_7"><stop offset="0" stop-color="#0000d9"/><stop offset="0.04" stop-color="#0000d9"/><stop offset="0.1" stop-color="#0000da"/><stop offset="0.2" stop-color="#0000da"/><stop offset="0.35" stop-color="#0000db"/><stop offset="0.5" stop-color="#0000db"/><stop offset="0.65" stop-color="#0000dc"/><stop offset="0.8" stop-color="#0000dd"/><stop offset="0.9" stop-color="#0000dd"/><stop offset="0.96" stop-color="#0000de"/><stop offset="1" stop-color="#0000de"/></linearGradient><linearGradient id="g5_1_8"><stop offset="0" stop-color="#0000d8"/><stop offset="0.04" stop-color="#0000d8"/><stop offset="0.1" stop-color="#0000d9"/><stop offset="0.2" stop-color="#0000d9"/><stop offset="0.35" stop-color="#0000da"/><stop offset="0.5" stop-color="#0000db"/><stop offset="0.65" stop-color="#0000db"/><stop offset="0.8" stop-color="#0000dc"/><stop offset="0.9" stop-color="#0000dd"/><stop offset="1" stop-color="#0000dd"/></linearGradient><linearGradient id="g5_0_0"><stop offset="0" stop-color="#0000b9"/><stop offset="0.04" stop-color="#0000b9"/><stop offset="0.1" stop-color="#0000ba"/><stop offset="0.2" stop-color="#0000bb"/><stop offset="0.35" stop-color="#0000bb"/><stop offset="0.5" stop-color="#0000bc"/><stop offset="0.65" stop-color="#0000bc"/><stop offset="0.8" stop-color="#0000bd"/><stop offset="0.9" stop-color="#0000be"/><stop offset="1" stop-color="#0000be"/></linearGradient><linearGradient id="g5_0_1"><stop offset="0" stop-color="#0000b9"/><stop offset="0.04" stop-color="#0000b9"/><stop offset="0.1" stop-color="#0000ba"/><stop offset="0.2" stop-color="#0000ba"/><stop offset="0.35" stop-color="#0000bb"/><stop offset="0.65" stop-color="#0000bb"/><stop offset="0.8" stop-color="#0000bc"/><stop offset="0.9" stop-color="#0000bd"/><stop offset="0.96" stop-color="#0000be"/><stop offset="1" stop-color="#0000be"/></linearGradient><linearGradient id="g5_0_2"><stop offset="0" stop-color="#0000b9"/><stop offset="0.2" stop-color="#0000b9"/><stop offset="0.35" stop-color="#0000ba"/><stop offset="0.5" stop-color="#0000ba"/><stop offset="0.65" stop-color="#0000bb"/><stop offset="0.8" stop-color="#0000bc"/><stop offset="0.9" stop-color="#0000bc"/><stop offset="0.96" stop-color="#0000bd"/><stop offset="1" stop-color="#0000bd"/></linearGradient><linearGradient id="g5_0_3"><stop offset="0" stop-color="#0000b8"/><stop offset="0.2" stop-color="#0000b8"/><stop offset="0.35" stop-color="#0000b9"/><stop offset="0.65" stop-color="#0000b9"/><stop offset="0.8" stop-color="#0000bb"/><stop offset="0.9" stop-color="#0000bc"/><stop offset="0.96" stop-color="#0000bc"/><stop offset="1" stop-color="#0000bd"/></linearGradient><linearGradient id="g5_0_4"><stop offset="0" stop-color="#0000b8"/><stop offset="0.2" stop-color="#0000b8"/><stop offset="0.35" stop-color="#0000b7"/><stop offset="0.5" stop-color="#0000b7"/><stop offset="0.65" stop-color="#0000b8"/><stop offset="0.8" stop-color="#0000ba"/><stop offset="0.9" stop-color="#0000bb"/><stop offset="0.96" stop-color="#0000bc"/><stop offset="1" stop-color="#0000bc"/></linearGradient><linearGradient id="g5_0_5"><stop offset="0" stop-color="#0000b8"/><stop offset="0.1" stop-color="#0000b8"/><stop offset="0.2" stop-color="#0000b7"/><stop offset="0.5" stop-color="#0000b7"/><stop offset="0.65" stop-color="#0000b8"/><stop offset="0.8" stop-color="#0000b9"/><stop offset="0.9" stop-color="#0000ba"/><stop offset="0.96" stop-color="#0000bb"/><stop offset="1" stop-color="#0000bc"/></linearGradient><linearGradient id="g5_0_6"><stop offset="0" stop-color="#0000b7"/><stop offset="0.5" stop-color="#0000b7"/><stop offset="0.65" stop-color="#0000b8"/><stop offset="0.8" stop-color="#0000b9"/><stop offset="0.9" stop-color="#0000ba"/><stop offset="0.96" stop-color="#0000ba"/><stop offset="1" stop-color="#0000bb"/></linearGradient><linearGradient id="g5_0_7"><stop offset="0" stop-color="#0000b7"/><stop offset="0.2" stop-color="#0000b7"/><stop offset="0.35" stop-color="#0000b8"/><stop offset="0.65" stop-color="#0000b8"/><stop offset="0.8" stop-color="#0000b9"/><stop offset="0.96" stop-color="#0000b9"/><stop offset="1" stop-color="#0000ba"/></linearGradient><linearGradient id="g5_0_8"><stop offset="0" stop-color="#0000b7"/><stop offset="0.2" stop-color="#0000b7"/><stop offset="0.35" stop-color="#0000b8"/><stop offset="0.65" stop-color="#0000b8"/><stop offset="0.8" stop-color="#0000b9"/><stop offset="1" stop-color="#0000b9"/></linearGradient><filter id="soft" filterUnits="userSpaceOnUse" x="0" y="0" width="746" height="1085"><feGaussianBlur stdDeviation="0.8"/></filter></defs><g id="all"><rect width="746" height="1085" fill="#fff"/><g transform="translate(0 0)"><text x="202" y="34" text-anchor="middle" font-size="11.6" fill="#000">June 20 UT00</text><path d="M63.3 62.7V312.3 L236 328.3 L339.6 301.9" fill="none" stroke="#949494" stroke-width="1.7"/><text x="53.2" y="75.2" text-anchor="end" font-size="10.8" fill="#000">500</text><text x="53.2" y="112.17" text-anchor="end" font-size="10.8" fill="#000">400</text><text x="53.2" y="149.14" text-anchor="end" font-size="10.8" fill="#000">360</text><text x="53.2" y="186.11" text-anchor="end" font-size="10.8" fill="#000">320</text><text x="53.2" y="223.08" text-anchor="end" font-size="10.8" fill="#000">280</text><text x="53.2" y="260.05" text-anchor="end" font-size="10.8" fill="#000">240</text><text x="53.2" y="297.02" text-anchor="end" font-size="10.8" fill="#000">200</text><text x="62.8" y="334.7" text-anchor="middle" font-size="10.8" fill="#000">109</text><text x="92.4" y="337.46" text-anchor="middle" font-size="10.8" fill="#000">110</text><text x="122" y="340.22" text-anchor="middle" font-size="10.8" fill="#000">111</text><text x="151.6" y="342.98" text-anchor="middle" font-size="10.8" fill="#000">112</text><text x="181.2" y="345.74" text-anchor="middle" font-size="10.8" fill="#000">113</text><text x="210.8" y="348.5" text-anchor="middle" font-size="10.8" fill="#000">114</text><text x="244" y="349.2" text-anchor="middle" font-size="10.8" fill="#000">25</text><text x="262.8" y="345" text-anchor="middle" font-size="10.8" fill="#000">26</text><text x="280.8" y="340.1" text-anchor="middle" font-size="10.8" fill="#000">27</text><text x="299.6" y="335.2" text-anchor="middle" font-size="10.8" fill="#000">28</text><text x="318.3" y="330.8" text-anchor="middle" font-size="10.8" fill="#000">29</text><text x="337.2" y="326.1" text-anchor="middle" font-size="10.8" fill="#000">30</text><path d="M56.9 71.3H63.3M56.9 108.27H63.3M56.9 145.24H63.3M56.9 182.21H63.3M56.9 219.18H63.3M56.9 256.15H63.3M56.9 293.12H63.3M71 313.01v5.2M100.62 315.76v5.2M130.24 318.5v5.2M159.86 321.25v5.2M189.48 323.99v5.2M219.1 326.73v5.2M238.2 327.74v5.2M256.85 322.99v5.2M275.5 318.23v5.2M294.15 313.48v5.2M312.8 308.73v5.2M331.45 303.98v5.2" fill="none" stroke="#949494" stroke-width="1.7"/><text x="116.6" y="356" text-anchor="middle" font-size="11.6" fill="#000">Longitude(°E)</text><text x="324.3" y="353" text-anchor="middle" font-size="11.6" fill="#000">Latitude(°N)</text><text transform="translate(29.8 187.4) rotate(-90)" text-anchor="middle" font-size="11.6" fill="#000">Altitude(km)</text><rect x="342.6" y="55.8" width="7.2" height="240.2" fill="url(#cb)"/><text class="s" x="352.6" y="299" font-size="7.4" fill="#000">0</text><text class="s" x="352.6" y="266.5" font-size="7.4" fill="#000">5</text><text class="s" x="352.6" y="234" font-size="7.4" fill="#000">10</text><text class="s" x="352.6" y="201.5" font-size="7.4" fill="#000">15</text><text class="s" x="352.6" y="169" font-size="7.4" fill="#000">20</text><text class="s" x="352.6" y="136.5" font-size="7.4" fill="#000">25</text><text class="s" x="352.6" y="104" font-size="7.4" fill="#000">30</text><text class="s" x="352.6" y="71.5" font-size="7.4" fill="#000">35</text><path d="M348.2 263.8h1.6M348.2 231.3h1.6M348.2 198.8h1.6M348.2 166.3h1.6M348.2 133.8h1.6M348.2 101.3h1.6M348.2 68.8h1.6" stroke="#333" stroke-width="0.7" fill="none"/><text class="s" x="346.3" y="51" text-anchor="middle" font-size="7.6" letter-spacing="0.1" fill="#000">10<tspan dy="-3.4" font-size="5.8">11</tspan><tspan dy="3.4">el/m</tspan><tspan dy="-3.4" font-size="5.8">3</tspan></text><g transform="matrix(163.3 15.5 101.5 -24.6 75.4 293.12)"><rect width="1" height="0.06" fill="url(#g0_6_0)"/><rect y="0" width="1" height="0.14" fill="url(#g0_6_1)" mask="url(#m1)"/><rect y="0.06" width="1" height="0.19" fill="url(#g0_6_2)" mask="url(#m2)"/><rect y="0.14" width="1" height="0.26" fill="url(#g0_6_3)" mask="url(#m3)"/><rect y="0.25" width="1" height="0.35" fill="url(#g0_6_4)" mask="url(#m4)"/><rect y="0.4" width="1" height="0.4" fill="url(#g0_6_5)" mask="url(#m5)"/><rect y="0.6" width="1" height="0.33" fill="url(#g0_6_6)" mask="url(#m6)"/><rect y="0.8" width="1" height="0.2" fill="url(#g0_6_7)" mask="url(#m7)"/><rect y="0.93" width="1" height="0.07" fill="url(#g0_6_8)" mask="url(#m8)"/></g><g transform="matrix(163.3 15.5 101.5 -24.6 75.4 256.15)"><rect width="1" height="0.06" fill="url(#g0_5_0)"/><rect y="0" width="1" height="0.14" fill="url(#g0_5_1)" mask="url(#m1)"/><rect y="0.06" width="1" height="0.19" fill="url(#g0_5_2)" mask="url(#m2)"/><rect y="0.14" width="1" height="0.26" fill="url(#g0_5_3)" mask="url(#m3)"/><rect y="0.25" width="1" height="0.35" fill="url(#g0_5_4)" mask="url(#m4)"/><rect y="0.4" width="1" height="0.4" fill="url(#g0_5_5)" mask="url(#m5)"/><rect y="0.6" width="1" height="0.33" fill="url(#g0_5_6)" mask="url(#m6)"/><rect y="0.8" width="1" height="0.2" fill="url(#g0_5_7)" mask="url(#m7)"/><rect y="0.93" width="1" height="0.07" fill="url(#g0_5_8)" mask="url(#m8)"/></g><g transform="matrix(163.3 15.5 101.5 -24.6 75.4 219.18)"><rect width="1" height="0.06" fill="url(#g0_4_0)"/><rect y="0" width="1" height="0.14" fill="url(#g0_4_1)" mask="url(#m1)"/><rect y="0.06" width="1" height="0.19" fill="url(#g0_4_2)" mask="url(#m2)"/><rect y="0.14" width="1" height="0.26" fill="url(#g0_4_3)" mask="url(#m3)"/><rect y="0.25" width="1" height="0.35" fill="url(#g0_4_4)" mask="url(#m4)"/><rect y="0.4" width="1" height="0.4" fill="url(#g0_4_5)" mask="url(#m5)"/><rect y="0.6" width="1" height="0.33" fill="url(#g0_4_6)" mask="url(#m6)"/><rect y="0.8" width="1" height="0.2" fill="url(#g0_4_7)" mask="url(#m7)"/><rect y="0.93" width="1" height="0.07" fill="url(#g0_4_8)" mask="url(#m8)"/></g><g transform="matrix(163.3 15.5 101.5 -24.6 75.4 182.21)"><rect width="1" height="0.06" fill="url(#g0_3_0)"/><rect y="0" width="1" height="0.14" fill="url(#g0_3_1)" mask="url(#m1)"/><rect y="0.06" width="1" height="0.19" fill="url(#g0_3_2)" mask="url(#m2)"/><rect y="0.14" width="1" height="0.26" fill="url(#g0_3_3)" mask="url(#m3)"/><rect y="0.25" width="1" height="0.35" fill="url(#g0_3_4)" mask="url(#m4)"/><rect y="0.4" width="1" height="0.4" fill="url(#g0_3_5)" mask="url(#m5)"/><rect y="0.6" width="1" height="0.33" fill="url(#g0_3_6)" mask="url(#m6)"/><rect y="0.8" width="1" height="0.2" fill="url(#g0_3_7)" mask="url(#m7)"/><rect y="0.93" width="1" height="0.07" fill="url(#g0_3_8)" mask="url(#m8)"/></g><g transform="matrix(163.3 15.5 101.5 -24.6 75.4 145.24)"><rect width="1" height="0.06" fill="url(#g0_2_0)"/><rect y="0" width="1" height="0.14" fill="url(#g0_2_1)" mask="url(#m1)"/><rect y="0.06" width="1" height="0.19" fill="url(#g0_2_2)" mask="url(#m2)"/><rect y="0.14" width="1" height="0.26" fill="url(#g0_2_3)" mask="url(#m3)"/><rect y="0.25" width="1" height="0.35" fill="url(#g0_2_4)" mask="url(#m4)"/><rect y="0.4" width="1" height="0.4" fill="url(#g0_2_5)" mask="url(#m5)"/><rect y="0.6" width="1" height="0.33" fill="url(#g0_2_6)" mask="url(#m6)"/><rect y="0.8" width="1" height="0.2" fill="url(#g0_2_7)" mask="url(#m7)"/><rect y="0.93" width="1" height="0.07" fill="url(#g0_2_8)" mask="url(#m8)"/></g><g transform="matrix(163.3 15.5 101.5 -24.6 75.4 108.27)"><rect width="1" height="0.06" fill="url(#g0_1_0)"/><rect y="0" width="1" height="0.14" fill="url(#g0_1_1)" mask="url(#m1)"/><rect y="0.06" width="1" height="0.19" fill="url(#g0_1_2)" mask="url(#m2)"/><rect y="0.14" width="1" height="0.26" fill="url(#g0_1_3)" mask="url(#m3)"/><rect y="0.25" width="1" height="0.35" fill="url(#g0_1_4)" mask="url(#m4)"/><rect y="0.4" width="1" height="0.4" fill="url(#g0_1_5)" mask="url(#m5)"/><rect y="0.6" width="1" height="0.33" fill="url(#g0_1_6)" mask="url(#m6)"/><rect y="0.8" width="1" height="0.2" fill="url(#g0_1_7)" mask="url(#m7)"/><rect y="0.93" width="1" height="0.07" fill="url(#g0_1_8)" mask="url(#m8)"/></g><g transform="matrix(163.3 15.5 101.5 -24.6 75.4 71.3)"><rect width="1" height="0.06" fill="url(#g0_0_0)"/><rect y="0" width="1" height="0.14" fill="url(#g0_0_1)" mask="url(#m1)"/><rect y="0.06" width="1" height="0.19" fill="url(#g0_0_2)" mask="url(#m2)"/><rect y="0.14" width="1" height="0.26" fill="url(#g0_0_3)" mask="url(#m3)"/><rect y="0.25" width="1" height="0.35" fill="url(#g0_0_4)" mask="url(#m4)"/><rect y="0.4" width="1" height="0.4" fill="url(#g0_0_5)" mask="url(#m5)"/><rect y="0.6" width="1" height="0.33" fill="url(#g0_0_6)" mask="url(#m6)"/><rect y="0.8" width="1" height="0.2" fill="url(#g0_0_7)" mask="url(#m7)"/><rect y="0.93" width="1" height="0.07" fill="url(#g0_0_8)" mask="url(#m8)"/></g></g><g transform="translate(359 0)"><text x="202" y="34" text-anchor="middle" font-size="11.6" fill="#000">June 20 UT04</text><path d="M63.3 62.7V312.3 L236 328.3 L339.6 301.9" fill="none" stroke="#949494" stroke-width="1.7"/><text x="53.2" y="75.2" text-anchor="end" font-size="10.8" fill="#000">500</text><text x="53.2" y="112.17" text-anchor="end" font-size="10.8" fill="#000">400</text><text x="53.2" y="149.14" text-anchor="end" font-size="10.8" fill="#000">360</text><text x="53.2" y="186.11" text-anchor="end" font-size="10.8" fill="#000">320</text><text x="53.2" y="223.08" text-anchor="end" font-size="10.8" fill="#000">280</text><text x="53.2" y="260.05" text-anchor="end" font-size="10.8" fill="#000">240</text><text x="53.2" y="297.02" text-anchor="end" font-size="10.8" fill="#000">200</text><text x="62.8" y="334.7" text-anchor="middle" font-size="10.8" fill="#000">109</text><text x="92.4" y="337.46" text-anchor="middle" font-size="10.8" fill="#000">110</text><text x="122" y="340.22" text-anchor="middle" font-size="10.8" fill="#000">111</text><text x="151.6" y="342.98" text-anchor="middle" font-size="10.8" fill="#000">112</text><text x="181.2" y="345.74" text-anchor="middle" font-size="10.8" fill="#000">113</text><text x="210.8" y="348.5" text-anchor="middle" font-size="10.8" fill="#000">114</text><text x="244" y="349.2" text-anchor="middle" font-size="10.8" fill="#000">25</text><text x="262.8" y="345" text-anchor="middle" font-size="10.8" fill="#000">26</text><text x="280.8" y="340.1" text-anchor="middle" font-size="10.8" fill="#000">27</text><text x="299.6" y="335.2" text-anchor="middle" font-size="10.8" fill="#000">28</text><text x="318.3" y="330.8" text-anchor="middle" font-size="10.8" fill="#000">29</text><text x="337.2" y="326.1" text-anchor="middle" font-size="10.8" fill="#000">30</text><path d="M56.9 71.3H63.3M56.9 108.27H63.3M56.9 145.24H63.3M56.9 182.21H63.3M56.9 219.18H63.3M56.9 256.15H63.3M56.9 293.12H63.3M71 313.01v5.2M100.62 315.76v5.2M130.24 318.5v5.2M159.86 321.25v5.2M189.48 323.99v5.2M219.1 326.73v5.2M238.2 327.74v5.2M256.85 322.99v5.2M275.5 318.23v5.2M294.15 313.48v5.2M312.8 308.73v5.2M331.45 303.98v5.2" fill="none" stroke="#949494" stroke-width="1.7"/><text x="116.6" y="356" text-anchor="middle" font-size="11.6" fill="#000">Longitude(°E)</text><text x="324.3" y="353" text-anchor="middle" font-size="11.6" fill="#000">Latitude(°N)</text><text transform="translate(29.8 187.4) rotate(-90)" text-anchor="middle" font-size="11.6" fill="#000">Altitude(km)</text><rect x="342.6" y="55.8" width="7.2" height="240.2" fill="url(#cb)"/><text class="s" x="352.6" y="299" font-size="7.4" fill="#000">0</text><text class="s" x="352.6" y="266.5" font-size="7.4" fill="#000">5</text><text class="s" x="352.6" y="234" font-size="7.4" fill="#000">10</text><text class="s" x="352.6" y="201.5" font-size="7.4" fill="#000">15</text><text class="s" x="352.6" y="169" font-size="7.4" fill="#000">20</text><text class="s" x="352.6" y="136.5" font-size="7.4" fill="#000">25</text><text class="s" x="352.6" y="104" font-size="7.4" fill="#000">30</text><text class="s" x="352.6" y="71.5" font-size="7.4" fill="#000">35</text><path d="M348.2 263.8h1.6M348.2 231.3h1.6M348.2 198.8h1.6M348.2 166.3h1.6M348.2 133.8h1.6M348.2 101.3h1.6M348.2 68.8h1.6" stroke="#333" stroke-width="0.7" fill="none"/><text class="s" x="346.3" y="51" text-anchor="middle" font-size="7.6" letter-spacing="0.1" fill="#000">10<tspan dy="-3.4" font-size="5.8">11</tspan><tspan dy="3.4">el/m</tspan><tspan dy="-3.4" font-size="5.8">3</tspan></text><g transform="matrix(163.3 15.5 101.5 -24.6 75.4 293.12)"><rect width="1" height="0.06" fill="url(#g1_6_0)"/><rect y="0" width="1" height="0.14" fill="url(#g1_6_1)" mask="url(#m1)"/><rect y="0.06" width="1" height="0.19" fill="url(#g1_6_2)" mask="url(#m2)"/><rect y="0.14" width="1" height="0.26" fill="url(#g1_6_3)" mask="url(#m3)"/><rect y="0.25" width="1" height="0.35" fill="url(#g1_6_4)" mask="url(#m4)"/><rect y="0.4" width="1" height="0.4" fill="url(#g1_6_5)" mask="url(#m5)"/><rect y="0.6" width="1" height="0.33" fill="url(#g1_6_6)" mask="url(#m6)"/><rect y="0.8" width="1" height="0.2" fill="url(#g1_6_7)" mask="url(#m7)"/><rect y="0.93" width="1" height="0.07" fill="url(#g1_6_8)" mask="url(#m8)"/></g><g transform="matrix(163.3 15.5 101.5 -24.6 75.4 256.15)"><rect width="1" height="0.06" fill="url(#g1_5_0)"/><rect y="0" width="1" height="0.14" fill="url(#g1_5_1)" mask="url(#m1)"/><rect y="0.06" width="1" height="0.19" fill="url(#g1_5_2)" mask="url(#m2)"/><rect y="0.14" width="1" height="0.26" fill="url(#g1_5_3)" mask="url(#m3)"/><rect y="0.25" width="1" height="0.35" fill="url(#g1_5_4)" mask="url(#m4)"/><rect y="0.4" width="1" height="0.4" fill="url(#g1_5_5)" mask="url(#m5)"/><rect y="0.6" width="1" height="0.33" fill="url(#g1_5_6)" mask="url(#m6)"/><rect y="0.8" width="1" height="0.2" fill="url(#g1_5_7)" mask="url(#m7)"/><rect y="0.93" width="1" height="0.07" fill="url(#g1_5_8)" mask="url(#m8)"/></g><g transform="matrix(163.3 15.5 101.5 -24.6 75.4 219.18)"><rect width="1" height="0.06" fill="url(#g1_4_0)"/><rect y="0" width="1" height="0.14" fill="url(#g1_4_1)" mask="url(#m1)"/><rect y="0.06" width="1" height="0.19" fill="url(#g1_4_2)" mask="url(#m2)"/><rect y="0.14" width="1" height="0.26" fill="url(#g1_4_3)" mask="url(#m3)"/><rect y="0.25" width="1" height="0.35" fill="url(#g1_4_4)" mask="url(#m4)"/><rect y="0.4" width="1" height="0.4" fill="url(#g1_4_5)" mask="url(#m5)"/><rect y="0.6" width="1" height="0.33" fill="url(#g1_4_6)" mask="url(#m6)"/><rect y="0.8" width="1" height="0.2" fill="url(#g1_4_7)" mask="url(#m7)"/><rect y="0.93" width="1" height="0.07" fill="url(#g1_4_8)" mask="url(#m8)"/></g><g transform="matrix(163.3 15.5 101.5 -24.6 75.4 182.21)"><rect width="1" height="0.06" fill="url(#g1_3_0)"/><rect y="0" width="1" height="0.14" fill="url(#g1_3_1)" mask="url(#m1)"/><rect y="0.06" width="1" height="0.19" fill="url(#g1_3_2)" mask="url(#m2)"/><rect y="0.14" width="1" height="0.26" fill="url(#g1_3_3)" mask="url(#m3)"/><rect y="0.25" width="1" height="0.35" fill="url(#g1_3_4)" mask="url(#m4)"/><rect y="0.4" width="1" height="0.4" fill="url(#g1_3_5)" mask="url(#m5)"/><rect y="0.6" width="1" height="0.33" fill="url(#g1_3_6)" mask="url(#m6)"/><rect y="0.8" width="1" height="0.2" fill="url(#g1_3_7)" mask="url(#m7)"/><rect y="0.93" width="1" height="0.07" fill="url(#g1_3_8)" mask="url(#m8)"/></g><g transform="matrix(163.3 15.5 101.5 -24.6 75.4 145.24)"><rect width="1" height="0.06" fill="url(#g1_2_0)"/><rect y="0" width="1" height="0.14" fill="url(#g1_2_1)" mask="url(#m1)"/><rect y="0.06" width="1" height="0.19" fill="url(#g1_2_2)" mask="url(#m2)"/><rect y="0.14" width="1" height="0.26" fill="url(#g1_2_3)" mask="url(#m3)"/><rect y="0.25" width="1" height="0.35" fill="url(#g1_2_4)" mask="url(#m4)"/><rect y="0.4" width="1" height="0.4" fill="url(#g1_2_5)" mask="url(#m5)"/><rect y="0.6" width="1" height="0.33" fill="url(#g1_2_6)" mask="url(#m6)"/><rect y="0.8" width="1" height="0.2" fill="url(#g1_2_7)" mask="url(#m7)"/><rect y="0.93" width="1" height="0.07" fill="url(#g1_2_8)" mask="url(#m8)"/></g><g transform="matrix(163.3 15.5 101.5 -24.6 75.4 108.27)"><rect width="1" height="0.06" fill="url(#g1_1_0)"/><rect y="0" width="1" height="0.14" fill="url(#g1_1_1)" mask="url(#m1)"/><rect y="0.06" width="1" height="0.19" fill="url(#g1_1_2)" mask="url(#m2)"/><rect y="0.14" width="1" height="0.26" fill="url(#g1_1_3)" mask="url(#m3)"/><rect y="0.25" width="1" height="0.35" fill="url(#g1_1_4)" mask="url(#m4)"/><rect y="0.4" width="1" height="0.4" fill="url(#g1_1_5)" mask="url(#m5)"/><rect y="0.6" width="1" height="0.33" fill="url(#g1_1_6)" mask="url(#m6)"/><rect y="0.8" width="1" height="0.2" fill="url(#g1_1_7)" mask="url(#m7)"/><rect y="0.93" width="1" height="0.07" fill="url(#g1_1_8)" mask="url(#m8)"/></g><g transform="matrix(163.3 15.5 101.5 -24.6 75.4 71.3)"><rect width="1" height="0.06" fill="url(#g1_0_0)"/><rect y="0" width="1" height="0.14" fill="url(#g1_0_1)" mask="url(#m1)"/><rect y="0.06" width="1" height="0.19" fill="url(#g1_0_2)" mask="url(#m2)"/><rect y="0.14" width="1" height="0.26" fill="url(#g1_0_3)" mask="url(#m3)"/><rect y="0.25" width="1" height="0.35" fill="url(#g1_0_4)" mask="url(#m4)"/><rect y="0.4" width="1" height="0.4" fill="url(#g1_0_5)" mask="url(#m5)"/><rect y="0.6" width="1" height="0.33" fill="url(#g1_0_6)" mask="url(#m6)"/><rect y="0.8" width="1" height="0.2" fill="url(#g1_0_7)" mask="url(#m7)"/><rect y="0.93" width="1" height="0.07" fill="url(#g1_0_8)" mask="url(#m8)"/></g></g><g transform="translate(0 355.3)"><text x="202" y="34" text-anchor="middle" font-size="11.6" fill="#000">June 20 UT08</text><path d="M63.3 62.7V312.3 L236 328.3 L339.6 301.9" fill="none" stroke="#949494" stroke-width="1.7"/><text x="53.2" y="75.2" text-anchor="end" font-size="10.8" fill="#000">500</text><text x="53.2" y="112.17" text-anchor="end" font-size="10.8" fill="#000">400</text><text x="53.2" y="149.14" text-anchor="end" font-size="10.8" fill="#000">360</text><text x="53.2" y="186.11" text-anchor="end" font-size="10.8" fill="#000">320</text><text x="53.2" y="223.08" text-anchor="end" font-size="10.8" fill="#000">280</text><text x="53.2" y="260.05" text-anchor="end" font-size="10.8" fill="#000">240</text><text x="53.2" y="297.02" text-anchor="end" font-size="10.8" fill="#000">200</text><text x="62.8" y="334.7" text-anchor="middle" font-size="10.8" fill="#000">109</text><text x="92.4" y="337.46" text-anchor="middle" font-size="10.8" fill="#000">110</text><text x="122" y="340.22" text-anchor="middle" font-size="10.8" fill="#000">111</text><text x="151.6" y="342.98" text-anchor="middle" font-size="10.8" fill="#000">112</text><text x="181.2" y="345.74" text-anchor="middle" font-size="10.8" fill="#000">113</text><text x="210.8" y="348.5" text-anchor="middle" font-size="10.8" fill="#000">114</text><text x="244" y="349.2" text-anchor="middle" font-size="10.8" fill="#000">25</text><text x="262.8" y="345" text-anchor="middle" font-size="10.8" fill="#000">26</text><text x="280.8" y="340.1" text-anchor="middle" font-size="10.8" fill="#000">27</text><text x="299.6" y="335.2" text-anchor="middle" font-size="10.8" fill="#000">28</text><text x="318.3" y="330.8" text-anchor="middle" font-size="10.8" fill="#000">29</text><text x="337.2" y="326.1" text-anchor="middle" font-size="10.8" fill="#000">30</text><path d="M56.9 71.3H63.3M56.9 108.27H63.3M56.9 145.24H63.3M56.9 182.21H63.3M56.9 219.18H63.3M56.9 256.15H63.3M56.9 293.12H63.3M71 313.01v5.2M100.62 315.76v5.2M130.24 318.5v5.2M159.86 321.25v5.2M189.48 323.99v5.2M219.1 326.73v5.2M238.2 327.74v5.2M256.85 322.99v5.2M275.5 318.23v5.2M294.15 313.48v5.2M312.8 308.73v5.2M331.45 303.98v5.2" fill="none" stroke="#949494" stroke-width="1.7"/><text x="116.6" y="356" text-anchor="middle" font-size="11.6" fill="#000">Longitude(°E)</text><text x="324.3" y="353" text-anchor="middle" font-size="11.6" fill="#000">Latitude(°N)</text><text transform="translate(29.8 187.4) rotate(-90)" text-anchor="middle" font-size="11.6" fill="#000">Altitude(km)</text><rect x="342.6" y="55.8" width="7.2" height="240.2" fill="url(#cb)"/><text class="s" x="352.6" y="299" font-size="7.4" fill="#000">0</text><text class="s" x="352.6" y="266.5" font-size="7.4" fill="#000">5</text><text class="s" x="352.6" y="234" font-size="7.4" fill="#000">10</text><text class="s" x="352.6" y="201.5" font-size="7.4" fill="#000">15</text><text class="s" x="352.6" y="169" font-size="7.4" fill="#000">20</text><text class="s" x="352.6" y="136.5" font-size="7.4" fill="#000">25</text><text class="s" x="352.6" y="104" font-size="7.4" fill="#000">30</text><text class="s" x="352.6" y="71.5" font-size="7.4" fill="#000">35</text><path d="M348.2 263.8h1.6M348.2 231.3h1.6M348.2 198.8h1.6M348.2 166.3h1.6M348.2 133.8h1.6M348.2 101.3h1.6M348.2 68.8h1.6" stroke="#333" stroke-width="0.7" fill="none"/><text class="s" x="346.3" y="51" text-anchor="middle" font-size="7.6" letter-spacing="0.1" fill="#000">10<tspan dy="-3.4" font-size="5.8">11</tspan><tspan dy="3.4">el/m</tspan><tspan dy="-3.4" font-size="5.8">3</tspan></text><g transform="matrix(163.3 15.5 101.5 -24.6 75.4 293.12)"><rect width="1" height="0.06" fill="url(#g2_6_0)"/><rect y="0" width="1" height="0.14" fill="url(#g2_6_1)" mask="url(#m1)"/><rect y="0.06" width="1" height="0.19" fill="url(#g2_6_2)" mask="url(#m2)"/><rect y="0.14" width="1" height="0.26" fill="url(#g2_6_3)" mask="url(#m3)"/><rect y="0.25" width="1" height="0.35" fill="url(#g2_6_4)" mask="url(#m4)"/><rect y="0.4" width="1" height="0.4" fill="url(#g2_6_5)" mask="url(#m5)"/><rect y="0.6" width="1" height="0.33" fill="url(#g2_6_6)" mask="url(#m6)"/><rect y="0.8" width="1" height="0.2" fill="url(#g2_6_7)" mask="url(#m7)"/><rect y="0.93" width="1" height="0.07" fill="url(#g2_6_8)" mask="url(#m8)"/></g><g transform="matrix(163.3 15.5 101.5 -24.6 75.4 256.15)"><rect width="1" height="0.06" fill="url(#g2_5_0)"/><rect y="0" width="1" height="0.14" fill="url(#g2_5_1)" mask="url(#m1)"/><rect y="0.06" width="1" height="0.19" fill="url(#g2_5_2)" mask="url(#m2)"/><rect y="0.14" width="1" height="0.26" fill="url(#g2_5_3)" mask="url(#m3)"/><rect y="0.25" width="1" height="0.35" fill="url(#g2_5_4)" mask="url(#m4)"/><rect y="0.4" width="1" height="0.4" fill="url(#g2_5_5)" mask="url(#m5)"/><rect y="0.6" width="1" height="0.33" fill="url(#g2_5_6)" mask="url(#m6)"/><rect y="0.8" width="1" height="0.2" fill="url(#g2_5_7)" mask="url(#m7)"/><rect y="0.93" width="1" height="0.07" fill="url(#g2_5_8)" mask="url(#m8)"/></g><g transform="matrix(163.3 15.5 101.5 -24.6 75.4 219.18)"><rect width="1" height="0.06" fill="url(#g2_4_0)"/><rect y="0" width="1" height="0.14" fill="url(#g2_4_1)" mask="url(#m1)"/><rect y="0.06" width="1" height="0.19" fill="url(#g2_4_2)" mask="url(#m2)"/><rect y="0.14" width="1" height="0.26" fill="url(#g2_4_3)" mask="url(#m3)"/><rect y="0.25" width="1" height="0.35" fill="url(#g2_4_4)" mask="url(#m4)"/><rect y="0.4" width="1" height="0.4" fill="url(#g2_4_5)" mask="url(#m5)"/><rect y="0.6" width="1" height="0.33" fill="url(#g2_4_6)" mask="url(#m6)"/><rect y="0.8" width="1" height="0.2" fill="url(#g2_4_7)" mask="url(#m7)"/><rect y="0.93" width="1" height="0.07" fill="url(#g2_4_8)" mask="url(#m8)"/></g><g transform="matrix(163.3 15.5 101.5 -24.6 75.4 182.21)"><rect width="1" height="0.06" fill="url(#g2_3_0)"/><rect y="0" width="1" height="0.14" fill="url(#g2_3_1)" mask="url(#m1)"/><rect y="0.06" width="1" height="0.19" fill="url(#g2_3_2)" mask="url(#m2)"/><rect y="0.14" width="1" height="0.26" fill="url(#g2_3_3)" mask="url(#m3)"/><rect y="0.25" width="1" height="0.35" fill="url(#g2_3_4)" mask="url(#m4)"/><rect y="0.4" width="1" height="0.4" fill="url(#g2_3_5)" mask="url(#m5)"/><rect y="0.6" width="1" height="0.33" fill="url(#g2_3_6)" mask="url(#m6)"/><rect y="0.8" width="1" height="0.2" fill="url(#g2_3_7)" mask="url(#m7)"/><rect y="0.93" width="1" height="0.07" fill="url(#g2_3_8)" mask="url(#m8)"/></g><g transform="matrix(163.3 15.5 101.5 -24.6 75.4 145.24)"><rect width="1" height="0.06" fill="url(#g2_2_0)"/><rect y="0" width="1" height="0.14" fill="url(#g2_2_1)" mask="url(#m1)"/><rect y="0.06" width="1" height="0.19" fill="url(#g2_2_2)" mask="url(#m2)"/><rect y="0.14" width="1" height="0.26" fill="url(#g2_2_3)" mask="url(#m3)"/><rect y="0.25" width="1" height="0.35" fill="url(#g2_2_4)" mask="url(#m4)"/><rect y="0.4" width="1" height="0.4" fill="url(#g2_2_5)" mask="url(#m5)"/><rect y="0.6" width="1" height="0.33" fill="url(#g2_2_6)" mask="url(#m6)"/><rect y="0.8" width="1" height="0.2" fill="url(#g2_2_7)" mask="url(#m7)"/><rect y="0.93" width="1" height="0.07" fill="url(#g2_2_8)" mask="url(#m8)"/></g><g transform="matrix(163.3 15.5 101.5 -24.6 75.4 108.27)"><rect width="1" height="0.06" fill="url(#g2_1_0)"/><rect y="0" width="1" height="0.14" fill="url(#g2_1_1)" mask="url(#m1)"/><rect y="0.06" width="1" height="0.19" fill="url(#g2_1_2)" mask="url(#m2)"/><rect y="0.14" width="1" height="0.26" fill="url(#g2_1_3)" mask="url(#m3)"/><rect y="0.25" width="1" height="0.35" fill="url(#g2_1_4)" mask="url(#m4)"/><rect y="0.4" width="1" height="0.4" fill="url(#g2_1_5)" mask="url(#m5)"/><rect y="0.6" width="1" height="0.33" fill="url(#g2_1_6)" mask="url(#m6)"/><rect y="0.8" width="1" height="0.2" fill="url(#g2_1_7)" mask="url(#m7)"/><rect y="0.93" width="1" height="0.07" fill="url(#g2_1_8)" mask="url(#m8)"/></g><g transform="matrix(163.3 15.5 101.5 -24.6 75.4 71.3)"><rect width="1" height="0.06" fill="url(#g2_0_0)"/><rect y="0" width="1" height="0.14" fill="url(#g2_0_1)" mask="url(#m1)"/><rect y="0.06" width="1" height="0.19" fill="url(#g2_0_2)" mask="url(#m2)"/><rect y="0.14" width="1" height="0.26" fill="url(#g2_0_3)" mask="url(#m3)"/><rect y="0.25" width="1" height="0.35" fill="url(#g2_0_4)" mask="url(#m4)"/><rect y="0.4" width="1" height="0.4" fill="url(#g2_0_5)" mask="url(#m5)"/><rect y="0.6" width="1" height="0.33" fill="url(#g2_0_6)" mask="url(#m6)"/><rect y="0.8" width="1" height="0.2" fill="url(#g2_0_7)" mask="url(#m7)"/><rect y="0.93" width="1" height="0.07" fill="url(#g2_0_8)" mask="url(#m8)"/></g></g><g transform="translate(359 355.3)"><text x="202" y="34" text-anchor="middle" font-size="11.6" fill="#000">June 20 UT12</text><path d="M63.3 62.7V312.3 L236 328.3 L339.6 301.9" fill="none" stroke="#949494" stroke-width="1.7"/><text x="53.2" y="75.2" text-anchor="end" font-size="10.8" fill="#000">500</text><text x="53.2" y="112.17" text-anchor="end" font-size="10.8" fill="#000">400</text><text x="53.2" y="149.14" text-anchor="end" font-size="10.8" fill="#000">360</text><text x="53.2" y="186.11" text-anchor="end" font-size="10.8" fill="#000">320</text><text x="53.2" y="223.08" text-anchor="end" font-size="10.8" fill="#000">280</text><text x="53.2" y="260.05" text-anchor="end" font-size="10.8" fill="#000">240</text><text x="53.2" y="297.02" text-anchor="end" font-size="10.8" fill="#000">200</text><text x="62.8" y="334.7" text-anchor="middle" font-size="10.8" fill="#000">109</text><text x="92.4" y="337.46" text-anchor="middle" font-size="10.8" fill="#000">110</text><text x="122" y="340.22" text-anchor="middle" font-size="10.8" fill="#000">111</text><text x="151.6" y="342.98" text-anchor="middle" font-size="10.8" fill="#000">112</text><text x="181.2" y="345.74" text-anchor="middle" font-size="10.8" fill="#000">113</text><text x="210.8" y="348.5" text-anchor="middle" font-size="10.8" fill="#000">114</text><text x="244" y="349.2" text-anchor="middle" font-size="10.8" fill="#000">25</text><text x="262.8" y="345" text-anchor="middle" font-size="10.8" fill="#000">26</text><text x="280.8" y="340.1" text-anchor="middle" font-size="10.8" fill="#000">27</text><text x="299.6" y="335.2" text-anchor="middle" font-size="10.8" fill="#000">28</text><text x="318.3" y="330.8" text-anchor="middle" font-size="10.8" fill="#000">29</text><text x="337.2" y="326.1" text-anchor="middle" font-size="10.8" fill="#000">30</text><path d="M56.9 71.3H63.3M56.9 108.27H63.3M56.9 145.24H63.3M56.9 182.21H63.3M56.9 219.18H63.3M56.9 256.15H63.3M56.9 293.12H63.3M71 313.01v5.2M100.62 315.76v5.2M130.24 318.5v5.2M159.86 321.25v5.2M189.48 323.99v5.2M219.1 326.73v5.2M238.2 327.74v5.2M256.85 322.99v5.2M275.5 318.23v5.2M294.15 313.48v5.2M312.8 308.73v5.2M331.45 303.98v5.2" fill="none" stroke="#949494" stroke-width="1.7"/><text x="116.6" y="356" text-anchor="middle" font-size="11.6" fill="#000">Longitude(°E)</text><text x="324.3" y="353" text-anchor="middle" font-size="11.6" fill="#000">Latitude(°N)</text><text transform="translate(29.8 187.4) rotate(-90)" text-anchor="middle" font-size="11.6" fill="#000">Altitude(km)</text><rect x="342.6" y="55.8" width="7.2" height="240.2" fill="url(#cb)"/><text class="s" x="352.6" y="299" font-size="7.4" fill="#000">0</text><text class="s" x="352.6" y="266.5" font-size="7.4" fill="#000">5</text><text class="s" x="352.6" y="234" font-size="7.4" fill="#000">10</text><text class="s" x="352.6" y="201.5" font-size="7.4" fill="#000">15</text><text class="s" x="352.6" y="169" font-size="7.4" fill="#000">20</text><text class="s" x="352.6" y="136.5" font-size="7.4" fill="#000">25</text><text class="s" x="352.6" y="104" font-size="7.4" fill="#000">30</text><text class="s" x="352.6" y="71.5" font-size="7.4" fill="#000">35</text><path d="M348.2 263.8h1.6M348.2 231.3h1.6M348.2 198.8h1.6M348.2 166.3h1.6M348.2 133.8h1.6M348.2 101.3h1.6M348.2 68.8h1.6" stroke="#333" stroke-width="0.7" fill="none"/><text class="s" x="346.3" y="51" text-anchor="middle" font-size="7.6" letter-spacing="0.1" fill="#000">10<tspan dy="-3.4" font-size="5.8">11</tspan><tspan dy="3.4">el/m</tspan><tspan dy="-3.4" font-size="5.8">3</tspan></text><g transform="matrix(163.3 15.5 101.5 -24.6 75.4 293.12)"><rect width="1" height="0.06" fill="url(#g3_6_0)"/><rect y="0" width="1" height="0.14" fill="url(#g3_6_1)" mask="url(#m1)"/><rect y="0.06" width="1" height="0.19" fill="url(#g3_6_2)" mask="url(#m2)"/><rect y="0.14" width="1" height="0.26" fill="url(#g3_6_3)" mask="url(#m3)"/><rect y="0.25" width="1" height="0.35" fill="url(#g3_6_4)" mask="url(#m4)"/><rect y="0.4" width="1" height="0.4" fill="url(#g3_6_5)" mask="url(#m5)"/><rect y="0.6" width="1" height="0.33" fill="url(#g3_6_6)" mask="url(#m6)"/><rect y="0.8" width="1" height="0.2" fill="url(#g3_6_7)" mask="url(#m7)"/><rect y="0.93" width="1" height="0.07" fill="url(#g3_6_8)" mask="url(#m8)"/></g><g transform="matrix(163.3 15.5 101.5 -24.6 75.4 256.15)"><rect width="1" height="0.06" fill="url(#g3_5_0)"/><rect y="0" width="1" height="0.14" fill="url(#g3_5_1)" mask="url(#m1)"/><rect y="0.06" width="1" height="0.19" fill="url(#g3_5_2)" mask="url(#m2)"/><rect y="0.14" width="1" height="0.26" fill="url(#g3_5_3)" mask="url(#m3)"/><rect y="0.25" width="1" height="0.35" fill="url(#g3_5_4)" mask="url(#m4)"/><rect y="0.4" width="1" height="0.4" fill="url(#g3_5_5)" mask="url(#m5)"/><rect y="0.6" width="1" height="0.33" fill="url(#g3_5_6)" mask="url(#m6)"/><rect y="0.8" width="1" height="0.2" fill="url(#g3_5_7)" mask="url(#m7)"/><rect y="0.93" width="1" height="0.07" fill="url(#g3_5_8)" mask="url(#m8)"/></g><g transform="matrix(163.3 15.5 101.5 -24.6 75.4 219.18)"><rect width="1" height="0.06" fill="url(#g3_4_0)"/><rect y="0" width="1" height="0.14" fill="url(#g3_4_1)" mask="url(#m1)"/><rect y="0.06" width="1" height="0.19" fill="url(#g3_4_2)" mask="url(#m2)"/><rect y="0.14" width="1" height="0.26" fill="url(#g3_4_3)" mask="url(#m3)"/><rect y="0.25" width="1" height="0.35" fill="url(#g3_4_4)" mask="url(#m4)"/><rect y="0.4" width="1" height="0.4" fill="url(#g3_4_5)" mask="url(#m5)"/><rect y="0.6" width="1" height="0.33" fill="url(#g3_4_6)" mask="url(#m6)"/><rect y="0.8" width="1" height="0.2" fill="url(#g3_4_7)" mask="url(#m7)"/><rect y="0.93" width="1" height="0.07" fill="url(#g3_4_8)" mask="url(#m8)"/></g><g transform="matrix(163.3 15.5 101.5 -24.6 75.4 182.21)"><rect width="1" height="0.06" fill="url(#g3_3_0)"/><rect y="0" width="1" height="0.14" fill="url(#g3_3_1)" mask="url(#m1)"/><rect y="0.06" width="1" height="0.19" fill="url(#g3_3_2)" mask="url(#m2)"/><rect y="0.14" width="1" height="0.26" fill="url(#g3_3_3)" mask="url(#m3)"/><rect y="0.25" width="1" height="0.35" fill="url(#g3_3_4)" mask="url(#m4)"/><rect y="0.4" width="1" height="0.4" fill="url(#g3_3_5)" mask="url(#m5)"/><rect y="0.6" width="1" height="0.33" fill="url(#g3_3_6)" mask="url(#m6)"/><rect y="0.8" width="1" height="0.2" fill="url(#g3_3_7)" mask="url(#m7)"/><rect y="0.93" width="1" height="0.07" fill="url(#g3_3_8)" mask="url(#m8)"/></g><g transform="matrix(163.3 15.5 101.5 -24.6 75.4 145.24)"><rect width="1" height="0.06" fill="url(#g3_2_0)"/><rect y="0" width="1" height="0.14" fill="url(#g3_2_1)" mask="url(#m1)"/><rect y="0.06" width="1" height="0.19" fill="url(#g3_2_2)" mask="url(#m2)"/><rect y="0.14" width="1" height="0.26" fill="url(#g3_2_3)" mask="url(#m3)"/><rect y="0.25" width="1" height="0.35" fill="url(#g3_2_4)" mask="url(#m4)"/><rect y="0.4" width="1" height="0.4" fill="url(#g3_2_5)" mask="url(#m5)"/><rect y="0.6" width="1" height="0.33" fill="url(#g3_2_6)" mask="url(#m6)"/><rect y="0.8" width="1" height="0.2" fill="url(#g3_2_7)" mask="url(#m7)"/><rect y="0.93" width="1" height="0.07" fill="url(#g3_2_8)" mask="url(#m8)"/></g><g transform="matrix(163.3 15.5 101.5 -24.6 75.4 108.27)"><rect width="1" height="0.06" fill="url(#g3_1_0)"/><rect y="0" width="1" height="0.14" fill="url(#g3_1_1)" mask="url(#m1)"/><rect y="0.06" width="1" height="0.19" fill="url(#g3_1_2)" mask="url(#m2)"/><rect y="0.14" width="1" height="0.26" fill="url(#g3_1_3)" mask="url(#m3)"/><rect y="0.25" width="1" height="0.35" fill="url(#g3_1_4)" mask="url(#m4)"/><rect y="0.4" width="1" height="0.4" fill="url(#g3_1_5)" mask="url(#m5)"/><rect y="0.6" width="1" height="0.33" fill="url(#g3_1_6)" mask="url(#m6)"/><rect y="0.8" width="1" height="0.2" fill="url(#g3_1_7)" mask="url(#m7)"/><rect y="0.93" width="1" height="0.07" fill="url(#g3_1_8)" mask="url(#m8)"/></g><g transform="matrix(163.3 15.5 101.5 -24.6 75.4 71.3)"><rect width="1" height="0.06" fill="url(#g3_0_0)"/><rect y="0" width="1" height="0.14" fill="url(#g3_0_1)" mask="url(#m1)"/><rect y="0.06" width="1" height="0.19" fill="url(#g3_0_2)" mask="url(#m2)"/><rect y="0.14" width="1" height="0.26" fill="url(#g3_0_3)" mask="url(#m3)"/><rect y="0.25" width="1" height="0.35" fill="url(#g3_0_4)" mask="url(#m4)"/><rect y="0.4" width="1" height="0.4" fill="url(#g3_0_5)" mask="url(#m5)"/><rect y="0.6" width="1" height="0.33" fill="url(#g3_0_6)" mask="url(#m6)"/><rect y="0.8" width="1" height="0.2" fill="url(#g3_0_7)" mask="url(#m7)"/><rect y="0.93" width="1" height="0.07" fill="url(#g3_0_8)" mask="url(#m8)"/></g></g><g transform="translate(0 706.6)"><text x="202" y="34" text-anchor="middle" font-size="11.6" fill="#000">June 20 UT16</text><path d="M63.3 62.7V312.3 L236 328.3 L339.6 301.9" fill="none" stroke="#949494" stroke-width="1.7"/><text x="53.2" y="75.2" text-anchor="end" font-size="10.8" fill="#000">500</text><text x="53.2" y="112.17" text-anchor="end" font-size="10.8" fill="#000">400</text><text x="53.2" y="149.14" text-anchor="end" font-size="10.8" fill="#000">360</text><text x="53.2" y="186.11" text-anchor="end" font-size="10.8" fill="#000">320</text><text x="53.2" y="223.08" text-anchor="end" font-size="10.8" fill="#000">280</text><text x="53.2" y="260.05" text-anchor="end" font-size="10.8" fill="#000">240</text><text x="53.2" y="297.02" text-anchor="end" font-size="10.8" fill="#000">200</text><text x="62.8" y="334.7" text-anchor="middle" font-size="10.8" fill="#000">109</text><text x="92.4" y="337.46" text-anchor="middle" font-size="10.8" fill="#000">110</text><text x="122" y="340.22" text-anchor="middle" font-size="10.8" fill="#000">111</text><text x="151.6" y="342.98" text-anchor="middle" font-size="10.8" fill="#000">112</text><text x="181.2" y="345.74" text-anchor="middle" font-size="10.8" fill="#000">113</text><text x="210.8" y="348.5" text-anchor="middle" font-size="10.8" fill="#000">114</text><text x="244" y="349.2" text-anchor="middle" font-size="10.8" fill="#000">25</text><text x="262.8" y="345" text-anchor="middle" font-size="10.8" fill="#000">26</text><text x="280.8" y="340.1" text-anchor="middle" font-size="10.8" fill="#000">27</text><text x="299.6" y="335.2" text-anchor="middle" font-size="10.8" fill="#000">28</text><text x="318.3" y="330.8" text-anchor="middle" font-size="10.8" fill="#000">29</text><text x="337.2" y="326.1" text-anchor="middle" font-size="10.8" fill="#000">30</text><path d="M56.9 71.3H63.3M56.9 108.27H63.3M56.9 145.24H63.3M56.9 182.21H63.3M56.9 219.18H63.3M56.9 256.15H63.3M56.9 293.12H63.3M71 313.01v5.2M100.62 315.76v5.2M130.24 318.5v5.2M159.86 321.25v5.2M189.48 323.99v5.2M219.1 326.73v5.2M238.2 327.74v5.2M256.85 322.99v5.2M275.5 318.23v5.2M294.15 313.48v5.2M312.8 308.73v5.2M331.45 303.98v5.2" fill="none" stroke="#949494" stroke-width="1.7"/><text x="116.6" y="356" text-anchor="middle" font-size="11.6" fill="#000">Longitude(°E)</text><text x="324.3" y="353" text-anchor="middle" font-size="11.6" fill="#000">Latitude(°N)</text><text transform="translate(29.8 187.4) rotate(-90)" text-anchor="middle" font-size="11.6" fill="#000">Altitude(km)</text><rect x="342.6" y="55.8" width="7.2" height="240.2" fill="url(#cb)"/><text class="s" x="352.6" y="299" font-size="7.4" fill="#000">0</text><text class="s" x="352.6" y="266.5" font-size="7.4" fill="#000">5</text><text class="s" x="352.6" y="234" font-size="7.4" fill="#000">10</text><text class="s" x="352.6" y="201.5" font-size="7.4" fill="#000">15</text><text class="s" x="352.6" y="169" font-size="7.4" fill="#000">20</text><text class="s" x="352.6" y="136.5" font-size="7.4" fill="#000">25</text><text class="s" x="352.6" y="104" font-size="7.4" fill="#000">30</text><text class="s" x="352.6" y="71.5" font-size="7.4" fill="#000">35</text><path d="M348.2 263.8h1.6M348.2 231.3h1.6M348.2 198.8h1.6M348.2 166.3h1.6M348.2 133.8h1.6M348.2 101.3h1.6M348.2 68.8h1.6" stroke="#333" stroke-width="0.7" fill="none"/><text class="s" x="346.3" y="51" text-anchor="middle" font-size="7.6" letter-spacing="0.1" fill="#000">10<tspan dy="-3.4" font-size="5.8">11</tspan><tspan dy="3.4">el/m</tspan><tspan dy="-3.4" font-size="5.8">3</tspan></text><g transform="matrix(163.3 15.5 101.5 -24.6 75.4 293.12)"><rect width="1" height="0.06" fill="url(#g4_6_0)"/><rect y="0" width="1" height="0.14" fill="url(#g4_6_1)" mask="url(#m1)"/><rect y="0.06" width="1" height="0.19" fill="url(#g4_6_2)" mask="url(#m2)"/><rect y="0.14" width="1" height="0.26" fill="url(#g4_6_3)" mask="url(#m3)"/><rect y="0.25" width="1" height="0.35" fill="url(#g4_6_4)" mask="url(#m4)"/><rect y="0.4" width="1" height="0.4" fill="url(#g4_6_5)" mask="url(#m5)"/><rect y="0.6" width="1" height="0.33" fill="url(#g4_6_6)" mask="url(#m6)"/><rect y="0.8" width="1" height="0.2" fill="url(#g4_6_7)" mask="url(#m7)"/><rect y="0.93" width="1" height="0.07" fill="url(#g4_6_8)" mask="url(#m8)"/></g><g transform="matrix(163.3 15.5 101.5 -24.6 75.4 256.15)"><rect width="1" height="0.06" fill="url(#g4_5_0)"/><rect y="0" width="1" height="0.14" fill="url(#g4_5_1)" mask="url(#m1)"/><rect y="0.06" width="1" height="0.19" fill="url(#g4_5_2)" mask="url(#m2)"/><rect y="0.14" width="1" height="0.26" fill="url(#g4_5_3)" mask="url(#m3)"/><rect y="0.25" width="1" height="0.35" fill="url(#g4_5_4)" mask="url(#m4)"/><rect y="0.4" width="1" height="0.4" fill="url(#g4_5_5)" mask="url(#m5)"/><rect y="0.6" width="1" height="0.33" fill="url(#g4_5_6)" mask="url(#m6)"/><rect y="0.8" width="1" height="0.2" fill="url(#g4_5_7)" mask="url(#m7)"/><rect y="0.93" width="1" height="0.07" fill="url(#g4_5_8)" mask="url(#m8)"/></g><g transform="matrix(163.3 15.5 101.5 -24.6 75.4 219.18)"><rect width="1" height="0.06" fill="url(#g4_4_0)"/><rect y="0" width="1" height="0.14" fill="url(#g4_4_1)" mask="url(#m1)"/><rect y="0.06" width="1" height="0.19" fill="url(#g4_4_2)" mask="url(#m2)"/><rect y="0.14" width="1" height="0.26" fill="url(#g4_4_3)" mask="url(#m3)"/><rect y="0.25" width="1" height="0.35" fill="url(#g4_4_4)" mask="url(#m4)"/><rect y="0.4" width="1" height="0.4" fill="url(#g4_4_5)" mask="url(#m5)"/><rect y="0.6" width="1" height="0.33" fill="url(#g4_4_6)" mask="url(#m6)"/><rect y="0.8" width="1" height="0.2" fill="url(#g4_4_7)" mask="url(#m7)"/><rect y="0.93" width="1" height="0.07" fill="url(#g4_4_8)" mask="url(#m8)"/></g><g transform="matrix(163.3 15.5 101.5 -24.6 75.4 182.21)"><rect width="1" height="0.06" fill="url(#g4_3_0)"/><rect y="0" width="1" height="0.14" fill="url(#g4_3_1)" mask="url(#m1)"/><rect y="0.06" width="1" height="0.19" fill="url(#g4_3_2)" mask="url(#m2)"/><rect y="0.14" width="1" height="0.26" fill="url(#g4_3_3)" mask="url(#m3)"/><rect y="0.25" width="1" height="0.35" fill="url(#g4_3_4)" mask="url(#m4)"/><rect y="0.4" width="1" height="0.4" fill="url(#g4_3_5)" mask="url(#m5)"/><rect y="0.6" width="1" height="0.33" fill="url(#g4_3_6)" mask="url(#m6)"/><rect y="0.8" width="1" height="0.2" fill="url(#g4_3_7)" mask="url(#m7)"/><rect y="0.93" width="1" height="0.07" fill="url(#g4_3_8)" mask="url(#m8)"/></g><g transform="matrix(163.3 15.5 101.5 -24.6 75.4 145.24)"><rect width="1" height="0.06" fill="url(#g4_2_0)"/><rect y="0" width="1" height="0.14" fill="url(#g4_2_1)" mask="url(#m1)"/><rect y="0.06" width="1" height="0.19" fill="url(#g4_2_2)" mask="url(#m2)"/><rect y="0.14" width="1" height="0.26" fill="url(#g4_2_3)" mask="url(#m3)"/><rect y="0.25" width="1" height="0.35" fill="url(#g4_2_4)" mask="url(#m4)"/><rect y="0.4" width="1" height="0.4" fill="url(#g4_2_5)" mask="url(#m5)"/><rect y="0.6" width="1" height="0.33" fill="url(#g4_2_6)" mask="url(#m6)"/><rect y="0.8" width="1" height="0.2" fill="url(#g4_2_7)" mask="url(#m7)"/><rect y="0.93" width="1" height="0.07" fill="url(#g4_2_8)" mask="url(#m8)"/></g><g transform="matrix(163.3 15.5 101.5 -24.6 75.4 108.27)"><rect width="1" height="0.06" fill="url(#g4_1_0)"/><rect y="0" width="1" height="0.14" fill="url(#g4_1_1)" mask="url(#m1)"/><rect y="0.06" width="1" height="0.19" fill="url(#g4_1_2)" mask="url(#m2)"/><rect y="0.14" width="1" height="0.26" fill="url(#g4_1_3)" mask="url(#m3)"/><rect y="0.25" width="1" height="0.35" fill="url(#g4_1_4)" mask="url(#m4)"/><rect y="0.4" width="1" height="0.4" fill="url(#g4_1_5)" mask="url(#m5)"/><rect y="0.6" width="1" height="0.33" fill="url(#g4_1_6)" mask="url(#m6)"/><rect y="0.8" width="1" height="0.2" fill="url(#g4_1_7)" mask="url(#m7)"/><rect y="0.93" width="1" height="0.07" fill="url(#g4_1_8)" mask="url(#m8)"/></g><g transform="matrix(163.3 15.5 101.5 -24.6 75.4 71.3)"><rect width="1" height="0.06" fill="url(#g4_0_0)"/><rect y="0" width="1" height="0.14" fill="url(#g4_0_1)" mask="url(#m1)"/><rect y="0.06" width="1" height="0.19" fill="url(#g4_0_2)" mask="url(#m2)"/><rect y="0.14" width="1" height="0.26" fill="url(#g4_0_3)" mask="url(#m3)"/><rect y="0.25" width="1" height="0.35" fill="url(#g4_0_4)" mask="url(#m4)"/><rect y="0.4" width="1" height="0.4" fill="url(#g4_0_5)" mask="url(#m5)"/><rect y="0.6" width="1" height="0.33" fill="url(#g4_0_6)" mask="url(#m6)"/><rect y="0.8" width="1" height="0.2" fill="url(#g4_0_7)" mask="url(#m7)"/><rect y="0.93" width="1" height="0.07" fill="url(#g4_0_8)" mask="url(#m8)"/></g></g><g transform="translate(359 706.6)"><text x="202" y="34" text-anchor="middle" font-size="11.6" fill="#000">June 20 UT20</text><path d="M63.3 62.7V312.3 L236 328.3 L339.6 301.9" fill="none" stroke="#949494" stroke-width="1.7"/><text x="53.2" y="75.2" text-anchor="end" font-size="10.8" fill="#000">500</text><text x="53.2" y="112.17" text-anchor="end" font-size="10.8" fill="#000">400</text><text x="53.2" y="149.14" text-anchor="end" font-size="10.8" fill="#000">360</text><text x="53.2" y="186.11" text-anchor="end" font-size="10.8" fill="#000">320</text><text x="53.2" y="223.08" text-anchor="end" font-size="10.8" fill="#000">280</text><text x="53.2" y="260.05" text-anchor="end" font-size="10.8" fill="#000">240</text><text x="53.2" y="297.02" text-anchor="end" font-size="10.8" fill="#000">200</text><text x="62.8" y="334.7" text-anchor="middle" font-size="10.8" fill="#000">109</text><text x="92.4" y="337.46" text-anchor="middle" font-size="10.8" fill="#000">110</text><text x="122" y="340.22" text-anchor="middle" font-size="10.8" fill="#000">111</text><text x="151.6" y="342.98" text-anchor="middle" font-size="10.8" fill="#000">112</text><text x="181.2" y="345.74" text-anchor="middle" font-size="10.8" fill="#000">113</text><text x="210.8" y="348.5" text-anchor="middle" font-size="10.8" fill="#000">114</text><text x="244" y="349.2" text-anchor="middle" font-size="10.8" fill="#000">25</text><text x="262.8" y="345" text-anchor="middle" font-size="10.8" fill="#000">26</text><text x="280.8" y="340.1" text-anchor="middle" font-size="10.8" fill="#000">27</text><text x="299.6" y="335.2" text-anchor="middle" font-size="10.8" fill="#000">28</text><text x="318.3" y="330.8" text-anchor="middle" font-size="10.8" fill="#000">29</text><text x="337.2" y="326.1" text-anchor="middle" font-size="10.8" fill="#000">30</text><path d="M56.9 71.3H63.3M56.9 108.27H63.3M56.9 145.24H63.3M56.9 182.21H63.3M56.9 219.18H63.3M56.9 256.15H63.3M56.9 293.12H63.3M71 313.01v5.2M100.62 315.76v5.2M130.24 318.5v5.2M159.86 321.25v5.2M189.48 323.99v5.2M219.1 326.73v5.2M238.2 327.74v5.2M256.85 322.99v5.2M275.5 318.23v5.2M294.15 313.48v5.2M312.8 308.73v5.2M331.45 303.98v5.2" fill="none" stroke="#949494" stroke-width="1.7"/><text x="116.6" y="356" text-anchor="middle" font-size="11.6" fill="#000">Longitude(°E)</text><text x="324.3" y="353" text-anchor="middle" font-size="11.6" fill="#000">Latitude(°N)</text><text transform="translate(29.8 187.4) rotate(-90)" text-anchor="middle" font-size="11.6" fill="#000">Altitude(km)</text><rect x="342.6" y="55.8" width="7.2" height="240.2" fill="url(#cb)"/><text class="s" x="352.6" y="299" font-size="7.4" fill="#000">0</text><text class="s" x="352.6" y="266.5" font-size="7.4" fill="#000">5</text><text class="s" x="352.6" y="234" font-size="7.4" fill="#000">10</text><text class="s" x="352.6" y="201.5" font-size="7.4" fill="#000">15</text><text class="s" x="352.6" y="169" font-size="7.4" fill="#000">20</text><text class="s" x="352.6" y="136.5" font-size="7.4" fill="#000">25</text><text class="s" x="352.6" y="104" font-size="7.4" fill="#000">30</text><text class="s" x="352.6" y="71.5" font-size="7.4" fill="#000">35</text><path d="M348.2 263.8h1.6M348.2 231.3h1.6M348.2 198.8h1.6M348.2 166.3h1.6M348.2 133.8h1.6M348.2 101.3h1.6M348.2 68.8h1.6" stroke="#333" stroke-width="0.7" fill="none"/><text class="s" x="346.3" y="51" text-anchor="middle" font-size="7.6" letter-spacing="0.1" fill="#000">10<tspan dy="-3.4" font-size="5.8">11</tspan><tspan dy="3.4">el/m</tspan><tspan dy="-3.4" font-size="5.8">3</tspan></text><g transform="matrix(163.3 15.5 101.5 -24.6 75.4 293.12)"><rect width="1" height="0.06" fill="url(#g5_6_0)"/><rect y="0" width="1" height="0.14" fill="url(#g5_6_1)" mask="url(#m1)"/><rect y="0.06" width="1" height="0.19" fill="url(#g5_6_2)" mask="url(#m2)"/><rect y="0.14" width="1" height="0.26" fill="url(#g5_6_3)" mask="url(#m3)"/><rect y="0.25" width="1" height="0.35" fill="url(#g5_6_4)" mask="url(#m4)"/><rect y="0.4" width="1" height="0.4" fill="url(#g5_6_5)" mask="url(#m5)"/><rect y="0.6" width="1" height="0.33" fill="url(#g5_6_6)" mask="url(#m6)"/><rect y="0.8" width="1" height="0.2" fill="url(#g5_6_7)" mask="url(#m7)"/><rect y="0.93" width="1" height="0.07" fill="url(#g5_6_8)" mask="url(#m8)"/></g><g transform="matrix(163.3 15.5 101.5 -24.6 75.4 256.15)"><rect width="1" height="0.06" fill="url(#g5_5_0)"/><rect y="0" width="1" height="0.14" fill="url(#g5_5_1)" mask="url(#m1)"/><rect y="0.06" width="1" height="0.19" fill="url(#g5_5_2)" mask="url(#m2)"/><rect y="0.14" width="1" height="0.26" fill="url(#g5_5_3)" mask="url(#m3)"/><rect y="0.25" width="1" height="0.35" fill="url(#g5_5_4)" mask="url(#m4)"/><rect y="0.4" width="1" height="0.4" fill="url(#g5_5_5)" mask="url(#m5)"/><rect y="0.6" width="1" height="0.33" fill="url(#g5_5_6)" mask="url(#m6)"/><rect y="0.8" width="1" height="0.2" fill="url(#g5_5_7)" mask="url(#m7)"/><rect y="0.93" width="1" height="0.07" fill="url(#g5_5_8)" mask="url(#m8)"/></g><g transform="matrix(163.3 15.5 101.5 -24.6 75.4 219.18)"><rect width="1" height="0.06" fill="url(#g5_4_0)"/><rect y="0" width="1" height="0.14" fill="url(#g5_4_1)" mask="url(#m1)"/><rect y="0.06" width="1" height="0.19" fill="url(#g5_4_2)" mask="url(#m2)"/><rect y="0.14" width="1" height="0.26" fill="url(#g5_4_3)" mask="url(#m3)"/><rect y="0.25" width="1" height="0.35" fill="url(#g5_4_4)" mask="url(#m4)"/><rect y="0.4" width="1" height="0.4" fill="url(#g5_4_5)" mask="url(#m5)"/><rect y="0.6" width="1" height="0.33" fill="url(#g5_4_6)" mask="url(#m6)"/><rect y="0.8" width="1" height="0.2" fill="url(#g5_4_7)" mask="url(#m7)"/><rect y="0.93" width="1" height="0.07" fill="url(#g5_4_8)" mask="url(#m8)"/></g><g transform="matrix(163.3 15.5 101.5 -24.6 75.4 182.21)"><rect width="1" height="0.06" fill="url(#g5_3_0)"/><rect y="0" width="1" height="0.14" fill="url(#g5_3_1)" mask="url(#m1)"/><rect y="0.06" width="1" height="0.19" fill="url(#g5_3_2)" mask="url(#m2)"/><rect y="0.14" width="1" height="0.26" fill="url(#g5_3_3)" mask="url(#m3)"/><rect y="0.25" width="1" height="0.35" fill="url(#g5_3_4)" mask="url(#m4)"/><rect y="0.4" width="1" height="0.4" fill="url(#g5_3_5)" mask="url(#m5)"/><rect y="0.6" width="1" height="0.33" fill="url(#g5_3_6)" mask="url(#m6)"/><rect y="0.8" width="1" height="0.2" fill="url(#g5_3_7)" mask="url(#m7)"/><rect y="0.93" width="1" height="0.07" fill="url(#g5_3_8)" mask="url(#m8)"/></g><g transform="matrix(163.3 15.5 101.5 -24.6 75.4 145.24)"><rect width="1" height="0.06" fill="url(#g5_2_0)"/><rect y="0" width="1" height="0.14" fill="url(#g5_2_1)" mask="url(#m1)"/><rect y="0.06" width="1" height="0.19" fill="url(#g5_2_2)" mask="url(#m2)"/><rect y="0.14" width="1" height="0.26" fill="url(#g5_2_3)" mask="url(#m3)"/><rect y="0.25" width="1" height="0.35" fill="url(#g5_2_4)" mask="url(#m4)"/><rect y="0.4" width="1" height="0.4" fill="url(#g5_2_5)" mask="url(#m5)"/><rect y="0.6" width="1" height="0.33" fill="url(#g5_2_6)" mask="url(#m6)"/><rect y="0.8" width="1" height="0.2" fill="url(#g5_2_7)" mask="url(#m7)"/><rect y="0.93" width="1" height="0.07" fill="url(#g5_2_8)" mask="url(#m8)"/></g><g transform="matrix(163.3 15.5 101.5 -24.6 75.4 108.27)"><rect width="1" height="0.06" fill="url(#g5_1_0)"/><rect y="0" width="1" height="0.14" fill="url(#g5_1_1)" mask="url(#m1)"/><rect y="0.06" width="1" height="0.19" fill="url(#g5_1_2)" mask="url(#m2)"/><rect y="0.14" width="1" height="0.26" fill="url(#g5_1_3)" mask="url(#m3)"/><rect y="0.25" width="1" height="0.35" fill="url(#g5_1_4)" mask="url(#m4)"/><rect y="0.4" width="1" height="0.4" fill="url(#g5_1_5)" mask="url(#m5)"/><rect y="0.6" width="1" height="0.33" fill="url(#g5_1_6)" mask="url(#m6)"/><rect y="0.8" width="1" height="0.2" fill="url(#g5_1_7)" mask="url(#m7)"/><rect y="0.93" width="1" height="0.07" fill="url(#g5_1_8)" mask="url(#m8)"/></g><g transform="matrix(163.3 15.5 101.5 -24.6 75.4 71.3)"><rect width="1" height="0.06" fill="url(#g5_0_0)"/><rect y="0" width="1" height="0.14" fill="url(#g5_0_1)" mask="url(#m1)"/><rect y="0.06" width="1" height="0.19" fill="url(#g5_0_2)" mask="url(#m2)"/><rect y="0.14" width="1" height="0.26" fill="url(#g5_0_3)" mask="url(#m3)"/><rect y="0.25" width="1" height="0.35" fill="url(#g5_0_4)" mask="url(#m4)"/><rect y="0.4" width="1" height="0.4" fill="url(#g5_0_5)" mask="url(#m5)"/><rect y="0.6" width="1" height="0.33" fill="url(#g5_0_6)" mask="url(#m6)"/><rect y="0.8" width="1" height="0.2" fill="url(#g5_0_7)" mask="url(#m7)"/><rect y="0.93" width="1" height="0.07" fill="url(#g5_0_8)" mask="url(#m8)"/></g></g></g><use href="#all" filter="url(#soft)" opacity="0.5"/></svg></div>
</body></html>
